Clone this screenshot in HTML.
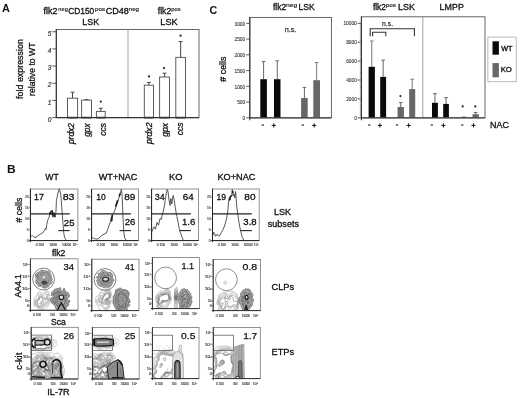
<!DOCTYPE html>
<html><head><meta charset="utf-8"><style>
html,body{margin:0;padding:0;background:#fff;}
body{width:520px;height:398px;overflow:hidden;}
svg{display:block;font-family:'Liberation Sans', Arial, sans-serif;}
text{font-variant-ligatures:none;font-kerning:normal;}
</style></head><body>
<svg width="520" height="398" viewBox="0 0 520 398">
<rect width="520" height="398" fill="#fff"/>
<text x="1.98" y="11.75" font-size="11.05" text-anchor="start" font-weight="bold" fill="#111" textLength="7.87" lengthAdjust="spacingAndGlyphs">A</text>
<text x="43.62" y="13.9" font-size="8.5" text-anchor="start" fill="#111" stroke="#111" stroke-width="0.3" textLength="13.89" lengthAdjust="spacingAndGlyphs">flk2</text>
<text x="58.37" y="11.1" font-size="5.6" text-anchor="start" fill="#111" stroke="#111" stroke-width="0.12" textLength="9.44" lengthAdjust="spacingAndGlyphs">neg</text>
<text x="68.13" y="13.9" font-size="8.5" text-anchor="start" fill="#111" stroke="#111" stroke-width="0.3" textLength="26.14" lengthAdjust="spacingAndGlyphs">CD150</text>
<text x="95.14" y="11.1" font-size="5.6" text-anchor="start" fill="#111" stroke="#111" stroke-width="0.12" textLength="10.13" lengthAdjust="spacingAndGlyphs">pos</text>
<text x="105.7" y="13.9" font-size="8.5" text-anchor="start" fill="#111" stroke="#111" stroke-width="0.3" textLength="23.05" lengthAdjust="spacingAndGlyphs">CD48</text>
<text x="128.73" y="11.1" font-size="5.6" text-anchor="start" fill="#111" stroke="#111" stroke-width="0.12" textLength="10.31" lengthAdjust="spacingAndGlyphs">neg</text>
<text x="82.32" y="24.76" font-size="8.62" text-anchor="start" fill="#111" stroke="#111" stroke-width="0.3" textLength="16.74" lengthAdjust="spacingAndGlyphs">LSK</text>
<text x="157.82" y="13.8" font-size="8.5" text-anchor="start" fill="#111" stroke="#111" stroke-width="0.3" textLength="13.37" lengthAdjust="spacingAndGlyphs">flk2</text>
<text x="171.38" y="11.0" font-size="5.6" text-anchor="start" fill="#111" stroke="#111" stroke-width="0.12" textLength="9.17" lengthAdjust="spacingAndGlyphs">pos</text>
<text x="160.3" y="24.87" font-size="8.34" text-anchor="start" fill="#111" stroke="#111" stroke-width="0.3" textLength="17.27" lengthAdjust="spacingAndGlyphs">LSK</text>
<rect x="56.3" y="29.5" width="142.7" height="88.1" fill="none" stroke="#555" stroke-width="0.9"/>
<line x1="56.3" y1="29.0" x2="56.3" y2="118.1" stroke="#333" stroke-width="1.1"/>
<line x1="128" y1="29.5" x2="128" y2="117.6" stroke="#999" stroke-width="0.9"/>
<line x1="52.4" y1="117.6" x2="56.3" y2="117.6" stroke="#444" stroke-width="0.9"/>
<text x="51.4" y="121.69999999999999" font-size="6.5" text-anchor="end" font-style="italic" fill="#333" stroke="#333" stroke-width="0.2">0</text>
<line x1="52.4" y1="100.42999999999999" x2="56.3" y2="100.42999999999999" stroke="#444" stroke-width="0.9"/>
<text x="51.4" y="104.52999999999999" font-size="6.5" text-anchor="end" font-style="italic" fill="#333" stroke="#333" stroke-width="0.2">1</text>
<line x1="52.4" y1="83.25999999999999" x2="56.3" y2="83.25999999999999" stroke="#444" stroke-width="0.9"/>
<text x="51.4" y="87.35999999999999" font-size="6.5" text-anchor="end" font-style="italic" fill="#333" stroke="#333" stroke-width="0.2">2</text>
<line x1="52.4" y1="66.08999999999999" x2="56.3" y2="66.08999999999999" stroke="#444" stroke-width="0.9"/>
<text x="51.4" y="70.18999999999998" font-size="6.5" text-anchor="end" font-style="italic" fill="#333" stroke="#333" stroke-width="0.2">3</text>
<line x1="52.4" y1="48.91999999999999" x2="56.3" y2="48.91999999999999" stroke="#444" stroke-width="0.9"/>
<text x="51.4" y="53.01999999999999" font-size="6.5" text-anchor="end" font-style="italic" fill="#333" stroke="#333" stroke-width="0.2">4</text>
<line x1="52.4" y1="31.749999999999986" x2="56.3" y2="31.749999999999986" stroke="#444" stroke-width="0.9"/>
<text x="51.4" y="35.84999999999999" font-size="6.5" text-anchor="end" font-style="italic" fill="#333" stroke="#333" stroke-width="0.2">5</text>
<line x1="72.55000000000001" y1="98.2" x2="72.55000000000001" y2="92.2" stroke="#444" stroke-width="1"/>
<line x1="70.65" y1="92.2" x2="74.45000000000002" y2="92.2" stroke="#444" stroke-width="1"/>
<rect x="67.5" y="98.2" width="10.099999999999998" height="19.39999999999999" fill="#fff" stroke="#555" stroke-width="0.95"/>
<line x1="67.4" y1="117.6" x2="77.7" y2="117.6" stroke="#222" stroke-width="1.6"/>
<line x1="86.55" y1="100.1" x2="86.55" y2="99.6" stroke="#444" stroke-width="1"/>
<line x1="84.64999999999999" y1="99.6" x2="88.45" y2="99.6" stroke="#444" stroke-width="1"/>
<rect x="81.6" y="100.1" width="9.899999999999995" height="17.5" fill="#fff" stroke="#555" stroke-width="0.95"/>
<line x1="81.5" y1="117.6" x2="91.6" y2="117.6" stroke="#222" stroke-width="1.6"/>
<line x1="100.8" y1="111.4" x2="100.8" y2="108.3" stroke="#444" stroke-width="1"/>
<line x1="98.89999999999999" y1="108.3" x2="102.7" y2="108.3" stroke="#444" stroke-width="1"/>
<rect x="96.39999999999999" y="111.4" width="8.8" height="6.199999999999989" fill="#fff" stroke="#555" stroke-width="0.95"/>
<line x1="96.3" y1="117.6" x2="105.3" y2="117.6" stroke="#222" stroke-width="1.6"/>
<circle cx="100.8" cy="101.6" r="1.1" fill="#222"/>
<line x1="148.89999999999998" y1="85.2" x2="148.89999999999998" y2="82.4" stroke="#444" stroke-width="1"/>
<line x1="146.99999999999997" y1="82.4" x2="150.79999999999998" y2="82.4" stroke="#444" stroke-width="1"/>
<rect x="144.29999999999998" y="85.2" width="9.200000000000006" height="32.39999999999999" fill="#fff" stroke="#555" stroke-width="0.95"/>
<line x1="144.2" y1="117.6" x2="153.6" y2="117.6" stroke="#222" stroke-width="1.6"/>
<circle cx="149.0" cy="76.4" r="1.1" fill="#222"/>
<line x1="164.55" y1="77.0" x2="164.55" y2="73.2" stroke="#444" stroke-width="1"/>
<line x1="162.65" y1="73.2" x2="166.45000000000002" y2="73.2" stroke="#444" stroke-width="1"/>
<rect x="159.6" y="77.0" width="9.899999999999995" height="40.599999999999994" fill="#fff" stroke="#555" stroke-width="0.95"/>
<line x1="159.5" y1="117.6" x2="169.6" y2="117.6" stroke="#222" stroke-width="1.6"/>
<circle cx="164.0" cy="68.1" r="1.1" fill="#222"/>
<line x1="180.64999999999998" y1="57.4" x2="180.64999999999998" y2="41.6" stroke="#444" stroke-width="1"/>
<line x1="178.74999999999997" y1="41.6" x2="182.54999999999998" y2="41.6" stroke="#444" stroke-width="1"/>
<rect x="175.79999999999998" y="57.4" width="9.700000000000006" height="60.199999999999996" fill="#fff" stroke="#555" stroke-width="0.95"/>
<line x1="175.7" y1="117.6" x2="185.6" y2="117.6" stroke="#222" stroke-width="1.6"/>
<circle cx="180.6" cy="35.7" r="1.1" fill="#222"/>
<line x1="56.3" y1="117.6" x2="199" y2="117.6" stroke="#333" stroke-width="1.1"/>
<text x="74.1" y="144.04" font-size="8.3" text-anchor="start" font-style="italic" fill="#111" stroke="#111" stroke-width="0.3" textLength="21.01" lengthAdjust="spacingAndGlyphs" transform="rotate(-90 74.1 144.04)">prdx2</text>
<text x="90.2" y="136.77" font-size="8.3" text-anchor="start" font-style="italic" fill="#111" stroke="#111" stroke-width="0.3" textLength="13.39" lengthAdjust="spacingAndGlyphs" transform="rotate(-90 90.2 136.77)">gpx</text>
<text x="105.7" y="135.73" font-size="8.3" text-anchor="start" font-style="italic" fill="#111" stroke="#111" stroke-width="0.3" textLength="12.75" lengthAdjust="spacingAndGlyphs" transform="rotate(-90 105.7 135.73)">ccs</text>
<text x="151.9" y="144.04" font-size="8.3" text-anchor="start" font-style="italic" fill="#111" stroke="#111" stroke-width="0.3" textLength="21.51" lengthAdjust="spacingAndGlyphs" transform="rotate(-90 151.9 144.04)">prdx2</text>
<text x="168.1" y="136.77" font-size="8.3" text-anchor="start" font-style="italic" fill="#111" stroke="#111" stroke-width="0.3" textLength="13.88" lengthAdjust="spacingAndGlyphs" transform="rotate(-90 168.1 136.77)">gpx</text>
<text x="183.4" y="135.33" font-size="8.3" text-anchor="start" font-style="italic" fill="#111" stroke="#111" stroke-width="0.3" textLength="12.85" lengthAdjust="spacingAndGlyphs" transform="rotate(-90 183.4 135.33)">ccs</text>
<text x="22.62" y="98.88" font-size="8.8" text-anchor="start" fill="#111" stroke="#111" stroke-width="0.3" textLength="59.72" lengthAdjust="spacingAndGlyphs" transform="rotate(-90 22.62 98.88)">fold expression</text>
<text x="34.96" y="95.94" font-size="8.8" text-anchor="start" fill="#111" stroke="#111" stroke-width="0.3" textLength="53.49" lengthAdjust="spacingAndGlyphs" transform="rotate(-90 34.96 95.94)">relative to WT</text>
<text x="209.42" y="14.13" font-size="11.59" text-anchor="start" font-weight="bold" fill="#111" textLength="7.72" lengthAdjust="spacingAndGlyphs">C</text>
<text x="272.92" y="10.0" font-size="8.6" text-anchor="start" fill="#111" stroke="#111" stroke-width="0.3" textLength="13.26" lengthAdjust="spacingAndGlyphs">flk2</text>
<text x="286.0" y="7.3" font-size="5.6" text-anchor="start" fill="#111" stroke="#111" stroke-width="0.12" textLength="11.18" lengthAdjust="spacingAndGlyphs">neg</text>
<text x="298.54" y="10.0" font-size="8.6" text-anchor="start" fill="#111" stroke="#111" stroke-width="0.3" textLength="16.32" lengthAdjust="spacingAndGlyphs">LSK</text>
<text x="372.92" y="10.0" font-size="8.6" text-anchor="start" fill="#111" stroke="#111" stroke-width="0.3" textLength="13.06" lengthAdjust="spacingAndGlyphs">flk2</text>
<text x="385.84" y="7.3" font-size="5.6" text-anchor="start" fill="#111" stroke="#111" stroke-width="0.12" textLength="10.13" lengthAdjust="spacingAndGlyphs">pos</text>
<text x="398.01" y="10.0" font-size="8.6" text-anchor="start" fill="#111" stroke="#111" stroke-width="0.3" textLength="16.85" lengthAdjust="spacingAndGlyphs">LSK</text>
<text x="439.62" y="9.55" font-size="9.02" text-anchor="start" fill="#111" stroke="#111" stroke-width="0.3" textLength="24.21" lengthAdjust="spacingAndGlyphs">LMPP</text>
<text x="225.96" y="81.69" font-size="8.9" text-anchor="start" fill="#111" stroke="#111" stroke-width="0.3" textLength="25.15" lengthAdjust="spacingAndGlyphs" transform="rotate(-90 225.96 81.69)"># cells</text>
<rect x="249.8" y="17.4" width="81.6" height="100.4" fill="none" stroke="#555" stroke-width="0.9"/>
<line x1="246.3" y1="117.8" x2="249.8" y2="117.8" stroke="#444" stroke-width="0.9"/>
<text x="245.2" y="120.0" font-size="4.8" text-anchor="end" fill="#333" stroke="#333" stroke-width="0.1">0</text>
<line x1="246.3" y1="102.05" x2="249.8" y2="102.05" stroke="#444" stroke-width="0.9"/>
<text x="245.2" y="104.25" font-size="4.8" text-anchor="end" fill="#333" stroke="#333" stroke-width="0.1">500</text>
<line x1="246.3" y1="86.3" x2="249.8" y2="86.3" stroke="#444" stroke-width="0.9"/>
<text x="245.2" y="88.5" font-size="4.8" text-anchor="end" fill="#333" stroke="#333" stroke-width="0.1">1000</text>
<line x1="246.3" y1="70.55" x2="249.8" y2="70.55" stroke="#444" stroke-width="0.9"/>
<text x="245.2" y="72.75" font-size="4.8" text-anchor="end" fill="#333" stroke="#333" stroke-width="0.1">1500</text>
<line x1="246.3" y1="54.8" x2="249.8" y2="54.8" stroke="#444" stroke-width="0.9"/>
<text x="245.2" y="57.0" font-size="4.8" text-anchor="end" fill="#333" stroke="#333" stroke-width="0.1">2000</text>
<line x1="246.3" y1="39.05" x2="249.8" y2="39.05" stroke="#444" stroke-width="0.9"/>
<text x="245.2" y="41.25" font-size="4.8" text-anchor="end" fill="#333" stroke="#333" stroke-width="0.1">2500</text>
<line x1="246.3" y1="23.299999999999997" x2="249.8" y2="23.299999999999997" stroke="#444" stroke-width="0.9"/>
<text x="245.2" y="25.499999999999996" font-size="4.8" text-anchor="end" fill="#333" stroke="#333" stroke-width="0.1">3000</text>
<line x1="263.6" y1="79.2" x2="263.6" y2="61.6" stroke="#666" stroke-width="1"/>
<line x1="261.8" y1="61.6" x2="265.40000000000003" y2="61.6" stroke="#666" stroke-width="1"/>
<rect x="260.3" y="79.2" width="6.599999999999966" height="38.599999999999994" fill="#0a0a0a" stroke="none" stroke-width="1"/>
<line x1="277.25" y1="79.2" x2="277.25" y2="60.8" stroke="#666" stroke-width="1"/>
<line x1="275.45" y1="60.8" x2="279.05" y2="60.8" stroke="#666" stroke-width="1"/>
<rect x="274.0" y="79.2" width="6.5" height="38.599999999999994" fill="#0a0a0a" stroke="none" stroke-width="1"/>
<line x1="304.4" y1="98.0" x2="304.4" y2="87.4" stroke="#666" stroke-width="1"/>
<line x1="302.59999999999997" y1="87.4" x2="306.2" y2="87.4" stroke="#666" stroke-width="1"/>
<rect x="301.1" y="98.0" width="6.599999999999966" height="19.799999999999997" fill="#676767" stroke="none" stroke-width="1"/>
<line x1="316.65" y1="80.2" x2="316.65" y2="62.6" stroke="#777" stroke-width="1"/>
<line x1="314.84999999999997" y1="62.6" x2="318.45" y2="62.6" stroke="#777" stroke-width="1"/>
<rect x="313.3" y="80.2" width="6.699999999999989" height="37.599999999999994" fill="#676767" stroke="none" stroke-width="1"/>
<text x="284.76" y="32.1" font-size="8.0" text-anchor="start" fill="#333" stroke="#333" stroke-width="0.25" textLength="11.63" lengthAdjust="spacingAndGlyphs">n.s.</text>
<rect x="361.4" y="16.8" width="123.6" height="101.0" fill="none" stroke="#555" stroke-width="0.9"/>
<line x1="422.8" y1="16.8" x2="422.8" y2="117.8" stroke="#a0a0a0" stroke-width="1"/>
<line x1="357.6" y1="117.8" x2="361.4" y2="117.8" stroke="#444" stroke-width="0.9"/>
<text x="356.8" y="119.6" font-size="4.8" text-anchor="end" fill="#333" stroke="#333" stroke-width="0.1">0</text>
<line x1="357.6" y1="98.9" x2="361.4" y2="98.9" stroke="#444" stroke-width="0.9"/>
<text x="356.8" y="100.7" font-size="4.8" text-anchor="end" fill="#333" stroke="#333" stroke-width="0.1">2000</text>
<line x1="357.6" y1="80.0" x2="361.4" y2="80.0" stroke="#444" stroke-width="0.9"/>
<text x="356.8" y="81.8" font-size="4.8" text-anchor="end" fill="#333" stroke="#333" stroke-width="0.1">4000</text>
<line x1="357.6" y1="61.1" x2="361.4" y2="61.1" stroke="#444" stroke-width="0.9"/>
<text x="356.8" y="62.9" font-size="4.8" text-anchor="end" fill="#333" stroke="#333" stroke-width="0.1">6000</text>
<line x1="357.6" y1="42.2" x2="361.4" y2="42.2" stroke="#444" stroke-width="0.9"/>
<text x="356.8" y="44.0" font-size="4.8" text-anchor="end" fill="#333" stroke="#333" stroke-width="0.1">8000</text>
<line x1="357.6" y1="23.299999999999997" x2="361.4" y2="23.299999999999997" stroke="#444" stroke-width="0.9"/>
<text x="356.8" y="25.099999999999998" font-size="4.8" text-anchor="end" fill="#333" stroke="#333" stroke-width="0.1">10000</text>
<line x1="359.8" y1="115.91" x2="361.4" y2="115.91" stroke="#555" stroke-width="0.6"/>
<line x1="359.8" y1="114.02" x2="361.4" y2="114.02" stroke="#555" stroke-width="0.6"/>
<line x1="359.8" y1="112.13" x2="361.4" y2="112.13" stroke="#555" stroke-width="0.6"/>
<line x1="359.8" y1="110.24" x2="361.4" y2="110.24" stroke="#555" stroke-width="0.6"/>
<line x1="359.8" y1="108.35" x2="361.4" y2="108.35" stroke="#555" stroke-width="0.6"/>
<line x1="359.8" y1="106.46" x2="361.4" y2="106.46" stroke="#555" stroke-width="0.6"/>
<line x1="359.8" y1="104.57" x2="361.4" y2="104.57" stroke="#555" stroke-width="0.6"/>
<line x1="359.8" y1="102.67999999999999" x2="361.4" y2="102.67999999999999" stroke="#555" stroke-width="0.6"/>
<line x1="359.8" y1="100.78999999999999" x2="361.4" y2="100.78999999999999" stroke="#555" stroke-width="0.6"/>
<line x1="359.8" y1="97.00999999999999" x2="361.4" y2="97.00999999999999" stroke="#555" stroke-width="0.6"/>
<line x1="359.8" y1="95.12" x2="361.4" y2="95.12" stroke="#555" stroke-width="0.6"/>
<line x1="359.8" y1="93.22999999999999" x2="361.4" y2="93.22999999999999" stroke="#555" stroke-width="0.6"/>
<line x1="359.8" y1="91.34" x2="361.4" y2="91.34" stroke="#555" stroke-width="0.6"/>
<line x1="359.8" y1="89.44999999999999" x2="361.4" y2="89.44999999999999" stroke="#555" stroke-width="0.6"/>
<line x1="359.8" y1="87.56" x2="361.4" y2="87.56" stroke="#555" stroke-width="0.6"/>
<line x1="359.8" y1="85.67" x2="361.4" y2="85.67" stroke="#555" stroke-width="0.6"/>
<line x1="359.8" y1="83.78" x2="361.4" y2="83.78" stroke="#555" stroke-width="0.6"/>
<line x1="359.8" y1="81.89" x2="361.4" y2="81.89" stroke="#555" stroke-width="0.6"/>
<line x1="359.8" y1="78.11" x2="361.4" y2="78.11" stroke="#555" stroke-width="0.6"/>
<line x1="359.8" y1="76.22" x2="361.4" y2="76.22" stroke="#555" stroke-width="0.6"/>
<line x1="359.8" y1="74.33" x2="361.4" y2="74.33" stroke="#555" stroke-width="0.6"/>
<line x1="359.8" y1="72.44" x2="361.4" y2="72.44" stroke="#555" stroke-width="0.6"/>
<line x1="359.8" y1="70.55000000000001" x2="361.4" y2="70.55000000000001" stroke="#555" stroke-width="0.6"/>
<line x1="359.8" y1="68.66" x2="361.4" y2="68.66" stroke="#555" stroke-width="0.6"/>
<line x1="359.8" y1="66.77000000000001" x2="361.4" y2="66.77000000000001" stroke="#555" stroke-width="0.6"/>
<line x1="359.8" y1="64.88" x2="361.4" y2="64.88" stroke="#555" stroke-width="0.6"/>
<line x1="359.8" y1="62.99000000000001" x2="361.4" y2="62.99000000000001" stroke="#555" stroke-width="0.6"/>
<line x1="359.8" y1="59.21" x2="361.4" y2="59.21" stroke="#555" stroke-width="0.6"/>
<line x1="359.8" y1="57.32" x2="361.4" y2="57.32" stroke="#555" stroke-width="0.6"/>
<line x1="359.8" y1="55.43000000000001" x2="361.4" y2="55.43000000000001" stroke="#555" stroke-width="0.6"/>
<line x1="359.8" y1="53.540000000000006" x2="361.4" y2="53.540000000000006" stroke="#555" stroke-width="0.6"/>
<line x1="359.8" y1="51.64999999999999" x2="361.4" y2="51.64999999999999" stroke="#555" stroke-width="0.6"/>
<line x1="359.8" y1="49.760000000000005" x2="361.4" y2="49.760000000000005" stroke="#555" stroke-width="0.6"/>
<line x1="359.8" y1="47.870000000000005" x2="361.4" y2="47.870000000000005" stroke="#555" stroke-width="0.6"/>
<line x1="359.8" y1="45.980000000000004" x2="361.4" y2="45.980000000000004" stroke="#555" stroke-width="0.6"/>
<line x1="359.8" y1="44.09" x2="361.4" y2="44.09" stroke="#555" stroke-width="0.6"/>
<line x1="359.8" y1="40.31" x2="361.4" y2="40.31" stroke="#555" stroke-width="0.6"/>
<line x1="359.8" y1="38.42" x2="361.4" y2="38.42" stroke="#555" stroke-width="0.6"/>
<line x1="359.8" y1="36.53" x2="361.4" y2="36.53" stroke="#555" stroke-width="0.6"/>
<line x1="359.8" y1="34.64" x2="361.4" y2="34.64" stroke="#555" stroke-width="0.6"/>
<line x1="359.8" y1="32.750000000000014" x2="361.4" y2="32.750000000000014" stroke="#555" stroke-width="0.6"/>
<line x1="359.8" y1="30.86" x2="361.4" y2="30.86" stroke="#555" stroke-width="0.6"/>
<line x1="359.8" y1="28.97" x2="361.4" y2="28.97" stroke="#555" stroke-width="0.6"/>
<line x1="359.8" y1="27.08" x2="361.4" y2="27.08" stroke="#555" stroke-width="0.6"/>
<line x1="359.8" y1="25.190000000000012" x2="361.4" y2="25.190000000000012" stroke="#555" stroke-width="0.6"/>
<line x1="371.75" y1="66.8" x2="371.75" y2="41.0" stroke="#777" stroke-width="1"/>
<line x1="369.95" y1="41.0" x2="373.55" y2="41.0" stroke="#777" stroke-width="1"/>
<rect x="368.6" y="66.8" width="6.2999999999999545" height="51.0" fill="#0a0a0a" stroke="none" stroke-width="1"/>
<line x1="383.15" y1="76.9" x2="383.15" y2="60.1" stroke="#666" stroke-width="1"/>
<line x1="381.34999999999997" y1="60.1" x2="384.95" y2="60.1" stroke="#666" stroke-width="1"/>
<rect x="380.2" y="76.9" width="5.900000000000034" height="40.89999999999999" fill="#0a0a0a" stroke="none" stroke-width="1"/>
<line x1="400.75" y1="107.0" x2="400.75" y2="102.6" stroke="#666" stroke-width="1"/>
<line x1="398.95" y1="102.6" x2="402.55" y2="102.6" stroke="#666" stroke-width="1"/>
<rect x="397.6" y="107.0" width="6.2999999999999545" height="10.799999999999997" fill="#676767" stroke="none" stroke-width="1"/>
<circle cx="400.4" cy="96.1" r="1.05" fill="#222"/>
<line x1="412.2" y1="89.1" x2="412.2" y2="79.2" stroke="#777" stroke-width="1"/>
<line x1="410.4" y1="79.2" x2="414.0" y2="79.2" stroke="#777" stroke-width="1"/>
<rect x="409.2" y="89.1" width="6.0" height="28.700000000000003" fill="#676767" stroke="none" stroke-width="1"/>
<line x1="434.95" y1="102.8" x2="434.95" y2="93.6" stroke="#666" stroke-width="1"/>
<line x1="433.15" y1="93.6" x2="436.75" y2="93.6" stroke="#666" stroke-width="1"/>
<rect x="432.0" y="102.8" width="5.899999999999977" height="15.0" fill="#0a0a0a" stroke="none" stroke-width="1"/>
<line x1="446.04999999999995" y1="103.9" x2="446.04999999999995" y2="97.6" stroke="#666" stroke-width="1"/>
<line x1="444.24999999999994" y1="97.6" x2="447.84999999999997" y2="97.6" stroke="#666" stroke-width="1"/>
<rect x="443.2" y="103.9" width="5.699999999999989" height="13.899999999999991" fill="#0a0a0a" stroke="none" stroke-width="1"/>
<line x1="463.95000000000005" y1="117.0" x2="463.95000000000005" y2="117.0" stroke="#666" stroke-width="1"/>
<line x1="462.15000000000003" y1="117.0" x2="465.75000000000006" y2="117.0" stroke="#666" stroke-width="1"/>
<rect x="460.8" y="117.0" width="6.300000000000011" height="0.7999999999999972" fill="#676767" stroke="none" stroke-width="1"/>
<circle cx="462.7" cy="106.4" r="1.05" fill="#222"/>
<line x1="475.65" y1="114.2" x2="475.65" y2="112.5" stroke="#666" stroke-width="1"/>
<line x1="473.84999999999997" y1="112.5" x2="477.45" y2="112.5" stroke="#666" stroke-width="1"/>
<rect x="472.5" y="114.2" width="6.300000000000011" height="3.5999999999999943" fill="#676767" stroke="none" stroke-width="1"/>
<circle cx="475.3" cy="106.4" r="1.05" fill="#222"/>
<path d="M370.2 36.3 V28.8 H414.4 V36.3" fill="none" stroke="#333" stroke-width="1.1"/>
<path d="M372.6 36.3 V32.3 H385.8 V36.3" fill="none" stroke="#333" stroke-width="1.1"/>
<text x="382.09" y="26.0" font-size="8.0" text-anchor="start" fill="#333" stroke="#333" stroke-width="0.25" textLength="10.97" lengthAdjust="spacingAndGlyphs">n.s.</text>
<line x1="249.8" y1="117.8" x2="331.4" y2="117.8" stroke="#444" stroke-width="1.2"/>
<line x1="361.4" y1="117.8" x2="485.0" y2="117.8" stroke="#444" stroke-width="1.2"/>
<line x1="249.8" y1="17.0" x2="249.8" y2="120.3" stroke="#333" stroke-width="1.1"/>
<line x1="361.4" y1="16.4" x2="361.4" y2="120.3" stroke="#333" stroke-width="1.1"/>
<line x1="261.7" y1="125.0" x2="263.90000000000003" y2="125.0" stroke="#222" stroke-width="1.2"/>
<line x1="271.7" y1="125.4" x2="275.90000000000003" y2="125.4" stroke="#111" stroke-width="1.0"/>
<line x1="273.8" y1="123.3" x2="273.8" y2="127.5" stroke="#111" stroke-width="1.0"/>
<line x1="301.7" y1="125.0" x2="303.90000000000003" y2="125.0" stroke="#222" stroke-width="1.2"/>
<line x1="312.09999999999997" y1="125.4" x2="316.3" y2="125.4" stroke="#111" stroke-width="1.0"/>
<line x1="314.2" y1="123.3" x2="314.2" y2="127.5" stroke="#111" stroke-width="1.0"/>
<line x1="368.2" y1="125.0" x2="370.40000000000003" y2="125.0" stroke="#222" stroke-width="1.2"/>
<line x1="377.79999999999995" y1="125.4" x2="382.0" y2="125.4" stroke="#111" stroke-width="1.0"/>
<line x1="379.9" y1="123.3" x2="379.9" y2="127.5" stroke="#111" stroke-width="1.0"/>
<line x1="395.9" y1="125.0" x2="398.1" y2="125.0" stroke="#222" stroke-width="1.2"/>
<line x1="406.59999999999997" y1="125.4" x2="410.8" y2="125.4" stroke="#111" stroke-width="1.0"/>
<line x1="408.7" y1="123.3" x2="408.7" y2="127.5" stroke="#111" stroke-width="1.0"/>
<line x1="430.7" y1="125.0" x2="432.90000000000003" y2="125.0" stroke="#222" stroke-width="1.2"/>
<line x1="441.29999999999995" y1="125.4" x2="445.5" y2="125.4" stroke="#111" stroke-width="1.0"/>
<line x1="443.4" y1="123.3" x2="443.4" y2="127.5" stroke="#111" stroke-width="1.0"/>
<line x1="461.09999999999997" y1="125.0" x2="463.3" y2="125.0" stroke="#222" stroke-width="1.2"/>
<line x1="471.4" y1="125.4" x2="475.6" y2="125.4" stroke="#111" stroke-width="1.0"/>
<line x1="473.5" y1="123.3" x2="473.5" y2="127.5" stroke="#111" stroke-width="1.0"/>
<text x="490.11" y="127.66" font-size="9.19" text-anchor="start" fill="#111" stroke="#111" stroke-width="0.3" textLength="18.89" lengthAdjust="spacingAndGlyphs">NAC</text>
<rect x="487.9" y="37.1" width="28.3" height="44.6" fill="none" stroke="#aaa" stroke-width="0.8"/>
<rect x="492.5" y="41.3" width="6.4" height="13.4" fill="#0a0a0a" stroke="none" stroke-width="1"/>
<rect x="492.5" y="63.1" width="6.4" height="14.2" fill="#676767" stroke="none" stroke-width="1"/>
<text x="501.31" y="50.75" font-size="6.69" text-anchor="start" fill="#111" stroke="#111" stroke-width="0.3" textLength="11.2" lengthAdjust="spacingAndGlyphs">WT</text>
<text x="500.71" y="72.08" font-size="6.5" text-anchor="start" fill="#111" stroke="#111" stroke-width="0.3" textLength="11.21" lengthAdjust="spacingAndGlyphs">KO</text>
<text x="6.94" y="172.65" font-size="11.05" text-anchor="start" font-weight="bold" fill="#111" textLength="8.64" lengthAdjust="spacingAndGlyphs">B</text>
<text x="45.21" y="180.05" font-size="8.73" text-anchor="start" fill="#111" stroke="#111" stroke-width="0.3" textLength="13.54" lengthAdjust="spacingAndGlyphs">WT</text>
<text x="98.8" y="180.06" font-size="8.62" text-anchor="start" fill="#111" stroke="#111" stroke-width="0.3" textLength="38.61" lengthAdjust="spacingAndGlyphs">WT+NAC</text>
<text x="169.08" y="179.87" font-size="8.34" text-anchor="start" fill="#111" stroke="#111" stroke-width="0.3" textLength="13.4" lengthAdjust="spacingAndGlyphs">KO</text>
<text x="217.49" y="180.26" font-size="8.62" text-anchor="start" fill="#111" stroke="#111" stroke-width="0.3" textLength="38.03" lengthAdjust="spacingAndGlyphs">KO+NAC</text>
<text x="22.26" y="222.49" font-size="8.9" text-anchor="start" fill="#111" stroke="#111" stroke-width="0.3" textLength="24.75" lengthAdjust="spacingAndGlyphs" transform="rotate(-90 22.26 222.49)"># cells</text>
<text x="20.55" y="297.47" font-size="8.9" text-anchor="start" fill="#111" stroke="#111" stroke-width="0.3" textLength="23.34" lengthAdjust="spacingAndGlyphs" transform="rotate(-90 20.55 297.47)">AA4.1</text>
<text x="22.26" y="369.64" font-size="8.9" text-anchor="start" fill="#111" stroke="#111" stroke-width="0.3" textLength="16.87" lengthAdjust="spacingAndGlyphs" transform="rotate(-90 22.26 369.64)">c-kit</text>
<text x="51.92" y="255.8" font-size="8.9" text-anchor="start" fill="#111" stroke="#111" stroke-width="0.3" textLength="13.47" lengthAdjust="spacingAndGlyphs">flk2</text>
<text x="50.96" y="324.5" font-size="9.3" text-anchor="start" fill="#111" stroke="#111" stroke-width="0.3" textLength="14.89" lengthAdjust="spacingAndGlyphs">Sca</text>
<text x="47.31" y="394.6" font-size="8.8" text-anchor="start" fill="#111" stroke="#111" stroke-width="0.3" textLength="22.28" lengthAdjust="spacingAndGlyphs">IL-7R</text>
<text x="273.9" y="215.3" font-size="8.8" text-anchor="start" fill="#111" stroke="#111" stroke-width="0.3" textLength="17.16" lengthAdjust="spacingAndGlyphs">LSK</text>
<text x="267.8" y="226.6" font-size="9.0" text-anchor="start" fill="#111" stroke="#111" stroke-width="0.3" textLength="31.15" lengthAdjust="spacingAndGlyphs">subsets</text>
<text x="271.49" y="289.7" font-size="9.4" text-anchor="start" fill="#111" stroke="#111" stroke-width="0.3" textLength="22.69" lengthAdjust="spacingAndGlyphs">CLPs</text>
<text x="271.48" y="354.5" font-size="9.3" text-anchor="start" fill="#111" stroke="#111" stroke-width="0.3" textLength="22.69" lengthAdjust="spacingAndGlyphs">ETPs</text>
<polyline points="31.2,236.2 32.4,235.5 33.8,236.9 36.0,237.4 38.2,235.5 40.4,234.2 42.6,233.0 44.0,231.2 45.5,228.3 46.1,229.5 46.6,225.4 47.6,220.3 49.1,217.3 49.8,212.2 51.0,215.1 52.0,210.0 53.0,217.3 53.9,212.4 54.9,217.3 55.9,212.9 56.4,200.6 57.8,194.0 58.6,191.0 59.3,188.7 60.1,191.5 60.8,194.7 61.8,207.8 62.9,222.4 63.7,232.6 64.4,236.5 65.1,238.7 66.5,240.6" fill="none" stroke="#3a3a3a" stroke-width="0.85" stroke-linejoin="round"/>
<line x1="30.4" y1="213.8" x2="69.69999999999999" y2="213.8" stroke="#222" stroke-width="1.25"/>
<line x1="58.4" y1="230.6" x2="69.69999999999999" y2="230.6" stroke="#222" stroke-width="1.1"/>
<text x="34.09" y="199.65" font-size="9.2" text-anchor="start" fill="#111" stroke="#111" stroke-width="0.3" textLength="9.82" lengthAdjust="spacingAndGlyphs">17</text>
<text x="62.7" y="199.85" font-size="9.2" text-anchor="start" fill="#111" stroke="#111" stroke-width="0.3" textLength="11.83" lengthAdjust="spacingAndGlyphs">83</text>
<text x="63.87" y="225.55" font-size="9.2" text-anchor="start" fill="#111" stroke="#111" stroke-width="0.3" textLength="10.58" lengthAdjust="spacingAndGlyphs">25</text>
<rect x="30.4" y="189.0" width="47.50000000000001" height="51.599999999999994" fill="none" stroke="#777" stroke-width="0.8"/>
<line x1="30.4" y1="188.7" x2="30.4" y2="242.1" stroke="#222" stroke-width="1"/>
<line x1="28.9" y1="240.6" x2="77.9" y2="240.6" stroke="#222" stroke-width="1"/>
<path d="M50.2 213.8 L50.9 210.8 M52.3 210.5 L53 216.5 M54.2 213 L55 217" stroke="#222" stroke-width="1.2"/>
<line x1="28.799999999999997" y1="197.256" x2="30.4" y2="197.256" stroke="#555" stroke-width="0.6"/>
<text x="28.5" y="198.356" font-size="3.2" text-anchor="end" fill="#333" stroke="#333" stroke-width="0.12">20</text>
<line x1="28.799999999999997" y1="207.834" x2="30.4" y2="207.834" stroke="#555" stroke-width="0.6"/>
<text x="28.5" y="208.934" font-size="3.2" text-anchor="end" fill="#333" stroke="#333" stroke-width="0.12">15</text>
<line x1="28.799999999999997" y1="218.7216" x2="30.4" y2="218.7216" stroke="#555" stroke-width="0.6"/>
<text x="28.5" y="219.8216" font-size="3.2" text-anchor="end" fill="#333" stroke="#333" stroke-width="0.12">10</text>
<line x1="28.799999999999997" y1="229.764" x2="30.4" y2="229.764" stroke="#555" stroke-width="0.6"/>
<text x="28.5" y="230.864" font-size="3.2" text-anchor="end" fill="#333" stroke="#333" stroke-width="0.12">5</text>
<line x1="28.799999999999997" y1="240.6" x2="30.4" y2="240.6" stroke="#555" stroke-width="0.6"/>
<text x="28.5" y="241.7" font-size="3.2" text-anchor="end" fill="#333" stroke="#333" stroke-width="0.12">0</text>
<text x="39.9" y="245.79999999999998" font-size="3.3" text-anchor="middle" fill="#333" stroke="#333" stroke-width="0.12">0 100</text>
<text x="53.2" y="245.79999999999998" font-size="3.3" text-anchor="middle" fill="#333" stroke="#333" stroke-width="0.12">1000</text>
<text x="66.5" y="245.79999999999998" font-size="3.3" text-anchor="middle" fill="#333" stroke="#333" stroke-width="0.12">10000</text>
<text x="75.05000000000001" y="245.79999999999998" font-size="3.3" text-anchor="middle" fill="#333" stroke="#333" stroke-width="0.12">10⁵</text>
<polyline points="91.9,237.2 93.5,238.4 94.8,238.7 97.7,239.1 99.9,237.2 102.1,235.2 104.3,234.0 106.2,233.3 107.6,229.7 109.1,225.3 110.5,221.7 111.4,217.0 111.8,221.0 112.3,214.5 113.5,213.5 114.9,210.0 116.7,204.9 117.8,202.0 118.8,198.4 119.9,194.7 120.7,191.8 121.4,189.0 121.9,193.0 122.3,200.0 122.8,212.0 123.3,224.0 123.8,232.0 124.6,237.5 126.0,240.3 127.5,240.6" fill="none" stroke="#3a3a3a" stroke-width="0.85" stroke-linejoin="round"/>
<line x1="91.6" y1="213.8" x2="130.89999999999998" y2="213.8" stroke="#222" stroke-width="1.25"/>
<line x1="119.6" y1="230.6" x2="130.89999999999998" y2="230.6" stroke="#222" stroke-width="1.1"/>
<text x="96.31" y="199.55" font-size="9.2" text-anchor="start" fill="#111" stroke="#111" stroke-width="0.3" textLength="9.48" lengthAdjust="spacingAndGlyphs">10</text>
<text x="124.33" y="199.55" font-size="9.2" text-anchor="start" fill="#111" stroke="#111" stroke-width="0.3" textLength="11.1" lengthAdjust="spacingAndGlyphs">89</text>
<text x="124.67" y="225.05" font-size="9.2" text-anchor="start" fill="#111" stroke="#111" stroke-width="0.3" textLength="10.71" lengthAdjust="spacingAndGlyphs">26</text>
<rect x="91.6" y="189.0" width="46.900000000000006" height="51.599999999999994" fill="none" stroke="#777" stroke-width="0.8"/>
<line x1="91.6" y1="188.7" x2="91.6" y2="242.1" stroke="#222" stroke-width="1"/>
<line x1="90.1" y1="240.6" x2="138.5" y2="240.6" stroke="#222" stroke-width="1"/>
<path d="M111.3 221.5 L112.4 214.8 M115.6 206.5 L117.6 200.2 M119.2 196.5 L120.2 193.2" stroke="#222" stroke-width="1.6"/>
<line x1="90.0" y1="197.256" x2="91.6" y2="197.256" stroke="#555" stroke-width="0.6"/>
<text x="89.69999999999999" y="198.356" font-size="3.2" text-anchor="end" fill="#333" stroke="#333" stroke-width="0.12">20</text>
<line x1="90.0" y1="207.834" x2="91.6" y2="207.834" stroke="#555" stroke-width="0.6"/>
<text x="89.69999999999999" y="208.934" font-size="3.2" text-anchor="end" fill="#333" stroke="#333" stroke-width="0.12">15</text>
<line x1="90.0" y1="218.7216" x2="91.6" y2="218.7216" stroke="#555" stroke-width="0.6"/>
<text x="89.69999999999999" y="219.8216" font-size="3.2" text-anchor="end" fill="#333" stroke="#333" stroke-width="0.12">10</text>
<line x1="90.0" y1="229.764" x2="91.6" y2="229.764" stroke="#555" stroke-width="0.6"/>
<text x="89.69999999999999" y="230.864" font-size="3.2" text-anchor="end" fill="#333" stroke="#333" stroke-width="0.12">5</text>
<line x1="90.0" y1="240.6" x2="91.6" y2="240.6" stroke="#555" stroke-width="0.6"/>
<text x="89.69999999999999" y="241.7" font-size="3.2" text-anchor="end" fill="#333" stroke="#333" stroke-width="0.12">0</text>
<text x="100.97999999999999" y="245.79999999999998" font-size="3.3" text-anchor="middle" fill="#333" stroke="#333" stroke-width="0.12">0 100</text>
<text x="114.112" y="245.79999999999998" font-size="3.3" text-anchor="middle" fill="#333" stroke="#333" stroke-width="0.12">1000</text>
<text x="127.244" y="245.79999999999998" font-size="3.3" text-anchor="middle" fill="#333" stroke="#333" stroke-width="0.12">10000</text>
<text x="135.686" y="245.79999999999998" font-size="3.3" text-anchor="middle" fill="#333" stroke="#333" stroke-width="0.12">10⁵</text>
<polyline points="152.1,231.5 153.0,229.0 154.0,226.8 155.5,229.2 157.0,222.5 158.5,225.2 160.0,218.5 161.3,219.5 162.5,214.2 164.0,208.0 165.2,200.5 166.3,193.0 167.3,189.2 168.0,191.5 169.0,200.0 170.0,205.5 170.8,198.5 171.8,204.0 172.6,197.5 173.3,195.5 174.2,200.0 175.3,207.5 176.2,213.0 176.9,216.5 178.2,222.6 179.2,228.5 180.3,232.5 181.7,236.0 183.1,240.2 184.0,240.6" fill="none" stroke="#3a3a3a" stroke-width="0.85" stroke-linejoin="round"/>
<line x1="151.6" y1="213.8" x2="190.89999999999998" y2="213.8" stroke="#222" stroke-width="1.25"/>
<line x1="179.6" y1="230.6" x2="190.89999999999998" y2="230.6" stroke="#222" stroke-width="1.1"/>
<text x="154.81" y="199.65" font-size="9.2" text-anchor="start" fill="#111" stroke="#111" stroke-width="0.3" textLength="10.01" lengthAdjust="spacingAndGlyphs">34</text>
<text x="182.86" y="199.65" font-size="9.2" text-anchor="start" fill="#111" stroke="#111" stroke-width="0.3" textLength="10.88" lengthAdjust="spacingAndGlyphs">64</text>
<text x="181.93" y="225.05" font-size="9.2" text-anchor="start" fill="#111" stroke="#111" stroke-width="0.3" textLength="13.33" lengthAdjust="spacingAndGlyphs">1.6</text>
<rect x="151.6" y="189.0" width="47.0" height="51.599999999999994" fill="none" stroke="#777" stroke-width="0.8"/>
<line x1="151.6" y1="188.7" x2="151.6" y2="242.1" stroke="#222" stroke-width="1"/>
<line x1="150.1" y1="240.6" x2="198.6" y2="240.6" stroke="#222" stroke-width="1"/>
<line x1="150.0" y1="197.256" x2="151.6" y2="197.256" stroke="#555" stroke-width="0.6"/>
<text x="149.7" y="198.356" font-size="3.2" text-anchor="end" fill="#333" stroke="#333" stroke-width="0.12">20</text>
<line x1="150.0" y1="207.834" x2="151.6" y2="207.834" stroke="#555" stroke-width="0.6"/>
<text x="149.7" y="208.934" font-size="3.2" text-anchor="end" fill="#333" stroke="#333" stroke-width="0.12">15</text>
<line x1="150.0" y1="218.7216" x2="151.6" y2="218.7216" stroke="#555" stroke-width="0.6"/>
<text x="149.7" y="219.8216" font-size="3.2" text-anchor="end" fill="#333" stroke="#333" stroke-width="0.12">10</text>
<line x1="150.0" y1="229.764" x2="151.6" y2="229.764" stroke="#555" stroke-width="0.6"/>
<text x="149.7" y="230.864" font-size="3.2" text-anchor="end" fill="#333" stroke="#333" stroke-width="0.12">5</text>
<line x1="150.0" y1="240.6" x2="151.6" y2="240.6" stroke="#555" stroke-width="0.6"/>
<text x="149.7" y="241.7" font-size="3.2" text-anchor="end" fill="#333" stroke="#333" stroke-width="0.12">0</text>
<text x="161.0" y="245.79999999999998" font-size="3.3" text-anchor="middle" fill="#333" stroke="#333" stroke-width="0.12">0 100</text>
<text x="174.16" y="245.79999999999998" font-size="3.3" text-anchor="middle" fill="#333" stroke="#333" stroke-width="0.12">1000</text>
<text x="187.32" y="245.79999999999998" font-size="3.3" text-anchor="middle" fill="#333" stroke="#333" stroke-width="0.12">10000</text>
<text x="195.78" y="245.79999999999998" font-size="3.3" text-anchor="middle" fill="#333" stroke="#333" stroke-width="0.12">10⁵</text>
<polyline points="212.8,235.5 213.8,232.3 214.6,233.5 215.6,236.3 217.0,234.2 218.5,236.0 220.0,235.2 221.5,232.2 223.0,229.7 224.5,226.0 225.9,221.2 227.0,216.0 228.0,209.5 228.4,203.0 229.3,198.5 230.2,199.5 230.8,195.0 231.5,197.0 232.3,189.4 233.1,196.0 234.0,193.7 234.8,198.0 235.6,191.5 236.2,199.0 236.8,207.1 237.8,214.0 238.9,221.9 240.0,228.0 241.0,232.5 242.3,237.5 244.0,240.5" fill="none" stroke="#3a3a3a" stroke-width="0.85" stroke-linejoin="round"/>
<line x1="212.5" y1="213.8" x2="251.8" y2="213.8" stroke="#222" stroke-width="1.25"/>
<line x1="240.5" y1="230.6" x2="251.8" y2="230.6" stroke="#222" stroke-width="1.1"/>
<text x="216.41" y="199.65" font-size="9.2" text-anchor="start" fill="#111" stroke="#111" stroke-width="0.3" textLength="9.55" lengthAdjust="spacingAndGlyphs">19</text>
<text x="244.32" y="199.65" font-size="9.2" text-anchor="start" fill="#111" stroke="#111" stroke-width="0.3" textLength="11.23" lengthAdjust="spacingAndGlyphs">80</text>
<text x="243.39" y="225.05" font-size="9.2" text-anchor="start" fill="#111" stroke="#111" stroke-width="0.3" textLength="13.27" lengthAdjust="spacingAndGlyphs">3.8</text>
<rect x="212.5" y="189.0" width="46.69999999999999" height="51.599999999999994" fill="none" stroke="#777" stroke-width="0.8"/>
<line x1="212.5" y1="188.7" x2="212.5" y2="242.1" stroke="#222" stroke-width="1"/>
<line x1="211.0" y1="240.6" x2="259.2" y2="240.6" stroke="#222" stroke-width="1"/>
<path d="M229.2 200.5 L230.4 196.5 M232.6 191 L232.9 193" stroke="#222" stroke-width="1.8"/>
<line x1="210.9" y1="197.256" x2="212.5" y2="197.256" stroke="#555" stroke-width="0.6"/>
<text x="210.6" y="198.356" font-size="3.2" text-anchor="end" fill="#333" stroke="#333" stroke-width="0.12">20</text>
<line x1="210.9" y1="207.834" x2="212.5" y2="207.834" stroke="#555" stroke-width="0.6"/>
<text x="210.6" y="208.934" font-size="3.2" text-anchor="end" fill="#333" stroke="#333" stroke-width="0.12">15</text>
<line x1="210.9" y1="218.7216" x2="212.5" y2="218.7216" stroke="#555" stroke-width="0.6"/>
<text x="210.6" y="219.8216" font-size="3.2" text-anchor="end" fill="#333" stroke="#333" stroke-width="0.12">10</text>
<line x1="210.9" y1="229.764" x2="212.5" y2="229.764" stroke="#555" stroke-width="0.6"/>
<text x="210.6" y="230.864" font-size="3.2" text-anchor="end" fill="#333" stroke="#333" stroke-width="0.12">5</text>
<line x1="210.9" y1="240.6" x2="212.5" y2="240.6" stroke="#555" stroke-width="0.6"/>
<text x="210.6" y="241.7" font-size="3.2" text-anchor="end" fill="#333" stroke="#333" stroke-width="0.12">0</text>
<text x="221.84" y="245.79999999999998" font-size="3.3" text-anchor="middle" fill="#333" stroke="#333" stroke-width="0.12">0 100</text>
<text x="234.916" y="245.79999999999998" font-size="3.3" text-anchor="middle" fill="#333" stroke="#333" stroke-width="0.12">1000</text>
<text x="247.992" y="245.79999999999998" font-size="3.3" text-anchor="middle" fill="#333" stroke="#333" stroke-width="0.12">10000</text>
<text x="256.39799999999997" y="245.79999999999998" font-size="3.3" text-anchor="middle" fill="#333" stroke="#333" stroke-width="0.12">10⁵</text>
<clipPath id="c0a"><rect x="30.4" y="258.8" width="47.6" height="51.5"/></clipPath>
<g clip-path="url(#c0a)">
<path d="M41.5 312.7 38.9 312.7 38.0 311.1 37.0 309.7 37.1 309.4 38.1 308.7 38.1 308.2 37.8 307.7 37.0 306.9 36.5 306.8 35.0 306.6 34.5 306.4 34.2 305.9 33.9 304.9 33.7 303.7 34.2 297.9 34.4 297.4 34.9 296.9 36.8 296.3 37.0 295.7 36.8 294.2 36.9 293.7 37.5 292.9 39.0 291.9 39.8 291.5 40.6 291.7 41.1 292.2 41.6 293.4 41.8 293.7 42.3 293.8 42.8 293.7 43.5 293.2 44.6 291.7 45.3 291.0 46.3 290.6 47.0 290.6 47.8 291.0 48.5 291.9 49.0 293.2 49.5 295.2 49.5 297.2 50.0 300.4 49.8 301.2 49.2 302.7 49.0 304.7 48.5 305.7 47.3 307.2 45.8 308.0 44.3 308.6 43.8 308.9 42.3 311.2 41.7 312.7 41.5 312.7Z" fill="none" stroke="#9a9a9a" stroke-width="0.5"/>
<path d="M41.3 310.0 40.5 310.1 40.1 309.9 39.4 308.4 38.0 306.9 37.0 306.2 35.5 305.6 35.1 305.2 34.7 303.9 34.8 301.2 35.0 300.2 35.3 299.5 35.8 298.8 36.0 298.7 37.3 299.1 37.8 299.0 38.3 298.5 38.5 297.7 38.5 296.9 38.0 294.7 38.1 294.2 38.5 293.7 39.3 293.3 39.8 293.4 41.5 294.9 42.5 295.3 43.3 295.3 44.0 294.9 44.8 294.2 45.8 292.2 46.3 291.9 46.8 291.8 47.3 292.2 48.0 293.2 48.5 294.4 48.6 295.4 48.3 296.2 48.0 296.5 46.3 296.9 46.2 297.2 46.5 297.4 48.0 297.6 48.5 297.8 49.0 298.4 49.3 299.4 49.2 300.7 48.2 302.4 48.2 304.2 47.8 304.9 47.0 305.5 44.0 306.7 43.5 307.0 43.0 307.7 42.3 309.4 41.8 309.8 41.3 310.0Z" fill="none" stroke="#8f8f8f" stroke-width="0.53"/>
<path d="M47.3 295.8 46.5 295.8 46.1 295.4 46.1 294.7 46.4 294.2 46.8 293.9 47.3 294.1 47.6 294.7 47.6 295.4 47.3 295.8Z" fill="none" stroke="#858585" stroke-width="0.55"/>
<path d="M41.5 308.5 41.0 308.6 40.5 308.4 37.3 305.7 36.0 305.0 35.6 304.2 35.5 301.4 35.7 300.7 36.2 300.2 37.8 299.6 38.5 298.9 39.1 297.4 39.5 295.4 39.8 295.1 40.3 295.1 41.3 295.6 43.5 297.1 46.3 298.1 48.0 298.3 48.5 298.7 48.8 299.4 48.7 300.2 48.5 300.6 47.5 301.4 47.2 301.9 47.2 303.4 47.0 303.9 46.3 304.4 43.8 305.5 43.0 305.9 41.5 308.5Z" fill="none" stroke="#858585" stroke-width="0.55"/>
<path d="M41.0 307.1 40.3 307.1 39.3 306.7 38.5 306.2 37.8 305.4 36.9 304.2 36.5 301.9 36.6 301.4 36.8 300.9 38.5 299.6 40.0 296.9 40.3 296.6 40.8 296.5 41.5 296.7 42.8 297.7 43.5 298.1 45.5 298.9 47.5 298.9 47.9 299.4 47.8 300.0 47.0 300.3 46.3 300.1 45.3 299.3 44.3 299.3 43.5 299.7 43.0 300.4 42.5 301.7 41.1 302.9 41.1 303.4 41.8 304.0 42.3 304.2 42.5 304.1 43.5 302.6 44.5 301.9 45.3 301.6 45.5 301.7 45.8 301.9 46.0 302.4 45.9 302.9 45.7 303.4 45.0 303.8 42.5 304.6 41.7 306.4 41.0 307.1Z" fill="none" stroke="#7a7a7a" stroke-width="0.57"/>
<path d="M40.8 306.2 40.3 306.3 39.5 306.2 38.5 305.4 38.0 304.4 37.5 301.9 37.6 301.2 38.9 299.7 39.9 297.9 40.3 297.6 40.8 297.3 41.3 297.4 42.0 298.0 42.6 298.7 42.7 299.2 42.3 300.7 42.0 301.4 41.5 301.9 40.3 302.7 39.9 303.2 39.9 303.4 40.9 304.4 41.2 304.9 41.2 305.7 40.8 306.2Z" fill="none" stroke="#707070" stroke-width="0.6"/>
</g>
<clipPath id="c0b"><rect x="30.4" y="258.8" width="47.6" height="51.5"/></clipPath>
<g clip-path="url(#c0b)">
<path d="M45.5 288.0 45.0 288.1 42.8 287.9 42.8 286.9 42.5 286.4 42.0 286.1 41.3 286.1 40.3 286.6 38.5 286.3 38.0 285.7 37.9 284.9 37.8 284.4 37.5 284.2 36.5 283.9 36.0 283.2 35.8 280.9 36.2 278.9 35.8 277.4 35.4 275.7 35.4 274.9 35.6 274.4 36.0 273.8 37.3 273.1 38.3 272.1 40.0 271.7 40.8 270.6 41.3 270.3 42.0 270.3 43.8 270.6 46.3 271.2 48.0 271.1 49.0 271.5 49.8 271.9 50.2 272.7 49.9 273.9 50.1 274.2 50.9 274.4 51.2 274.7 51.3 276.5 51.5 277.5 52.2 278.7 52.2 279.4 51.9 280.7 52.2 282.4 52.0 283.2 51.5 283.7 51.0 283.9 49.5 284.2 49.3 284.6 48.9 286.2 48.5 286.7 48.0 287.0 46.8 287.2 45.5 288.0Z" fill="#949494" stroke="#606060" stroke-width="0.7"/>
<path d="M45.6 283.9 45.9 283.4 45.8 283.1 45.5 282.9 45.2 283.2 45.0 283.7 45.3 284.0 45.6 283.9Z" fill="#949494" stroke="#606060" stroke-width="0.7"/>
<path d="M45.8 286.8 45.0 286.9 43.8 286.8 43.3 286.6 42.0 285.9 41.5 285.8 40.3 286.0 39.3 285.7 38.8 285.2 38.0 283.8 36.8 282.9 36.4 281.9 36.3 280.4 36.8 278.7 36.1 276.7 36.0 275.4 36.2 274.7 36.7 274.2 37.8 273.5 38.8 272.4 40.5 272.0 41.8 271.2 42.8 271.2 44.0 271.7 45.0 271.8 46.3 272.3 46.8 272.3 47.8 271.9 48.5 272.0 49.2 272.7 49.3 273.8 49.5 274.4 50.4 275.4 50.8 276.4 51.2 278.9 50.8 280.2 51.3 281.9 51.2 282.7 51.0 282.9 50.5 283.0 50.3 282.9 50.0 282.2 49.8 281.8 49.5 281.8 49.0 281.9 48.7 282.4 48.5 284.9 48.3 285.7 47.8 286.1 46.8 286.3 45.8 286.8Z" fill="none" stroke="#b8b8b8" stroke-width="0.8"/>
<path d="M45.7 284.2 46.0 283.9 46.1 283.4 46.0 282.9 45.5 282.7 45.0 283.1 44.9 283.7 45.3 284.2 45.7 284.2Z" fill="none" stroke="#b8b8b8" stroke-width="0.8"/>
<path d="M45.3 286.2 44.5 286.4 43.8 286.4 42.0 285.5 40.5 285.4 40.0 285.2 39.2 284.4 38.4 282.9 37.5 282.3 37.1 281.7 36.9 280.9 36.9 280.2 37.8 278.2 37.8 277.7 37.8 277.4 37.0 276.9 36.8 276.2 36.8 275.4 37.1 274.9 38.0 274.2 38.7 273.2 39.3 272.8 40.8 272.5 42.3 271.9 42.8 272.1 43.3 272.7 43.5 272.9 45.0 272.7 46.5 273.0 48.0 272.9 48.5 273.6 49.2 275.4 50.2 276.4 50.4 277.2 50.5 278.9 49.8 280.1 48.2 281.7 47.9 282.2 47.8 284.7 47.3 285.3 46.3 285.6 45.3 286.2Z" fill="none" stroke="#6a6a6a" stroke-width="0.8"/>
<path d="M38.7 276.4 39.0 276.1 39.0 275.7 38.8 275.7 38.3 276.2 38.3 276.5 38.7 276.4Z" fill="none" stroke="#6a6a6a" stroke-width="0.8"/>
<path d="M46.1 284.4 46.4 283.9 46.6 283.2 46.0 282.4 45.5 282.2 45.3 282.3 44.8 283.1 44.7 283.9 45.0 284.3 45.5 284.6 45.8 284.6 46.1 284.4Z" fill="none" stroke="#6a6a6a" stroke-width="0.8"/>
<path d="M44.5 286.0 43.5 285.9 42.0 285.2 40.8 284.9 40.3 284.6 39.7 283.9 39.5 283.4 39.8 282.2 39.3 280.6 39.0 280.4 38.8 280.5 38.0 281.1 37.8 280.9 37.5 280.5 37.6 279.7 38.2 278.4 38.6 277.4 39.6 276.2 40.0 275.4 40.0 275.2 39.1 274.4 39.0 274.2 39.1 273.7 39.7 273.2 41.0 272.9 41.8 272.9 42.0 273.1 42.3 273.7 42.5 273.9 44.0 273.4 45.0 273.2 47.5 273.7 48.1 274.2 48.8 275.7 49.6 276.4 49.9 276.9 50.1 278.2 49.9 278.9 49.5 279.3 48.8 279.5 48.3 280.7 47.9 281.2 46.8 281.9 45.5 281.7 45.0 282.2 44.4 283.7 44.5 284.2 45.2 284.9 45.3 285.4 45.0 285.7 44.5 286.0Z" fill="none" stroke="#b4b4b4" stroke-width="0.8"/>
<path d="M41.3 274.3 40.5 274.2 40.2 273.9 40.4 273.7 41.0 273.6 41.3 273.7 41.4 273.9 41.3 274.3Z" fill="none" stroke="#787878" stroke-width="0.8"/>
<path d="M44.5 285.5 44.0 285.7 43.5 285.6 40.5 284.1 40.2 283.7 40.1 283.2 40.5 282.2 40.5 281.7 39.6 280.2 38.6 279.4 38.5 279.2 39.0 277.4 40.3 275.8 43.5 273.9 45.0 273.6 46.0 273.8 47.7 274.7 48.4 275.9 49.4 276.9 49.6 277.9 49.3 278.6 48.5 278.8 48.3 279.1 47.9 280.4 47.5 281.0 46.8 281.4 45.5 281.3 45.0 281.7 44.2 283.7 44.3 284.2 44.7 285.2 44.5 285.5Z" fill="none" stroke="#787878" stroke-width="0.8"/>
<path d="M41.6 279.7 41.5 279.4 41.2 279.7 41.3 279.9 41.6 279.7Z" fill="none" stroke="#787878" stroke-width="0.8"/>
<path d="M43.8 285.2 41.3 284.1 40.8 283.7 40.7 283.4 40.7 282.9 41.1 282.2 41.0 280.9 41.8 279.9 41.9 279.2 41.8 279.0 41.3 279.1 40.9 279.4 40.5 280.1 40.3 280.1 39.2 279.2 39.1 278.4 39.3 277.4 40.5 276.0 41.3 275.7 42.5 275.6 42.9 274.7 43.3 274.3 44.0 274.0 45.0 273.9 46.0 274.2 47.5 275.5 48.9 276.9 49.1 277.7 49.0 278.0 48.0 278.8 47.7 280.2 47.3 280.8 46.5 281.1 45.5 281.1 45.0 281.4 44.1 283.2 44.0 283.9 44.1 284.9 44.0 285.2 43.8 285.2Z" fill="none" stroke="#b8b8b8" stroke-width="0.8"/>
<path d="M43.1 276.4 43.0 276.2 42.8 276.4 43.0 276.6 43.1 276.4Z" fill="none" stroke="#b8b8b8" stroke-width="0.8"/>
<path d="M43.3 284.5 41.8 283.9 41.3 283.4 41.2 283.2 41.5 282.2 41.4 280.9 42.1 279.7 42.0 278.8 41.8 278.7 41.5 278.7 40.5 279.4 40.0 279.4 39.5 278.9 39.4 278.2 39.5 277.7 40.0 276.9 40.5 276.3 41.0 276.1 41.5 276.0 42.0 276.2 42.5 277.2 43.0 277.2 43.5 276.9 43.8 276.5 43.8 276.2 43.2 275.2 43.3 274.7 44.0 274.2 45.0 274.1 45.5 274.3 46.1 274.7 46.8 275.8 48.0 276.6 48.4 276.9 48.6 277.4 47.8 278.7 47.6 279.9 47.4 280.4 46.8 280.9 45.5 280.9 45.0 281.1 43.9 283.2 43.5 284.4 43.3 284.5Z" fill="none" stroke="#6a6a6a" stroke-width="0.8"/>
<path d="M43.0 284.0 42.1 283.7 41.8 283.2 41.9 282.2 41.7 280.9 42.3 279.4 42.3 278.8 42.1 278.4 41.8 278.3 40.3 279.0 39.8 278.7 39.7 277.9 40.3 277.0 41.0 276.4 41.5 276.4 41.8 276.6 42.3 277.7 42.8 277.6 43.6 277.2 44.2 276.4 43.6 274.9 43.8 274.7 44.2 274.4 45.0 274.4 45.5 274.5 46.0 274.9 46.5 276.2 46.7 276.4 47.8 276.9 47.9 277.2 48.0 277.7 47.6 278.7 47.3 280.2 46.7 280.7 45.5 280.7 45.0 280.9 43.7 282.9 43.3 283.9 43.0 284.0Z" fill="none" stroke="#b4b4b4" stroke-width="0.8"/>
</g>
<clipPath id="c0c"><rect x="30.4" y="258.8" width="47.6" height="51.5"/></clipPath>
<g clip-path="url(#c0c)">
<path d="M65.5 312.7 63.3 312.9 60.8 312.9 57.9 312.7 57.7 311.7 56.0 309.0 55.6 308.2 55.2 306.2 52.8 303.8 51.3 302.9 51.0 302.4 50.5 299.9 50.9 298.2 51.5 297.7 53.3 297.1 53.8 296.4 53.7 296.2 53.5 296.0 52.3 295.9 51.6 295.7 51.3 295.4 51.2 295.2 51.5 293.9 51.5 292.7 52.0 292.1 53.7 290.9 54.2 289.7 54.5 289.3 56.0 289.1 57.3 288.5 58.8 288.6 59.0 288.4 59.5 287.7 60.0 287.6 60.5 287.8 60.7 288.2 60.6 289.4 60.8 290.2 61.5 290.7 62.5 290.9 63.2 290.7 63.3 290.4 63.1 289.4 63.3 288.8 63.8 288.5 64.5 288.5 64.8 288.7 64.9 289.2 64.6 290.4 64.8 290.7 65.8 291.3 66.5 292.3 66.8 292.4 67.5 292.3 68.2 292.7 69.3 294.7 69.5 295.4 69.4 296.4 67.7 298.7 67.5 299.2 67.5 299.7 67.6 299.9 68.0 300.2 69.8 300.5 70.1 300.9 70.1 301.2 69.8 301.7 68.9 302.4 68.6 302.9 68.8 304.4 68.7 305.2 67.5 305.9 67.0 306.9 66.0 307.7 65.9 307.9 66.2 308.9 66.2 309.7 65.5 312.7Z" fill="#909090" stroke="#666666" stroke-width="0.7"/>
<path d="M64.6 297.7 65.1 297.4 65.4 296.9 65.3 296.3 64.8 296.0 64.3 296.1 63.9 296.9 64.0 297.5 64.6 297.7Z" fill="#909090" stroke="#666666" stroke-width="0.7"/>
<path d="M63.8 312.7 60.8 312.9 59.3 312.7 59.0 311.4 58.2 310.2 57.7 309.2 56.8 307.9 56.9 306.9 56.8 306.7 55.1 304.7 54.0 304.0 52.8 302.7 52.4 301.9 52.2 300.9 51.6 299.9 51.5 298.9 51.7 298.2 52.0 297.9 53.5 297.3 53.9 296.9 54.2 296.4 54.1 295.9 53.9 295.7 52.7 295.4 52.3 295.2 52.1 294.4 52.4 293.2 53.0 292.6 54.3 292.3 54.6 291.9 55.4 290.7 56.3 290.6 57.3 289.7 57.8 289.6 58.8 290.3 59.8 290.6 61.0 291.2 65.0 292.0 65.4 292.4 66.0 293.5 67.5 294.2 68.1 295.2 68.1 295.7 67.1 298.2 67.0 298.9 67.0 299.9 67.5 301.2 67.5 301.7 66.8 302.9 66.7 304.2 66.0 305.6 64.8 306.7 64.5 307.2 64.5 307.9 65.3 309.4 65.4 310.2 64.8 311.9 64.5 312.3 63.8 312.7Z" fill="none" stroke="#b8b8b8" stroke-width="0.8"/>
<path d="M65.2 297.7 65.7 297.2 65.9 296.7 65.8 296.4 65.3 295.8 64.5 295.7 64.2 295.9 63.9 296.4 63.7 297.4 63.9 297.7 64.3 297.9 65.2 297.7Z" fill="none" stroke="#b8b8b8" stroke-width="0.8"/>
<path d="M63.3 312.7 60.8 312.8 59.7 312.7 58.9 309.9 58.5 307.7 58.8 306.4 58.8 305.9 58.3 305.5 57.0 305.5 56.8 305.4 56.2 303.9 55.8 303.3 54.5 303.5 53.9 303.2 53.3 302.4 53.1 301.9 53.2 300.7 52.4 299.9 52.1 299.4 52.0 298.9 52.1 298.4 54.0 297.2 54.5 296.4 54.5 295.7 54.3 295.2 53.1 294.9 52.8 294.7 52.7 294.2 52.9 293.7 53.3 293.4 53.8 293.3 54.2 293.4 54.8 293.9 55.1 293.7 55.3 292.7 55.5 292.4 55.8 292.4 56.3 292.8 57.3 294.3 57.5 294.3 57.8 294.2 58.2 293.4 58.2 292.9 57.3 291.9 57.4 291.4 57.8 291.1 58.3 291.1 59.8 291.8 63.3 292.2 64.3 292.4 64.9 292.9 65.3 294.1 65.5 294.4 66.2 294.7 66.5 294.9 66.5 295.2 66.3 295.5 66.0 295.5 65.0 295.0 64.3 295.4 63.9 295.9 63.5 296.9 63.6 297.7 64.0 298.0 64.8 298.1 66.0 297.9 66.3 298.1 66.5 298.9 66.7 301.2 66.6 301.7 65.9 302.4 65.8 302.7 66.0 303.7 65.8 304.4 65.2 305.4 64.1 306.9 64.0 307.9 64.6 309.4 64.7 310.2 64.2 311.7 63.5 312.7 63.3 312.7Z" fill="none" stroke="#606060" stroke-width="0.8"/>
<path d="M55.9 302.2 56.1 301.7 55.8 301.2 55.0 301.0 54.8 301.2 55.3 302.0 55.8 302.3 55.9 302.2Z" fill="none" stroke="#606060" stroke-width="0.8"/>
<path d="M63.0 312.7 60.3 312.7 60.1 312.7 59.9 312.2 59.4 310.4 59.4 309.4 59.5 308.7 60.1 307.9 60.1 306.4 60.5 305.4 60.3 305.2 59.5 305.2 59.0 305.1 57.0 304.0 56.6 303.4 56.4 302.9 56.7 301.7 56.5 301.2 54.5 299.9 53.0 299.6 52.6 299.2 52.6 298.7 52.8 298.4 54.6 297.2 55.2 295.4 56.0 294.0 56.3 294.0 57.2 295.2 57.8 295.3 58.5 293.9 58.8 293.6 59.3 293.3 60.8 293.5 63.0 292.7 63.8 292.9 64.3 293.4 64.3 294.2 63.6 295.4 63.3 297.7 63.5 298.1 63.8 298.3 65.5 298.6 65.8 298.8 66.1 299.4 66.2 300.7 66.0 301.4 65.2 302.2 65.1 302.4 65.4 303.7 65.3 304.2 64.6 305.4 63.5 306.4 63.5 306.7 63.5 307.7 64.0 308.9 64.1 309.7 63.7 311.7 63.0 312.7Z" fill="none" stroke="#b0b0b0" stroke-width="0.8"/>
<path d="M60.8 302.4 61.0 302.2 61.1 301.7 60.8 301.3 60.5 301.4 60.2 301.9 60.3 302.3 60.5 302.5 60.8 302.4Z" fill="none" stroke="#b0b0b0" stroke-width="0.8"/>
<path d="M54.5 302.6 54.3 302.4 54.3 302.1 54.6 302.4 54.5 302.6Z" fill="none" stroke="#b0b0b0" stroke-width="0.8"/>
<path d="M62.0 304.8 61.0 304.3 59.3 304.4 57.5 303.4 57.2 303.2 57.1 302.7 57.3 301.8 57.7 301.2 57.6 300.9 56.0 300.2 55.7 299.9 55.3 299.1 55.0 299.0 54.0 298.9 53.7 298.7 54.1 298.2 55.0 297.6 55.4 296.4 55.8 296.0 56.5 295.7 58.0 296.1 58.3 296.1 58.5 295.9 58.6 294.7 58.8 294.2 59.3 293.9 60.5 294.1 61.8 294.0 62.5 294.2 62.8 294.5 63.2 295.9 63.1 297.7 63.3 298.4 63.5 298.6 64.8 299.2 65.4 299.7 65.6 300.2 65.5 301.0 64.4 302.2 64.5 303.6 64.3 304.1 63.8 304.5 62.8 304.4 62.0 304.8Z" fill="none" stroke="#5a5a5a" stroke-width="0.8"/>
<path d="M61.0 302.9 61.4 302.4 61.5 301.4 61.4 301.2 61.0 300.9 60.3 300.9 59.7 301.7 59.7 302.2 60.3 302.9 61.0 302.9Z" fill="none" stroke="#5a5a5a" stroke-width="0.8"/>
<path d="M62.5 312.5 60.8 312.6 60.5 312.5 60.0 311.8 59.7 310.4 59.8 309.4 60.6 308.2 60.8 306.4 61.3 305.7 62.0 305.0 63.7 309.4 63.6 309.9 63.2 310.7 63.2 311.9 62.5 312.5Z" fill="none" stroke="#5a5a5a" stroke-width="0.8"/>
<path d="M62.8 303.5 62.3 303.4 61.9 303.2 61.8 302.7 62.0 301.4 61.9 300.9 60.5 300.3 60.0 299.3 59.5 299.2 59.3 299.4 59.2 299.9 59.5 300.7 59.3 301.1 59.0 301.1 58.0 300.4 57.0 300.2 56.5 299.9 56.1 299.4 55.7 297.9 55.7 296.9 56.0 296.4 56.5 296.2 57.0 296.2 57.8 296.4 58.6 296.9 59.0 297.0 59.5 296.7 59.5 296.4 59.0 295.2 59.0 294.7 59.3 294.4 60.3 294.6 61.5 294.4 62.3 294.8 62.8 295.6 63.0 296.2 62.8 297.7 63.0 299.7 63.3 299.8 63.8 299.7 64.0 299.8 64.5 300.7 63.7 301.9 63.5 303.0 63.3 303.3 62.8 303.5Z" fill="none" stroke="#b8b8b8" stroke-width="0.8"/>
<path d="M59.8 303.7 59.3 303.7 58.7 303.4 58.2 302.9 58.1 302.7 58.2 302.4 58.5 302.2 59.0 302.2 59.8 303.2 59.9 303.4 59.8 303.7Z" fill="none" stroke="#b8b8b8" stroke-width="0.8"/>
<path d="M61.5 312.2 61.0 312.3 60.5 312.1 60.1 311.4 59.9 310.4 60.1 309.7 60.8 308.4 61.2 306.7 61.5 306.3 61.8 306.3 62.3 306.8 63.3 308.9 63.4 309.4 63.0 310.2 62.0 310.7 62.0 311.1 62.5 311.5 62.6 311.7 62.6 311.9 61.5 312.2Z" fill="none" stroke="#b8b8b8" stroke-width="0.8"/>
<path d="M62.0 300.3 61.5 300.4 60.9 300.2 60.3 298.9 60.0 298.8 59.1 298.9 58.3 299.8 57.5 299.9 56.8 299.7 56.5 299.2 56.1 297.9 56.0 297.4 56.1 296.9 56.5 296.6 57.3 296.5 58.8 297.6 60.3 297.2 60.5 297.0 60.7 296.7 60.3 295.4 60.5 295.2 61.3 294.8 61.8 294.9 62.3 295.4 62.7 296.4 62.5 298.9 62.3 299.9 62.0 300.3Z" fill="none" stroke="#606060" stroke-width="0.8"/>
<path d="M61.3 311.8 60.8 311.9 60.5 311.7 60.3 311.2 60.2 310.4 60.3 309.9 60.9 308.9 61.4 307.4 61.5 307.1 61.8 307.1 62.0 307.3 62.8 308.7 63.1 309.4 62.8 310.0 61.7 310.4 61.5 310.9 61.5 311.4 61.3 311.8Z" fill="none" stroke="#606060" stroke-width="0.8"/>
</g>
<ellipse cx="44.3" cy="282.6" rx="2.2" ry="1.4" fill="#555" stroke="#222" stroke-width="0.9"/>
<circle cx="44.0" cy="277.2" r="1.3" fill="#e0e0e0"/>
<circle cx="61.4" cy="297.3" r="2.3" fill="#e0e0e0" stroke="#222" stroke-width="1.1"/>
<path d="M57.2 310.3 L61.4 303.0 L65.4 310.3" fill="#9a9a9a" stroke="#111" stroke-width="1.2"/>
<clipPath id="c1a"><rect x="91.8" y="259.2" width="47.2" height="51.400000000000034"/></clipPath>
<g clip-path="url(#c1a)">
<path d="M101.9 311.1 101.4 310.9 101.0 310.6 100.4 309.5 99.2 309.4 98.7 309.1 98.6 306.8 97.4 305.3 95.7 302.6 95.5 301.3 95.9 297.3 96.2 296.7 96.7 296.2 97.4 296.0 98.4 296.1 98.7 295.9 99.9 292.8 101.4 290.7 102.0 290.3 103.4 289.9 104.9 288.6 106.7 287.4 107.2 287.2 107.7 287.2 108.4 287.7 109.9 289.3 110.4 290.1 110.8 291.1 111.6 294.8 111.5 295.8 110.5 298.8 111.0 299.3 111.2 299.8 111.3 300.8 111.2 301.8 110.3 304.3 109.5 306.1 109.1 308.1 108.7 308.9 108.2 309.3 107.4 309.5 105.4 309.7 104.2 309.9 101.9 311.1Z" fill="none" stroke="#9a9a9a" stroke-width="0.5"/>
<path d="M98.8 298.3 99.2 298.1 99.3 297.6 99.2 297.1 98.7 296.7 98.3 297.1 98.1 297.8 98.4 298.3 98.8 298.3Z" fill="none" stroke="#9a9a9a" stroke-width="0.5"/>
<path d="M106.9 308.6 104.2 308.8 103.4 308.6 103.1 308.3 101.7 305.8 101.2 305.2 100.7 305.0 100.5 305.6 100.2 305.9 99.7 305.9 99.2 305.6 98.2 304.6 97.6 303.3 96.8 302.1 96.6 301.1 96.8 300.1 97.2 299.4 97.7 299.2 99.2 299.0 99.7 298.7 100.0 298.3 100.2 297.6 99.9 296.1 100.0 295.3 100.3 294.1 100.8 293.3 101.7 292.7 102.9 292.9 103.7 292.6 104.3 292.1 104.7 291.6 105.0 290.3 105.4 289.7 106.2 289.2 107.2 289.0 107.9 289.1 108.7 289.5 109.7 290.3 110.1 291.3 110.8 295.1 110.5 296.6 109.9 298.1 108.4 299.2 106.9 299.5 106.7 299.8 106.9 300.1 107.3 300.1 108.2 299.6 109.2 299.9 110.2 300.4 110.4 300.8 110.5 301.3 110.3 302.6 109.7 304.1 108.8 305.8 108.2 307.8 107.7 308.4 106.9 308.6Z" fill="none" stroke="#919191" stroke-width="0.52"/>
<path d="M100.5 304.6 100.3 304.1 100.0 304.1 100.2 304.4 100.5 304.6Z" fill="none" stroke="#919191" stroke-width="0.52"/>
<path d="M106.7 307.6 104.9 307.5 104.2 307.3 103.7 306.7 102.6 305.1 100.4 303.0 99.9 302.7 98.7 302.7 98.2 302.3 97.6 301.6 97.5 300.8 97.7 300.3 97.9 300.0 99.9 299.4 100.6 298.8 100.9 298.1 100.9 296.3 101.2 295.7 101.4 295.5 102.7 295.4 103.2 295.2 104.1 293.6 105.5 292.1 106.4 290.6 107.2 290.2 107.9 290.2 108.9 290.6 109.4 291.3 110.3 294.6 110.2 295.8 109.9 297.3 109.4 298.1 108.4 298.8 106.5 299.3 106.3 299.6 106.2 300.1 106.4 300.4 106.9 300.6 108.4 300.2 109.2 300.4 109.8 301.1 109.9 301.8 109.6 303.1 108.0 305.6 107.5 307.1 107.2 307.4 106.7 307.6Z" fill="none" stroke="#888888" stroke-width="0.54"/>
<path d="M107.4 304.7 106.9 304.8 106.4 304.8 104.7 304.2 103.2 304.1 102.4 303.9 101.7 303.4 100.4 301.8 100.2 301.7 99.1 301.6 98.7 301.1 98.8 300.8 99.2 300.6 100.4 300.9 100.9 300.5 101.6 299.3 102.0 297.3 102.2 296.8 103.8 295.6 104.8 293.8 105.7 292.9 106.9 292.0 108.2 291.6 108.7 291.9 108.9 292.2 109.6 294.1 109.8 295.6 109.6 297.1 109.2 297.8 108.7 298.3 106.3 299.1 106.0 299.3 105.8 299.8 105.9 300.4 106.4 300.9 107.2 301.0 108.4 300.8 108.9 301.0 109.2 301.3 109.3 302.1 108.9 303.0 108.2 304.0 107.4 304.7Z" fill="none" stroke="#7f7f7f" stroke-width="0.56"/>
<path d="M107.2 303.9 106.7 304.0 106.2 303.9 104.4 303.0 103.0 303.3 102.4 303.3 101.6 302.6 101.4 302.1 101.4 301.6 102.3 299.6 102.6 297.8 102.9 297.1 104.4 295.6 105.3 294.1 105.9 293.4 106.9 292.8 107.9 292.5 108.5 292.8 109.0 293.8 109.4 295.8 109.3 297.1 109.0 297.6 108.5 298.1 106.2 298.9 105.6 299.3 105.4 299.8 105.5 300.6 106.2 301.3 106.9 301.5 108.2 301.4 108.4 301.6 108.6 302.1 108.4 302.6 107.9 303.3 107.2 303.9Z" fill="none" stroke="#767676" stroke-width="0.58"/>
<path d="M103.2 302.4 102.7 302.5 102.4 302.4 102.1 301.8 102.2 301.3 103.1 299.6 103.1 298.1 103.3 297.3 106.2 294.0 107.2 293.4 107.9 293.3 108.4 293.9 109.0 295.6 109.1 296.6 108.9 297.3 108.1 298.1 106.2 298.6 105.4 299.1 104.9 299.6 104.8 300.1 105.0 301.6 104.2 301.9 103.2 302.4Z" fill="none" stroke="#6e6e6e" stroke-width="0.6"/>
<path d="M106.9 303.2 106.4 303.3 106.1 303.1 105.6 302.6 105.4 302.0 106.4 302.0 107.3 302.3 107.3 302.8 106.9 303.2Z" fill="none" stroke="#6e6e6e" stroke-width="0.6"/>
</g>
<clipPath id="c1b"><rect x="91.8" y="259.2" width="47.2" height="51.400000000000034"/></clipPath>
<g clip-path="url(#c1b)">
<path d="M104.2 287.4 103.4 287.5 102.9 287.3 102.5 287.1 101.9 286.2 100.9 286.5 99.9 286.2 99.3 285.8 97.9 284.6 97.6 284.1 97.7 283.3 97.3 282.1 96.6 280.6 96.7 280.1 97.7 279.1 97.8 278.3 97.4 277.9 96.4 277.9 96.2 277.6 96.4 277.1 97.4 276.6 98.9 275.3 98.4 274.3 97.9 273.8 97.8 273.6 97.9 273.3 98.7 273.1 99.7 273.4 100.3 273.3 100.6 272.8 100.6 271.8 101.9 270.6 102.4 270.4 102.9 270.4 105.7 271.2 106.9 272.2 108.9 272.4 109.9 272.3 110.9 272.7 112.8 275.1 112.8 276.1 112.4 277.8 112.6 278.3 113.7 279.3 114.0 280.1 113.7 281.1 112.4 282.3 112.3 283.6 111.7 284.7 111.2 285.8 110.4 286.6 109.7 287.1 108.9 287.3 106.4 287.0 104.2 287.4Z" fill="#969696" stroke="#606060" stroke-width="0.7"/>
<path d="M103.6 274.3 103.4 274.3 103.6 274.3Z" fill="#969696" stroke="#606060" stroke-width="0.7"/>
<path d="M106.5 276.3 106.7 276.1 106.7 275.8 106.4 275.7 105.9 275.7 105.5 276.1 105.6 276.3 105.9 276.5 106.5 276.3Z" fill="#969696" stroke="#606060" stroke-width="0.7"/>
<path d="M105.7 286.6 104.7 286.7 103.7 286.5 102.2 285.3 101.7 285.3 100.7 285.6 100.0 285.3 99.6 284.8 99.5 284.3 99.7 283.9 100.2 283.3 100.2 283.0 99.7 282.6 98.7 282.5 98.2 282.2 97.6 281.3 97.3 280.6 97.4 280.1 97.9 279.4 98.1 278.8 98.0 277.1 98.4 276.5 99.4 275.9 99.7 275.6 99.8 275.3 99.4 274.6 99.4 274.3 100.7 273.7 101.7 272.1 102.4 271.5 104.7 271.7 105.7 272.0 106.7 272.6 107.7 272.9 108.6 273.6 109.7 273.5 110.4 273.8 111.8 275.6 111.9 276.1 111.6 277.3 111.6 277.8 111.9 278.4 112.8 279.6 113.0 280.1 113.0 280.6 112.7 281.1 111.7 282.1 111.8 283.1 111.5 283.8 110.0 286.1 109.4 286.4 108.9 286.5 106.9 286.4 105.7 286.6Z" fill="none" stroke="#bababa" stroke-width="0.8"/>
<path d="M104.1 274.8 104.0 274.3 103.7 273.9 103.2 273.7 102.9 273.8 102.9 274.1 103.2 274.6 103.7 274.9 104.1 274.8Z" fill="none" stroke="#bababa" stroke-width="0.8"/>
<path d="M106.3 276.6 106.9 276.1 107.0 275.8 107.0 275.6 106.2 275.4 105.7 275.6 105.3 275.8 105.2 276.1 105.4 276.5 105.9 276.6 106.3 276.6Z" fill="none" stroke="#bababa" stroke-width="0.8"/>
<path d="M105.7 286.1 104.9 286.2 104.2 285.9 103.4 285.3 102.9 284.6 101.7 284.5 101.2 284.3 101.1 284.1 101.2 283.3 101.1 282.8 98.4 281.3 97.9 280.6 98.0 280.1 98.4 279.1 98.6 277.6 98.8 277.1 101.0 274.8 101.3 274.1 101.7 273.6 101.9 273.6 102.7 274.6 103.4 275.2 104.2 275.4 104.6 275.3 104.6 274.8 104.4 274.3 103.2 272.8 103.2 272.6 103.9 272.2 104.7 272.3 105.7 272.6 107.3 273.6 107.6 274.1 107.6 274.6 107.3 274.8 105.4 275.3 104.8 275.6 104.7 276.1 105.0 276.6 106.2 276.8 107.7 276.0 108.4 276.3 108.6 276.1 108.3 275.3 108.5 274.8 109.2 274.6 109.7 274.6 110.4 275.2 111.0 275.8 111.1 276.3 110.8 277.1 110.8 277.6 112.1 279.6 112.2 280.1 112.0 280.8 111.1 281.8 111.2 283.1 111.1 283.6 109.9 284.6 109.2 285.6 108.4 285.8 106.9 285.6 105.7 286.1Z" fill="none" stroke="#6a6a6a" stroke-width="0.8"/>
<path d="M106.2 274.6 105.7 274.7 105.2 274.6 104.4 273.6 104.2 273.1 104.4 272.9 104.9 272.8 105.9 273.3 106.5 274.1 106.5 274.3 106.2 274.6Z" fill="none" stroke="#b4b4b4" stroke-width="0.8"/>
<path d="M105.7 285.6 105.2 285.7 104.7 285.5 104.2 285.1 103.7 284.1 103.3 283.6 102.2 283.2 101.3 282.3 99.8 281.6 98.7 280.6 98.6 280.1 98.9 278.3 99.2 277.3 100.4 275.9 101.9 274.9 102.4 274.9 103.6 275.6 104.1 276.1 104.4 276.6 104.9 276.9 106.2 277.0 107.4 276.5 108.7 277.0 109.7 276.9 111.6 279.8 111.5 280.6 110.5 281.8 110.6 282.8 110.4 283.3 109.5 283.8 108.7 284.9 108.2 285.0 106.7 284.5 106.4 284.6 106.0 285.3 105.7 285.6Z" fill="none" stroke="#b4b4b4" stroke-width="0.8"/>
<path d="M109.9 276.6 109.7 276.5 109.6 276.3 109.7 275.7 109.9 275.8 110.2 276.1 109.9 276.6Z" fill="none" stroke="#b4b4b4" stroke-width="0.8"/>
<path d="M109.0 280.8 109.2 280.7 109.2 280.3 109.2 280.1 108.9 279.9 108.5 280.1 108.4 280.3 108.7 280.7 109.0 280.8Z" fill="none" stroke="#b4b4b4" stroke-width="0.8"/>
<path d="M105.2 284.9 104.7 284.6 103.4 283.1 102.2 282.6 101.2 281.7 100.2 281.3 99.6 280.8 99.2 280.3 99.2 278.6 99.5 277.6 100.6 276.1 101.9 275.3 102.4 275.3 103.2 275.6 103.7 276.1 104.2 276.8 104.7 277.1 106.2 277.1 107.4 276.8 109.2 277.5 109.7 277.9 111.0 279.8 111.0 280.3 110.9 280.6 110.2 281.0 109.9 280.8 109.7 279.8 109.4 279.5 108.9 279.4 108.4 279.7 108.1 280.3 108.7 282.0 108.9 282.1 108.2 282.1 107.7 282.4 107.4 282.8 107.3 283.6 106.9 283.7 105.9 283.8 105.4 284.8 105.2 284.9Z" fill="none" stroke="#787878" stroke-width="0.8"/>
<path d="M109.2 282.9 108.9 282.9 108.8 282.6 108.7 282.3 108.9 282.1 109.4 282.3 109.5 282.6 109.2 282.9Z" fill="none" stroke="#787878" stroke-width="0.8"/>
<path d="M104.9 283.9 104.4 283.7 103.4 282.8 102.4 282.4 101.9 281.8 101.5 281.1 102.2 279.8 101.9 279.2 101.4 279.0 100.2 279.6 99.8 279.1 99.7 278.3 100.2 277.1 100.7 276.3 101.7 275.6 102.4 275.5 102.9 275.7 103.4 276.1 104.0 277.1 104.4 277.3 104.9 277.4 107.7 277.1 108.9 277.8 109.2 278.3 109.1 278.8 108.2 279.6 107.8 280.1 108.0 281.3 107.8 281.8 106.7 283.1 105.7 283.4 104.9 283.9Z" fill="none" stroke="#bababa" stroke-width="0.8"/>
<path d="M100.4 280.6 100.4 280.3 100.5 280.6 100.4 280.6Z" fill="none" stroke="#bababa" stroke-width="0.8"/>
<path d="M104.9 283.4 104.4 283.2 103.4 282.5 102.4 282.1 102.0 281.6 102.0 280.8 102.4 280.1 102.5 279.6 101.9 278.6 101.7 277.7 101.4 277.6 101.2 277.7 100.7 278.3 100.4 278.3 100.4 277.8 100.7 276.8 101.1 276.3 101.8 275.8 102.4 275.7 102.9 275.9 103.3 276.3 103.7 277.1 104.4 277.6 104.9 277.6 107.4 277.3 108.1 277.6 108.6 278.1 108.7 278.3 108.6 278.8 107.6 280.1 107.7 281.1 107.6 281.6 106.5 282.8 104.9 283.4Z" fill="none" stroke="#6a6a6a" stroke-width="0.8"/>
</g>
<clipPath id="c1c"><rect x="91.8" y="259.2" width="47.2" height="51.400000000000034"/></clipPath>
<g clip-path="url(#c1c)">
<path d="M120.2 312.7 118.7 312.8 117.9 312.6 117.6 312.3 117.4 311.2 116.7 310.9 116.2 310.3 115.9 308.6 114.8 307.3 114.5 306.1 113.6 304.6 112.9 302.8 113.0 300.6 113.3 297.8 113.1 296.6 115.1 293.8 115.1 293.3 114.9 292.3 115.6 291.3 115.8 289.8 116.4 289.4 118.4 289.0 119.4 288.1 119.9 287.9 120.4 288.0 121.4 288.8 122.0 289.1 123.4 289.5 124.9 289.5 126.4 290.1 127.4 290.6 128.2 291.3 129.1 293.1 129.3 293.8 129.1 294.6 128.5 296.3 128.7 298.1 129.6 299.8 130.2 302.1 130.2 302.4 129.9 302.6 128.4 302.7 128.2 301.8 127.9 301.9 127.8 302.1 127.9 302.6 128.4 302.8 128.7 303.7 129.7 304.6 129.7 305.1 129.3 305.8 128.7 306.6 127.4 307.3 126.9 307.8 126.9 308.1 127.4 308.8 127.4 309.3 126.4 310.8 125.7 311.2 124.4 311.1 124.1 310.8 123.4 310.0 122.9 309.8 122.7 310.1 122.4 311.1 121.8 311.8 121.2 312.3 120.2 312.7Z" fill="#8e8e8e" stroke="#666666" stroke-width="0.7"/>
<path d="M119.7 311.9 119.2 312.0 118.9 311.8 118.6 311.6 118.3 310.6 117.1 309.3 116.7 307.6 116.3 306.3 116.3 305.6 116.7 304.6 116.5 304.3 115.7 304.3 115.3 304.1 115.1 303.3 115.0 301.6 114.3 300.6 114.2 299.8 114.4 299.1 114.9 298.1 115.0 296.3 115.4 295.3 117.0 293.6 119.7 291.6 120.5 290.3 121.2 290.1 121.9 290.3 122.7 291.3 122.9 291.4 124.7 291.5 125.7 291.8 125.9 292.1 125.2 292.8 125.2 293.4 125.4 293.7 127.5 295.1 127.7 295.8 127.9 298.1 128.5 299.8 127.4 301.5 126.9 303.1 127.2 303.6 128.0 304.3 128.2 304.8 128.3 305.3 127.9 306.1 126.6 307.3 125.8 309.1 125.4 309.5 124.9 309.6 124.4 309.5 123.0 308.6 122.4 308.6 121.6 309.3 120.5 311.3 119.7 311.9Z" fill="none" stroke="#b4b4b4" stroke-width="0.8"/>
<path d="M117.7 291.2 117.5 291.1 117.7 290.9 117.8 291.1 117.7 291.2Z" fill="none" stroke="#b4b4b4" stroke-width="0.8"/>
<path d="M119.4 310.0 118.9 310.0 118.2 309.7 117.5 309.1 116.9 306.1 117.4 304.3 117.2 303.8 116.2 303.4 115.9 303.1 115.8 302.3 116.0 301.1 115.4 300.3 115.2 299.8 115.4 299.4 116.4 299.3 116.8 299.1 116.9 298.8 116.7 298.6 115.9 297.8 115.8 297.1 116.1 296.3 116.8 295.3 117.3 294.1 118.2 293.4 119.7 293.4 120.1 292.3 120.9 291.4 121.4 291.2 122.4 291.9 123.7 292.1 124.1 292.3 124.4 292.8 124.7 294.1 126.2 294.8 126.8 295.3 127.1 295.8 127.3 296.6 127.7 299.8 126.6 302.6 126.5 303.3 126.6 303.8 127.4 304.8 127.4 305.3 125.7 308.1 125.2 308.6 124.4 308.8 123.2 308.1 122.4 308.1 121.3 308.6 120.4 309.4 119.4 310.0Z" fill="none" stroke="#5e5e5e" stroke-width="0.8"/>
<path d="M118.9 309.3 118.2 309.1 117.8 308.6 117.3 306.1 117.9 304.3 117.4 303.2 116.6 302.6 116.6 302.1 117.2 301.3 116.8 300.3 116.9 300.1 117.7 299.1 117.5 298.6 116.6 297.6 116.6 297.1 117.4 295.6 117.6 294.6 117.9 294.0 118.7 293.9 119.9 294.1 120.4 293.8 120.8 293.1 121.2 292.8 121.9 292.6 123.2 292.7 123.8 293.1 124.2 294.7 124.4 294.9 125.4 295.0 125.9 295.2 126.5 295.8 126.9 296.6 127.2 300.3 126.0 303.3 126.0 303.8 126.5 304.8 126.5 305.6 125.7 307.3 124.9 308.2 124.4 308.3 123.2 307.7 122.4 307.6 121.2 308.0 119.9 309.1 118.9 309.3Z" fill="none" stroke="#acacac" stroke-width="0.8"/>
<path d="M119.9 308.6 119.2 308.8 118.5 308.6 117.8 306.6 117.7 306.1 117.9 305.4 118.4 305.1 119.2 305.1 119.4 304.6 118.4 303.9 118.1 303.3 118.1 302.1 118.5 299.8 118.2 298.7 117.5 297.6 117.4 297.1 117.7 296.7 118.4 296.1 118.5 295.8 118.2 294.8 118.4 294.5 119.9 294.7 120.4 294.6 121.4 293.6 122.4 293.5 123.0 293.8 123.4 295.1 123.8 295.6 125.4 295.9 126.3 296.6 126.5 297.1 126.5 298.8 126.8 300.1 126.8 300.6 125.9 302.6 125.4 303.0 124.9 303.1 124.7 303.3 124.8 303.6 125.5 304.3 125.6 304.8 125.4 306.6 125.1 307.3 124.7 307.6 124.2 307.7 123.0 307.1 122.8 306.8 122.7 306.6 123.1 305.6 122.5 305.1 121.9 305.0 121.7 305.1 121.5 305.6 121.8 306.8 119.9 308.6Z" fill="none" stroke="#4a4a4a" stroke-width="0.8"/>
<path d="M119.9 307.9 119.4 308.0 119.2 307.9 118.3 306.8 118.1 306.1 118.4 305.8 119.4 305.6 120.3 304.6 120.5 304.1 120.6 302.3 121.3 301.1 121.4 300.6 121.2 300.3 119.9 300.2 119.4 299.9 118.6 298.8 118.2 297.6 118.5 297.1 119.3 296.6 119.6 295.3 121.7 294.8 122.2 294.8 122.7 295.2 123.1 296.1 124.3 296.6 124.9 297.6 125.5 298.1 126.4 300.1 126.4 300.6 125.6 302.3 124.4 302.8 124.2 303.1 124.2 303.6 124.5 304.3 124.4 304.7 123.7 304.9 122.2 304.6 121.7 304.6 121.1 304.8 120.9 305.3 121.1 306.3 120.9 306.8 119.9 307.9Z" fill="none" stroke="#b4b4b4" stroke-width="0.8"/>
<path d="M122.0 297.6 122.2 297.3 122.3 296.8 121.9 296.6 121.4 296.8 121.4 297.1 121.7 297.5 122.0 297.6Z" fill="none" stroke="#b4b4b4" stroke-width="0.8"/>
<path d="M123.0 300.1 122.8 299.3 122.2 298.9 121.9 299.3 121.9 299.9 122.4 300.1 123.0 300.1Z" fill="none" stroke="#b4b4b4" stroke-width="0.8"/>
<path d="M119.4 303.6 118.9 303.6 118.7 303.4 118.5 302.3 118.7 301.3 118.9 301.0 119.4 300.8 119.9 301.1 120.2 302.1 119.9 303.1 119.4 303.6Z" fill="none" stroke="#b4b4b4" stroke-width="0.8"/>
<path d="M124.2 306.9 123.9 306.8 123.8 306.6 123.9 306.4 124.3 306.6 124.2 306.9Z" fill="none" stroke="#b4b4b4" stroke-width="0.8"/>
<path d="M121.2 299.9 120.7 300.0 120.2 299.9 119.4 299.3 118.8 298.3 118.8 297.8 118.9 297.5 120.2 297.0 120.7 297.3 121.2 297.7 121.6 298.6 121.4 299.6 121.2 299.9Z" fill="none" stroke="#5e5e5e" stroke-width="0.8"/>
<path d="M123.4 304.3 121.3 304.1 121.1 303.8 121.0 303.1 121.1 302.1 121.9 300.7 122.4 300.6 123.4 301.3 123.7 301.4 123.9 301.2 124.1 300.8 124.0 300.3 122.5 298.3 122.7 297.6 123.1 297.1 123.4 297.0 123.8 297.1 124.1 297.3 124.5 298.3 125.9 300.1 126.1 300.6 125.3 302.1 124.2 302.5 123.9 302.8 123.8 303.3 123.8 304.1 123.4 304.3Z" fill="none" stroke="#5e5e5e" stroke-width="0.8"/>
<path d="M119.2 302.7 119.1 301.8 119.4 301.6 119.6 302.1 119.4 302.5 119.2 302.7Z" fill="none" stroke="#5e5e5e" stroke-width="0.8"/>
<path d="M120.2 307.1 119.7 307.3 119.4 307.1 119.1 306.6 119.2 306.3 120.2 305.7 120.4 305.8 120.6 306.3 120.4 306.8 120.2 307.1Z" fill="none" stroke="#5e5e5e" stroke-width="0.8"/>
<path d="M120.9 299.6 120.2 299.6 119.5 299.1 119.2 298.3 119.4 297.8 120.2 297.7 120.7 297.8 121.0 298.1 121.3 298.8 121.2 299.3 120.9 299.6Z" fill="none" stroke="#acacac" stroke-width="0.8"/>
<path d="M124.7 301.9 124.4 301.8 124.6 300.8 124.6 300.1 123.0 298.3 123.1 297.8 123.4 297.7 123.7 297.8 124.3 299.1 125.4 300.4 125.4 300.8 125.2 301.4 124.9 301.8 124.7 301.9Z" fill="none" stroke="#acacac" stroke-width="0.8"/>
<path d="M122.7 303.7 122.2 303.7 121.7 303.6 121.4 303.1 121.4 302.1 121.7 301.6 122.2 301.1 122.7 301.2 123.4 302.1 123.4 302.3 123.1 303.3 122.7 303.7Z" fill="none" stroke="#acacac" stroke-width="0.8"/>
</g>
<ellipse cx="105.6" cy="279.2" rx="2.9" ry="2.0" fill="#d8d8d8" stroke="#222" stroke-width="1.1"/>
<clipPath id="c2a"><rect x="152.4" y="257.6" width="47.099999999999994" height="51.0"/></clipPath>
<g clip-path="url(#c2a)">
<path d="M176.0 309.8 175.8 309.9 175.5 309.7 175.3 309.4 174.9 308.5 174.6 307.2 174.5 301.7 174.2 299.2 174.1 296.2 174.4 292.0 174.9 289.2 175.5 288.2 176.5 287.2 176.8 287.2 177.1 287.7 177.4 288.7 177.5 289.7 177.8 293.0 177.6 300.2 177.7 302.5 177.5 303.5 176.9 305.0 177.3 307.0 177.2 308.0 176.8 308.9 176.0 309.8Z" fill="none" stroke="#909090" stroke-width="0.5"/>
<path d="M162.0 310.0 160.8 310.1 158.5 309.4 157.5 308.8 156.9 308.0 156.6 307.2 156.5 306.5 157.0 304.5 157.0 304.0 156.8 303.1 156.1 302.0 156.0 301.5 155.9 300.0 155.5 298.2 155.5 297.5 157.2 294.0 158.5 292.8 159.8 291.4 160.8 291.0 163.0 291.0 163.5 290.9 166.0 288.7 167.0 288.3 167.8 288.4 168.5 288.9 169.4 289.7 169.9 290.5 170.2 291.2 170.7 296.2 171.3 298.7 171.1 300.5 170.0 303.0 168.0 306.2 166.5 307.5 165.5 308.6 164.8 309.2 163.8 309.7 162.0 310.0Z" fill="none" stroke="#909090" stroke-width="0.5"/>
<path d="M176.0 308.2 175.8 308.2 175.5 307.9 175.2 306.7 175.0 301.7 174.6 299.5 174.4 296.7 174.9 291.7 175.5 289.3 175.8 288.9 176.3 288.5 176.5 288.5 176.8 288.7 177.0 289.2 177.4 292.7 177.2 300.7 177.3 302.5 177.1 303.5 176.4 305.0 176.7 306.7 176.7 307.5 176.4 308.0 176.0 308.2Z" fill="none" stroke="#868686" stroke-width="0.52"/>
<path d="M161.3 308.8 160.3 309.0 159.0 308.6 158.0 308.0 157.5 307.2 157.3 306.2 157.7 305.0 157.7 304.2 156.8 301.5 156.8 299.7 156.4 298.0 156.5 297.2 156.9 296.5 158.2 294.5 159.8 292.9 160.8 292.6 163.0 292.6 163.8 292.4 164.3 292.1 165.3 290.5 166.0 289.8 166.8 289.5 167.5 289.5 168.0 289.8 168.8 290.5 169.4 291.7 169.7 294.5 170.7 298.5 170.6 300.0 168.8 303.2 167.3 305.7 164.5 307.8 164.0 307.9 162.5 307.9 161.3 308.8Z" fill="none" stroke="#868686" stroke-width="0.52"/>
<path d="M176.3 303.6 176.0 303.7 175.8 303.6 175.6 303.2 175.6 301.5 174.9 299.7 174.7 297.0 175.2 292.5 176.0 290.3 176.3 290.1 176.5 290.7 177.0 292.7 176.9 295.2 177.0 298.5 176.7 301.2 176.8 302.7 176.6 303.2 176.3 303.6Z" fill="none" stroke="#7c7c7c" stroke-width="0.54"/>
<path d="M160.5 307.7 159.8 307.9 159.0 307.7 158.4 307.2 158.1 306.7 158.1 306.2 158.4 304.5 157.5 301.5 157.8 299.7 157.3 298.0 157.4 297.0 159.3 294.5 160.0 293.8 160.8 293.5 163.0 293.6 164.5 293.2 165.2 292.7 166.0 291.0 166.5 290.6 167.3 290.5 168.0 291.0 168.5 292.0 169.0 294.8 170.1 298.2 170.2 299.0 170.0 299.7 169.5 300.4 168.4 301.5 166.8 304.1 165.5 304.8 164.3 306.1 163.8 306.3 162.3 306.6 160.5 307.7Z" fill="none" stroke="#7c7c7c" stroke-width="0.54"/>
<path d="M163.5 302.7 163.6 302.5 163.3 302.1 163.0 302.0 162.7 302.2 162.8 302.8 163.0 302.9 163.5 302.7Z" fill="none" stroke="#7c7c7c" stroke-width="0.54"/>
<path d="M159.8 307.0 159.3 306.9 158.9 306.5 159.0 304.5 158.0 302.0 158.0 301.2 158.5 299.7 158.0 298.0 158.1 297.2 160.0 294.9 160.5 294.5 161.0 294.3 163.3 294.2 164.8 293.7 166.2 293.0 166.8 291.9 167.0 291.8 167.3 291.9 168.0 293.3 169.6 297.7 169.7 298.7 169.4 299.5 168.8 300.2 166.3 301.9 165.3 302.0 163.0 301.3 162.3 301.5 162.0 302.0 161.9 302.5 162.3 304.2 162.2 305.0 161.7 305.7 161.0 306.4 160.3 306.9 159.8 307.0Z" fill="none" stroke="#737373" stroke-width="0.56"/>
<path d="M176.0 300.7 175.5 300.4 175.2 299.7 174.9 297.0 175.5 293.0 175.8 292.3 176.0 292.1 176.3 292.2 176.6 293.0 176.5 295.0 176.8 298.5 176.6 300.0 176.3 300.6 176.0 300.7Z" fill="none" stroke="#737373" stroke-width="0.56"/>
<path d="M160.5 305.5 160.3 305.7 160.0 305.6 159.9 305.5 159.7 304.5 158.8 303.1 158.4 302.2 158.4 301.5 158.9 299.7 158.6 298.0 158.8 297.2 160.6 295.5 161.3 295.0 163.8 294.5 166.5 293.6 167.3 293.7 168.0 294.5 169.1 297.5 169.3 298.5 169.0 299.2 168.0 300.2 166.0 301.2 165.0 301.3 162.8 300.9 162.0 301.1 161.7 301.5 161.5 302.0 161.2 304.5 161.0 305.0 160.5 305.5Z" fill="none" stroke="#696969" stroke-width="0.58"/>
<path d="M176.0 300.1 175.7 300.0 175.4 299.5 175.2 297.5 175.3 296.0 175.8 295.0 176.0 295.0 176.3 295.7 176.6 298.0 176.5 299.5 176.3 300.0 176.0 300.1Z" fill="none" stroke="#696969" stroke-width="0.58"/>
<path d="M160.5 303.5 160.0 303.6 159.5 303.3 159.0 302.8 158.8 302.2 158.8 301.5 159.4 300.0 159.1 298.2 159.3 297.5 160.3 296.6 162.1 295.5 166.0 294.2 166.8 294.1 167.3 294.3 168.0 295.2 168.9 297.7 168.9 298.5 168.6 299.2 167.5 300.1 166.3 300.6 165.0 300.8 162.5 300.5 161.8 300.6 161.3 301.2 161.0 302.7 160.5 303.5Z" fill="none" stroke="#606060" stroke-width="0.6"/>
<path d="M176.0 299.5 175.8 299.4 175.7 299.2 175.5 298.0 175.4 296.7 175.5 296.3 175.8 296.0 176.0 296.2 176.1 296.5 176.3 297.7 176.3 299.0 176.0 299.5Z" fill="none" stroke="#606060" stroke-width="0.6"/>
</g>
<clipPath id="c2b"><rect x="152.4" y="257.6" width="47.099999999999994" height="51.0"/></clipPath>
<g clip-path="url(#c2b)">
<path d="M186.5 311.0 183.8 311.1 182.3 311.0 180.9 310.2 180.4 309.7 180.1 309.0 179.7 307.2 179.7 305.0 179.5 304.3 179.2 303.7 178.2 297.7 178.1 296.2 178.3 295.2 178.7 294.2 180.1 291.7 181.1 290.5 181.8 289.4 183.0 289.2 184.0 288.6 184.5 288.7 184.9 289.2 185.4 289.5 186.0 289.5 187.0 289.4 187.5 289.5 188.1 290.5 189.1 291.5 189.4 292.5 190.5 293.3 190.8 293.7 191.0 294.2 190.9 295.5 191.6 296.5 191.9 297.2 191.5 299.5 192.0 301.0 192.0 301.5 191.4 303.7 190.4 306.0 190.0 306.7 189.5 307.0 188.8 306.8 188.3 307.0 188.1 307.5 188.5 308.5 188.2 309.7 187.6 310.5 186.5 311.0Z" fill="#959595" stroke="#666666" stroke-width="0.7"/>
<path d="M184.0 310.7 183.3 310.6 181.7 309.7 181.4 309.5 181.1 309.0 180.3 306.2 180.4 304.7 180.9 303.5 180.9 303.0 180.8 302.6 180.0 302.2 179.7 301.7 179.2 298.5 179.4 297.0 179.2 295.7 179.4 295.0 180.7 293.0 182.0 292.1 182.8 291.3 184.3 290.6 185.3 290.3 186.0 290.3 186.8 290.5 187.8 291.4 188.0 291.7 188.4 292.7 189.8 294.0 189.9 295.5 190.7 296.7 190.8 297.2 190.8 298.2 190.6 299.7 191.2 301.5 191.1 302.0 190.4 303.2 190.2 304.7 189.9 305.5 189.5 305.8 188.3 306.3 187.8 306.7 187.4 307.7 187.4 309.0 187.0 309.7 186.5 310.1 185.8 310.4 184.0 310.7Z" fill="none" stroke="#bcbcbc" stroke-width="0.8"/>
<path d="M185.0 310.0 183.8 310.1 182.4 309.5 182.0 309.0 181.6 308.0 181.0 306.7 180.8 306.0 180.8 305.2 180.9 304.7 181.5 303.7 181.4 302.0 181.9 300.7 181.6 300.2 180.5 299.9 180.0 299.3 179.9 298.5 180.1 297.2 179.9 296.0 180.3 295.2 181.5 294.0 182.8 293.5 183.3 292.2 183.8 291.6 184.5 291.2 185.5 291.1 186.0 291.2 186.5 291.7 186.6 292.2 186.3 292.7 186.5 293.0 188.5 294.0 188.7 294.2 188.6 295.0 188.7 295.2 189.5 296.1 190.0 297.0 190.2 297.7 190.2 298.5 190.0 299.0 189.3 300.0 189.3 300.2 189.5 300.6 190.3 301.1 190.4 301.5 190.3 301.9 189.8 302.6 189.7 304.5 189.4 305.2 189.0 305.5 187.8 306.0 187.5 306.2 186.9 307.7 186.8 308.7 186.6 309.2 186.0 309.7 185.0 310.0Z" fill="none" stroke="#606060" stroke-width="0.8"/>
<path d="M187.8 299.0 187.8 298.7 187.6 298.5 187.1 298.5 187.0 298.7 187.2 299.0 187.5 299.1 187.8 299.0Z" fill="none" stroke="#606060" stroke-width="0.8"/>
<path d="M184.5 293.3 184.0 293.3 183.9 292.7 184.3 292.1 184.8 292.0 185.1 292.2 185.2 292.5 184.9 293.0 184.5 293.3Z" fill="none" stroke="#b4b4b4" stroke-width="0.8"/>
<path d="M184.8 309.5 183.8 309.6 183.0 309.2 182.6 308.7 182.4 308.0 181.7 307.0 181.3 306.2 181.3 305.2 181.9 304.0 181.7 302.2 181.9 301.7 182.6 300.7 182.6 300.5 182.2 300.0 181.0 299.3 180.7 299.0 180.6 298.5 180.7 297.5 180.5 296.2 180.7 295.7 181.0 295.4 182.8 294.5 183.5 294.4 184.8 294.5 186.0 293.9 186.5 293.8 187.0 294.0 187.3 294.2 187.8 295.2 189.2 296.5 189.7 297.5 189.8 298.2 189.6 298.7 188.6 299.7 188.8 301.0 188.6 302.0 189.1 303.0 189.2 304.0 189.0 304.6 188.8 305.0 187.5 305.4 187.0 305.7 186.0 308.9 185.5 309.2 184.8 309.5Z" fill="none" stroke="#b4b4b4" stroke-width="0.8"/>
<path d="M188.3 299.2 188.2 298.7 187.8 298.2 187.0 298.1 186.7 298.5 186.8 299.0 187.3 299.3 188.0 299.4 188.3 299.2Z" fill="none" stroke="#b4b4b4" stroke-width="0.8"/>
<path d="M184.3 309.0 183.8 309.0 183.4 308.7 183.2 307.7 182.0 306.8 181.7 306.2 181.7 305.7 181.8 305.2 182.5 304.5 182.0 302.7 182.2 302.0 182.8 301.5 183.7 301.5 184.0 301.3 184.2 301.0 184.2 300.7 183.3 300.3 181.7 299.0 181.4 298.5 181.8 297.7 182.8 297.0 183.2 295.7 183.5 295.3 186.3 294.6 186.8 294.8 188.8 296.8 189.2 297.5 189.3 298.2 189.0 298.6 188.8 298.7 188.0 297.9 187.5 297.8 186.8 297.9 186.4 298.2 186.4 298.7 186.7 299.2 187.0 299.6 188.0 300.1 188.3 301.0 188.1 301.5 187.8 301.8 186.8 301.6 186.5 301.8 186.2 302.2 186.1 302.7 186.5 303.2 187.0 303.3 187.5 303.3 188.0 303.0 188.3 303.1 188.5 303.5 188.3 303.9 187.4 304.7 186.5 305.2 185.8 305.4 185.5 305.7 185.5 306.0 186.0 306.7 185.5 308.2 185.1 308.7 184.3 309.0Z" fill="none" stroke="#505050" stroke-width="0.8"/>
<path d="M181.8 296.9 181.5 296.9 181.2 296.5 181.3 296.2 181.5 296.0 181.8 296.0 182.0 296.5 181.8 296.9Z" fill="none" stroke="#505050" stroke-width="0.8"/>
<path d="M187.0 297.5 186.3 297.4 185.5 296.5 184.5 296.2 185.5 295.4 186.0 295.2 186.5 295.3 187.5 296.2 188.0 297.0 187.9 297.2 187.0 297.5Z" fill="none" stroke="#bcbcbc" stroke-width="0.8"/>
<path d="M184.8 308.0 184.3 308.1 183.8 307.4 182.5 306.7 182.1 306.0 182.2 305.5 183.2 304.7 183.2 304.5 182.4 303.0 182.5 302.2 182.8 301.9 184.2 301.7 185.0 300.7 185.0 300.5 184.8 300.2 183.5 299.9 182.7 299.2 182.3 298.7 182.4 298.2 183.7 297.5 184.3 296.7 185.0 297.5 185.8 298.0 186.8 300.0 186.7 300.2 186.1 300.7 185.9 301.7 185.5 302.7 185.8 303.3 186.7 304.0 186.8 304.2 186.5 304.6 185.5 304.8 185.0 305.2 184.9 306.0 185.0 307.5 184.8 308.0Z" fill="none" stroke="#bcbcbc" stroke-width="0.8"/>
<path d="M187.0 296.8 186.8 296.8 186.6 296.7 186.3 296.2 186.5 296.1 186.8 296.2 187.0 296.8Z" fill="none" stroke="#606060" stroke-width="0.8"/>
<path d="M185.8 299.6 183.8 299.6 183.1 299.0 183.1 298.5 183.8 298.2 185.0 298.2 185.6 298.7 185.8 299.2 185.8 299.6Z" fill="none" stroke="#606060" stroke-width="0.8"/>
<path d="M184.8 304.3 184.0 304.4 183.3 303.9 182.8 303.0 182.8 302.5 183.3 302.3 184.8 302.1 185.1 303.7 185.1 304.0 184.8 304.3Z" fill="none" stroke="#606060" stroke-width="0.8"/>
<path d="M183.8 306.8 183.0 306.6 182.5 306.2 182.5 305.7 182.7 305.5 183.5 305.2 184.3 305.4 184.4 305.7 184.4 306.2 184.3 306.5 183.8 306.8Z" fill="none" stroke="#606060" stroke-width="0.8"/>
<path d="M184.0 303.8 183.5 303.6 183.3 303.2 183.3 303.0 183.5 302.7 184.0 302.7 184.4 303.0 184.4 303.5 184.3 303.7 184.0 303.8Z" fill="none" stroke="#b4b4b4" stroke-width="0.8"/>
</g>
<clipPath id="c3a"><rect x="213.2" y="259.4" width="47.400000000000034" height="51.200000000000045"/></clipPath>
<g clip-path="url(#c3a)">
<path d="M226.6 313.0 224.6 313.0 224.3 311.5 224.0 311.3 223.3 311.0 222.8 311.0 222.3 311.3 222.2 311.8 222.2 313.0 220.1 313.0 219.4 312.0 218.4 308.0 218.6 307.4 219.4 306.8 219.5 306.5 219.5 306.3 218.3 305.5 217.5 304.8 217.1 304.0 216.9 303.3 217.1 301.5 218.4 297.8 218.4 295.5 218.7 295.0 219.1 294.7 221.7 293.8 222.3 293.3 223.1 292.2 223.6 291.9 225.8 292.1 230.8 291.3 232.3 290.9 233.1 290.9 233.8 291.3 234.9 292.5 236.3 293.4 236.8 293.9 238.7 298.8 239.0 300.3 239.0 302.5 238.5 307.3 238.3 308.3 237.9 309.3 237.3 310.3 236.8 310.9 236.1 311.3 233.3 311.6 232.6 312.0 231.6 312.7 231.1 312.9 230.3 312.6 229.3 311.6 228.6 311.4 227.8 311.8 226.7 313.0 226.6 313.0Z" fill="none" stroke="#909090" stroke-width="0.5"/>
<path d="M231.6 310.6 231.1 310.5 230.1 310.0 229.1 309.8 228.3 309.9 226.8 310.5 226.1 310.6 221.3 310.3 220.6 310.0 220.0 309.3 219.9 308.3 220.4 306.8 220.4 306.0 220.1 305.5 218.6 304.8 218.0 304.0 217.7 303.0 217.9 301.3 218.3 300.0 219.5 298.3 219.6 296.8 219.9 296.0 220.7 295.3 222.3 294.4 223.6 293.6 224.6 293.4 225.8 293.7 226.8 294.1 228.1 295.2 228.6 295.3 229.2 295.0 230.4 293.8 231.3 293.1 232.1 292.7 232.8 292.8 235.8 294.8 237.7 298.0 238.3 299.8 238.5 302.3 238.0 305.3 237.9 307.3 237.4 308.8 236.8 309.5 236.1 310.0 233.6 309.7 231.6 310.6Z" fill="none" stroke="#858585" stroke-width="0.53"/>
<path d="M227.1 308.0 227.1 307.9 226.9 308.0 227.1 308.0Z" fill="none" stroke="#858585" stroke-width="0.53"/>
<path d="M224.3 309.8 223.6 309.8 222.6 309.6 221.8 309.3 221.3 308.9 221.0 308.0 221.2 306.0 221.1 304.9 220.8 304.7 219.8 304.6 219.3 304.4 218.8 304.0 218.5 303.3 218.5 302.0 218.8 300.8 219.1 300.3 220.4 298.8 220.9 297.3 221.3 296.8 221.8 296.5 222.9 296.3 224.1 295.0 224.6 294.8 225.1 294.7 226.1 295.0 227.0 295.8 228.0 297.0 228.3 298.3 228.8 298.7 229.1 298.6 229.1 298.3 228.7 297.3 229.0 296.5 230.1 295.6 231.6 295.2 232.6 295.1 233.1 295.2 234.1 296.1 235.3 296.8 236.1 297.4 236.8 298.2 237.1 298.8 237.9 302.0 237.9 303.0 237.4 305.3 237.2 307.0 236.9 307.8 236.6 308.3 235.8 308.7 234.9 308.5 234.4 308.0 233.8 306.7 233.3 306.4 232.3 306.6 231.1 307.9 230.3 308.2 229.3 307.9 227.6 306.6 226.6 306.3 226.1 306.5 225.7 307.0 225.4 308.8 225.2 309.3 224.3 309.8Z" fill="none" stroke="#7a7a7a" stroke-width="0.57"/>
<path d="M224.1 308.8 223.3 308.9 222.6 308.6 222.1 308.1 221.8 307.5 221.8 306.5 222.1 305.5 222.4 305.0 223.3 304.0 223.4 303.8 223.3 303.4 222.8 303.1 221.6 303.0 221.0 303.0 220.1 303.4 219.8 303.4 219.5 303.0 219.6 302.0 220.0 300.8 221.3 298.8 222.1 298.1 224.3 297.8 224.8 296.7 225.1 296.5 225.6 296.5 226.1 296.8 226.2 297.5 226.1 297.8 225.8 297.9 224.6 298.1 224.6 298.8 224.8 299.3 225.1 299.6 225.3 299.5 226.1 298.6 226.6 298.5 227.1 298.7 228.3 299.8 228.8 299.9 229.6 299.5 230.2 299.0 230.3 298.5 229.8 297.3 229.9 296.8 230.6 296.3 231.4 296.3 232.1 296.7 233.4 298.5 233.4 300.3 233.8 301.1 234.6 301.5 236.3 301.1 236.8 301.3 237.1 301.7 237.3 302.5 237.2 303.5 236.4 305.5 236.2 306.8 235.8 307.1 235.6 307.1 235.3 306.8 235.1 305.5 234.9 305.0 234.6 304.6 234.1 304.2 232.7 305.3 230.6 306.5 229.8 306.6 229.1 306.3 227.5 305.3 227.0 304.5 227.1 304.0 227.8 302.5 227.8 301.8 227.6 301.5 226.3 301.4 225.3 301.0 225.1 301.1 224.9 302.0 225.7 303.0 225.9 303.8 225.3 305.0 224.5 308.3 224.1 308.8Z" fill="none" stroke="#707070" stroke-width="0.6"/>
</g>
<clipPath id="c3b"><rect x="213.2" y="259.4" width="47.400000000000034" height="51.200000000000045"/></clipPath>
<g clip-path="url(#c3b)">
<path d="M247.6 313.0 245.6 313.1 244.2 313.0 242.3 309.1 241.4 307.5 241.1 305.8 240.4 304.8 240.1 303.8 239.2 302.8 239.0 302.0 238.9 299.5 239.0 298.5 239.3 297.8 240.1 296.6 240.6 295.3 240.7 294.8 240.5 293.8 240.7 293.0 241.1 292.7 242.1 292.3 242.2 291.3 242.3 290.8 244.1 289.7 245.1 288.7 246.3 289.2 247.6 288.8 248.1 288.8 249.1 289.3 250.5 290.5 250.8 291.5 252.7 293.8 253.0 294.3 253.1 294.8 252.9 295.8 252.3 296.8 252.2 297.3 252.5 298.0 253.4 299.3 253.5 300.0 253.4 301.3 253.1 301.8 252.1 301.9 251.9 302.0 251.7 302.5 251.8 302.8 252.6 303.3 252.8 303.5 252.7 304.3 252.4 305.0 251.7 306.0 251.1 307.0 249.7 308.0 249.3 308.5 249.1 309.0 249.1 310.3 248.7 311.8 248.3 312.5 247.6 313.0Z" fill="#959595" stroke="#666666" stroke-width="0.7"/>
<path d="M244.1 299.0 244.1 298.5 243.8 298.2 243.3 298.2 243.0 298.5 243.0 298.8 243.3 299.1 243.8 299.2 244.1 299.0Z" fill="#959595" stroke="#666666" stroke-width="0.7"/>
<path d="M246.8 312.6 246.1 312.7 245.3 312.7 244.8 312.4 244.2 311.5 243.0 308.8 242.1 306.0 241.3 304.5 241.3 304.0 241.6 303.0 240.3 302.3 240.1 301.8 240.3 300.3 240.3 298.5 241.4 295.5 242.1 294.8 243.3 295.4 243.8 295.3 244.1 295.0 243.8 294.3 242.8 293.5 243.2 291.5 243.8 291.1 245.8 290.4 246.4 290.5 246.7 290.8 246.8 291.8 247.1 292.3 248.1 292.1 250.6 292.7 251.9 294.5 252.1 295.0 251.5 296.5 252.0 299.0 251.6 300.0 251.6 301.0 251.2 302.3 251.5 304.3 250.3 306.5 249.3 307.4 248.2 308.8 248.3 310.3 248.2 311.0 247.7 312.0 246.8 312.6Z" fill="none" stroke="#bcbcbc" stroke-width="0.8"/>
<path d="M244.2 299.3 244.3 298.5 244.1 297.9 243.8 297.8 243.3 297.9 242.8 298.3 242.6 298.8 242.8 299.1 243.6 299.4 244.2 299.3Z" fill="none" stroke="#bcbcbc" stroke-width="0.8"/>
<path d="M246.6 311.9 246.1 312.0 245.6 311.9 244.8 311.3 244.3 310.6 243.5 308.8 243.3 307.0 243.5 306.3 244.1 305.8 244.2 305.5 244.1 304.8 243.8 304.6 243.6 304.6 242.8 304.8 242.4 304.5 242.4 304.0 243.2 303.0 242.7 302.5 241.5 302.0 241.1 301.5 241.1 301.0 241.5 299.5 241.8 299.1 243.8 299.7 244.3 299.7 244.5 299.5 244.6 297.8 244.8 297.0 244.3 297.1 243.3 297.2 241.8 298.3 241.6 297.8 241.8 296.7 242.1 296.2 242.3 296.1 243.3 296.2 244.3 295.8 245.2 295.8 245.3 295.5 245.2 295.3 244.4 294.3 243.8 293.0 243.9 292.3 244.3 291.9 245.3 292.0 245.7 292.3 246.7 293.8 247.1 294.8 247.3 295.0 247.8 295.0 248.3 294.5 248.4 294.0 248.3 293.3 248.4 293.0 249.8 293.2 250.3 293.4 250.6 293.8 250.7 294.3 250.4 295.5 250.9 296.5 251.1 297.5 251.1 298.3 250.6 298.9 250.5 299.3 251.0 300.8 250.8 302.3 250.8 304.0 249.8 305.8 249.1 306.6 248.4 307.8 247.7 308.5 247.5 309.0 247.7 310.0 247.6 310.5 247.1 311.5 246.6 311.9Z" fill="none" stroke="#606060" stroke-width="0.8"/>
<path d="M247.9 297.0 247.6 296.8 247.3 297.0 247.6 297.2 247.9 297.0Z" fill="none" stroke="#606060" stroke-width="0.8"/>
<path d="M246.1 294.6 245.6 294.6 245.1 294.3 244.9 293.8 245.1 293.4 245.6 293.4 246.0 293.8 246.2 294.3 246.1 294.6Z" fill="none" stroke="#b4b4b4" stroke-width="0.8"/>
<path d="M248.8 295.8 248.5 295.8 248.8 295.5 248.9 295.5 248.8 295.8Z" fill="none" stroke="#b4b4b4" stroke-width="0.8"/>
<path d="M246.3 311.1 245.8 311.2 245.1 310.7 244.4 309.8 244.0 308.8 243.9 308.0 244.0 307.3 244.9 306.0 244.3 302.5 244.1 302.1 243.1 302.1 242.2 301.8 241.8 301.3 241.8 300.8 242.2 300.0 242.6 299.8 243.6 300.0 244.6 300.7 245.3 300.6 245.7 300.3 245.7 300.0 245.0 299.5 244.8 298.8 244.9 298.0 245.3 297.5 245.8 297.1 246.3 297.0 247.2 297.5 247.8 297.6 248.4 297.3 249.3 296.4 249.8 296.4 250.3 296.8 250.6 297.5 250.5 298.0 249.8 299.3 250.5 300.8 250.1 302.0 250.3 303.0 250.3 303.5 249.8 304.0 248.8 303.9 248.3 304.0 247.3 305.3 247.3 305.6 248.2 306.5 248.2 307.0 248.0 307.5 247.3 308.3 247.0 310.3 246.7 310.8 246.3 311.1Z" fill="none" stroke="#b4b4b4" stroke-width="0.8"/>
<path d="M246.1 310.1 245.6 310.2 245.1 309.8 244.6 309.0 244.5 308.5 244.6 307.5 245.6 306.3 245.7 305.8 245.2 305.0 244.7 301.8 244.9 301.3 246.4 300.3 246.5 300.0 245.3 299.3 245.1 298.8 245.2 298.3 245.6 297.7 246.1 297.5 247.8 297.9 249.3 297.2 249.8 297.3 250.0 297.5 250.0 298.0 249.3 299.0 247.0 300.0 246.9 300.3 247.6 301.5 248.3 301.7 249.0 302.8 248.8 303.1 247.8 303.4 247.5 303.3 247.3 302.2 247.1 302.1 246.7 302.5 246.7 303.0 247.3 303.5 247.3 304.0 246.3 305.5 246.3 305.8 247.3 306.5 247.5 307.0 246.9 308.0 246.6 309.4 246.1 310.1Z" fill="none" stroke="#505050" stroke-width="0.8"/>
<path d="M243.3 301.4 243.1 301.5 242.7 301.3 242.6 300.8 242.8 300.5 243.3 300.5 243.6 300.8 243.6 301.1 243.3 301.4Z" fill="none" stroke="#505050" stroke-width="0.8"/>
<path d="M247.1 299.5 246.3 299.5 245.6 299.1 245.4 298.5 245.6 298.0 246.3 297.8 248.1 298.2 249.1 297.8 249.3 297.8 249.4 298.3 249.1 298.6 247.8 299.3 247.1 299.5Z" fill="none" stroke="#bcbcbc" stroke-width="0.8"/>
<path d="M246.3 304.5 246.1 304.7 245.8 304.5 245.7 303.5 245.3 302.8 245.0 302.0 245.2 301.5 245.4 301.3 246.3 300.9 246.6 300.9 246.8 301.3 246.0 303.3 246.4 304.0 246.3 304.5Z" fill="none" stroke="#bcbcbc" stroke-width="0.8"/>
<path d="M246.1 308.5 245.5 307.8 245.4 307.3 245.8 306.7 246.3 306.5 246.8 306.7 246.9 307.0 246.1 308.5Z" fill="none" stroke="#bcbcbc" stroke-width="0.8"/>
<path d="M247.6 299.1 247.1 299.2 246.3 299.2 245.8 298.9 245.7 298.5 246.1 298.1 246.8 298.1 247.8 298.5 247.9 298.8 247.6 299.1Z" fill="none" stroke="#606060" stroke-width="0.8"/>
<path d="M245.8 302.2 245.6 302.2 245.5 301.8 245.8 301.5 246.1 301.4 246.1 301.8 245.8 302.2Z" fill="none" stroke="#606060" stroke-width="0.8"/>
</g>
<ellipse cx="246.6" cy="297.3" rx="1.5" ry="2.0" fill="#e6e6e6" stroke="#111" stroke-width="1.2"/>
<path d="M244.6 310.5 L246.2 305 L247.8 310.5" fill="#333" stroke="#111" stroke-width="0.8"/>
<circle cx="43.599999999999994" cy="279.1" r="10.9" fill="none" stroke="#555" stroke-width="0.75"/>
<rect x="30.4" y="258.8" width="47.6" height="51.5" fill="none" stroke="#777" stroke-width="0.8"/>
<line x1="30.4" y1="258.5" x2="30.4" y2="311.8" stroke="#333" stroke-width="1.0"/>
<line x1="28.9" y1="310.3" x2="78.0" y2="310.3" stroke="#333" stroke-width="1.0"/>
<line x1="29.0" y1="264.6195" x2="30.4" y2="264.6195" stroke="#444" stroke-width="0.6"/>
<text x="22.70" y="265.92" font-size="3.6" fill="#333" stroke="#333" stroke-width="0.12" textLength="6.2" lengthAdjust="spacingAndGlyphs">10⁵</text>
<line x1="29.0" y1="276.413" x2="30.4" y2="276.413" stroke="#444" stroke-width="0.6"/>
<text x="21.90" y="277.71" font-size="3.6" fill="#333" stroke="#333" stroke-width="0.12" textLength="7.0" lengthAdjust="spacingAndGlyphs">10⁴</text>
<line x1="29.0" y1="288.464" x2="30.4" y2="288.464" stroke="#444" stroke-width="0.6"/>
<text x="21.90" y="289.76" font-size="3.6" fill="#333" stroke="#333" stroke-width="0.12" textLength="7.0" lengthAdjust="spacingAndGlyphs">10³</text>
<line x1="29.0" y1="300.4635" x2="30.4" y2="300.4635" stroke="#444" stroke-width="0.6"/>
<text x="24.90" y="301.76" font-size="3.6" fill="#333" stroke="#333" stroke-width="0.12" textLength="4.0" lengthAdjust="spacingAndGlyphs">10²</text>
<line x1="29.0" y1="305.356" x2="30.4" y2="305.356" stroke="#444" stroke-width="0.6"/>
<text x="26.90" y="306.66" font-size="3.6" fill="#333" stroke="#333" stroke-width="0.12" textLength="2.0" lengthAdjust="spacingAndGlyphs">0</text>
<text x="33.06" y="316.30" font-size="3.4" fill="#333" stroke="#333" stroke-width="0.12" textLength="8.0" lengthAdjust="spacingAndGlyphs">0 100</text>
<text x="50.09" y="316.30" font-size="3.4" fill="#333" stroke="#333" stroke-width="0.12" textLength="4.8" lengthAdjust="spacingAndGlyphs">1000</text>
<text x="59.14" y="316.30" font-size="3.4" fill="#333" stroke="#333" stroke-width="0.12" textLength="8.2" lengthAdjust="spacingAndGlyphs">10000</text>
<text x="70.44" y="316.30" font-size="3.4" fill="#333" stroke="#333" stroke-width="0.12" textLength="5.6" lengthAdjust="spacingAndGlyphs">10⁵</text>
<circle cx="105.0" cy="279.5" r="10.9" fill="none" stroke="#555" stroke-width="0.75"/>
<rect x="91.8" y="259.2" width="47.2" height="51.400000000000034" fill="none" stroke="#777" stroke-width="0.8"/>
<line x1="91.8" y1="258.9" x2="91.8" y2="312.1" stroke="#333" stroke-width="1.0"/>
<line x1="90.3" y1="310.6" x2="139.0" y2="310.6" stroke="#333" stroke-width="1.0"/>
<line x1="90.39999999999999" y1="265.0082" x2="91.8" y2="265.0082" stroke="#444" stroke-width="0.6"/>
<text x="84.10" y="266.31" font-size="3.6" fill="#333" stroke="#333" stroke-width="0.12" textLength="6.2" lengthAdjust="spacingAndGlyphs">10⁵</text>
<line x1="90.39999999999999" y1="276.7788" x2="91.8" y2="276.7788" stroke="#444" stroke-width="0.6"/>
<text x="83.30" y="278.08" font-size="3.6" fill="#333" stroke="#333" stroke-width="0.12" textLength="7.0" lengthAdjust="spacingAndGlyphs">10⁴</text>
<line x1="90.39999999999999" y1="288.8064" x2="91.8" y2="288.8064" stroke="#444" stroke-width="0.6"/>
<text x="83.30" y="290.11" font-size="3.6" fill="#333" stroke="#333" stroke-width="0.12" textLength="7.0" lengthAdjust="spacingAndGlyphs">10³</text>
<line x1="90.39999999999999" y1="300.7826" x2="91.8" y2="300.7826" stroke="#444" stroke-width="0.6"/>
<text x="86.30" y="302.08" font-size="3.6" fill="#333" stroke="#333" stroke-width="0.12" textLength="4.0" lengthAdjust="spacingAndGlyphs">10²</text>
<line x1="90.39999999999999" y1="305.66560000000004" x2="91.8" y2="305.66560000000004" stroke="#444" stroke-width="0.6"/>
<text x="88.30" y="306.97" font-size="3.6" fill="#333" stroke="#333" stroke-width="0.12" textLength="2.0" lengthAdjust="spacingAndGlyphs">0</text>
<text x="94.41" y="316.60" font-size="3.4" fill="#333" stroke="#333" stroke-width="0.12" textLength="8.0" lengthAdjust="spacingAndGlyphs">0 100</text>
<text x="111.30" y="316.60" font-size="3.4" fill="#333" stroke="#333" stroke-width="0.12" textLength="4.8" lengthAdjust="spacingAndGlyphs">1000</text>
<text x="120.27" y="316.60" font-size="3.4" fill="#333" stroke="#333" stroke-width="0.12" textLength="8.2" lengthAdjust="spacingAndGlyphs">10000</text>
<text x="131.48" y="316.60" font-size="3.4" fill="#333" stroke="#333" stroke-width="0.12" textLength="5.6" lengthAdjust="spacingAndGlyphs">10⁵</text>
<circle cx="165.6" cy="277.90000000000003" r="10.9" fill="none" stroke="#6a6a6a" stroke-width="0.75"/>
<rect x="152.4" y="257.6" width="47.099999999999994" height="51.0" fill="none" stroke="#777" stroke-width="0.8"/>
<line x1="152.4" y1="257.3" x2="152.4" y2="310.1" stroke="#333" stroke-width="1.0"/>
<line x1="150.9" y1="308.6" x2="199.5" y2="308.6" stroke="#333" stroke-width="1.0"/>
<line x1="151.0" y1="263.363" x2="152.4" y2="263.363" stroke="#444" stroke-width="0.6"/>
<text x="144.70" y="264.66" font-size="3.6" fill="#333" stroke="#333" stroke-width="0.12" textLength="6.2" lengthAdjust="spacingAndGlyphs">10⁵</text>
<line x1="151.0" y1="275.04200000000003" x2="152.4" y2="275.04200000000003" stroke="#444" stroke-width="0.6"/>
<text x="143.90" y="276.34" font-size="3.6" fill="#333" stroke="#333" stroke-width="0.12" textLength="7.0" lengthAdjust="spacingAndGlyphs">10⁴</text>
<line x1="151.0" y1="286.976" x2="152.4" y2="286.976" stroke="#444" stroke-width="0.6"/>
<text x="143.90" y="288.28" font-size="3.6" fill="#333" stroke="#333" stroke-width="0.12" textLength="7.0" lengthAdjust="spacingAndGlyphs">10³</text>
<line x1="151.0" y1="298.85900000000004" x2="152.4" y2="298.85900000000004" stroke="#444" stroke-width="0.6"/>
<text x="146.90" y="300.16" font-size="3.6" fill="#333" stroke="#333" stroke-width="0.12" textLength="4.0" lengthAdjust="spacingAndGlyphs">10²</text>
<line x1="151.0" y1="303.704" x2="152.4" y2="303.704" stroke="#444" stroke-width="0.6"/>
<text x="148.90" y="305.00" font-size="3.6" fill="#333" stroke="#333" stroke-width="0.12" textLength="2.0" lengthAdjust="spacingAndGlyphs">0</text>
<text x="154.99" y="314.60" font-size="3.4" fill="#333" stroke="#333" stroke-width="0.12" textLength="8.0" lengthAdjust="spacingAndGlyphs">0 100</text>
<text x="171.85" y="314.60" font-size="3.4" fill="#333" stroke="#333" stroke-width="0.12" textLength="4.8" lengthAdjust="spacingAndGlyphs">1000</text>
<text x="180.80" y="314.60" font-size="3.4" fill="#333" stroke="#333" stroke-width="0.12" textLength="8.2" lengthAdjust="spacingAndGlyphs">10000</text>
<text x="191.99" y="314.60" font-size="3.4" fill="#333" stroke="#333" stroke-width="0.12" textLength="5.6" lengthAdjust="spacingAndGlyphs">10⁵</text>
<circle cx="225.2" cy="282.7" r="1.4" fill="none" stroke="#888" stroke-width="0.5"/>
<circle cx="226.39999999999998" cy="279.7" r="10.9" fill="none" stroke="#6a6a6a" stroke-width="0.75"/>
<rect x="213.2" y="259.4" width="47.400000000000034" height="51.200000000000045" fill="none" stroke="#777" stroke-width="0.8"/>
<line x1="213.2" y1="259.09999999999997" x2="213.2" y2="312.1" stroke="#333" stroke-width="1.0"/>
<line x1="211.7" y1="310.6" x2="260.6" y2="310.6" stroke="#333" stroke-width="1.0"/>
<line x1="211.79999999999998" y1="265.18559999999997" x2="213.2" y2="265.18559999999997" stroke="#444" stroke-width="0.6"/>
<text x="205.50" y="266.49" font-size="3.6" fill="#333" stroke="#333" stroke-width="0.12" textLength="6.2" lengthAdjust="spacingAndGlyphs">10⁵</text>
<line x1="211.79999999999998" y1="276.9104" x2="213.2" y2="276.9104" stroke="#444" stroke-width="0.6"/>
<text x="204.70" y="278.21" font-size="3.6" fill="#333" stroke="#333" stroke-width="0.12" textLength="7.0" lengthAdjust="spacingAndGlyphs">10⁴</text>
<line x1="211.79999999999998" y1="288.8912" x2="213.2" y2="288.8912" stroke="#444" stroke-width="0.6"/>
<text x="204.70" y="290.19" font-size="3.6" fill="#333" stroke="#333" stroke-width="0.12" textLength="7.0" lengthAdjust="spacingAndGlyphs">10³</text>
<line x1="211.79999999999998" y1="300.8208" x2="213.2" y2="300.8208" stroke="#444" stroke-width="0.6"/>
<text x="207.70" y="302.12" font-size="3.6" fill="#333" stroke="#333" stroke-width="0.12" textLength="4.0" lengthAdjust="spacingAndGlyphs">10²</text>
<line x1="211.79999999999998" y1="305.6848" x2="213.2" y2="305.6848" stroke="#444" stroke-width="0.6"/>
<text x="209.70" y="306.98" font-size="3.6" fill="#333" stroke="#333" stroke-width="0.12" textLength="2.0" lengthAdjust="spacingAndGlyphs">0</text>
<text x="215.84" y="316.60" font-size="3.4" fill="#333" stroke="#333" stroke-width="0.12" textLength="8.0" lengthAdjust="spacingAndGlyphs">0 100</text>
<text x="232.79" y="316.60" font-size="3.4" fill="#333" stroke="#333" stroke-width="0.12" textLength="4.8" lengthAdjust="spacingAndGlyphs">1000</text>
<text x="241.81" y="316.60" font-size="3.4" fill="#333" stroke="#333" stroke-width="0.12" textLength="8.2" lengthAdjust="spacingAndGlyphs">10000</text>
<text x="253.06" y="316.60" font-size="3.4" fill="#333" stroke="#333" stroke-width="0.12" textLength="5.6" lengthAdjust="spacingAndGlyphs">10⁵</text>
<clipPath id="e0a"><rect x="31.2" y="327.3" width="47.0" height="51.69999999999999"/></clipPath>
<g clip-path="url(#e0a)">
<path d="M60.6 381.4 56.8 381.6 51.3 381.4 50.1 380.1 49.6 379.8 48.8 379.7 48.1 379.8 47.6 380.1 46.2 381.4 38.6 381.5 37.6 381.4 36.8 381.0 36.3 380.9 36.1 381.0 35.8 381.4 35.3 381.5 31.8 381.6 30.2 381.4 29.6 379.7 28.8 378.6 28.7 377.4 28.6 360.2 28.8 355.4 29.8 355.0 31.6 354.6 33.3 353.7 35.3 353.6 37.8 352.4 40.1 352.3 41.8 352.1 45.1 352.9 48.3 352.7 49.8 352.3 50.3 352.3 51.3 352.7 52.8 353.9 53.3 354.1 53.8 354.0 55.6 353.2 57.6 353.1 58.6 353.4 59.8 354.2 61.6 356.0 62.2 356.9 62.5 357.7 62.6 358.7 62.2 360.7 62.2 361.7 62.6 362.9 62.7 364.4 63.7 366.9 64.5 369.7 64.6 370.4 63.9 374.4 62.6 376.9 62.3 378.7 62.0 379.4 60.6 381.4Z" fill="rgba(0,0,0,0.008)" stroke="#9a9a9a" stroke-width="0.55"/>
<path d="M47.8 357.7 48.1 357.4 48.2 357.2 47.8 356.7 46.8 356.4 46.6 356.4 46.4 356.7 46.5 357.2 46.8 357.5 47.3 357.7 47.8 357.7Z" fill="rgba(0,0,0,0.008)" stroke="#9a9a9a" stroke-width="0.55"/>
<path d="M61.2 364.7 61.7 364.2 61.7 363.7 61.4 362.7 60.8 362.4 60.3 362.7 59.8 363.2 59.6 364.2 59.8 364.7 60.1 364.8 60.6 364.9 61.2 364.7Z" fill="rgba(0,0,0,0.008)" stroke="#9a9a9a" stroke-width="0.55"/>
<path d="M40.6 381.4 39.8 381.4 39.1 381.1 36.1 379.5 35.6 379.4 34.9 379.7 34.2 380.7 33.8 381.0 32.6 381.3 31.8 381.3 31.1 380.6 29.1 376.9 29.0 376.2 29.4 374.2 29.2 373.7 28.8 373.4 28.7 368.9 28.7 359.9 28.8 357.8 29.8 357.8 31.8 358.5 32.8 358.5 33.6 358.3 34.5 357.7 35.8 355.7 37.1 354.6 38.1 354.2 39.8 354.1 41.8 353.7 43.3 353.8 45.3 354.4 47.1 354.3 50.1 354.8 50.3 354.9 50.4 355.2 49.7 356.4 49.7 356.7 51.1 357.0 52.3 357.1 53.6 356.0 54.1 355.9 54.6 356.0 55.1 356.4 56.1 357.9 56.6 358.2 57.3 358.1 58.2 357.7 59.2 356.4 59.6 356.4 60.3 356.8 60.8 357.4 61.0 358.4 60.5 361.2 59.5 363.4 59.3 364.2 59.5 364.7 59.8 365.0 60.3 365.2 61.8 365.4 62.3 365.8 62.7 366.4 62.9 367.7 62.5 369.4 63.0 370.9 63.1 372.4 62.8 374.4 61.7 376.7 61.2 378.4 60.8 379.2 60.1 379.9 59.1 380.6 57.3 381.2 56.6 381.3 54.8 380.9 52.3 380.5 50.4 379.4 48.8 378.9 47.8 378.9 45.8 379.6 45.3 379.6 44.1 379.1 43.4 379.4 42.6 380.4 41.8 381.0 41.1 381.3 40.6 381.4Z" fill="rgba(0,0,0,0.008)" stroke="#949494" stroke-width="0.57"/>
<path d="M48.3 357.9 49.0 357.2 49.2 356.7 46.8 355.5 46.1 355.5 45.8 355.6 45.7 356.4 46.2 357.4 47.3 358.1 47.8 358.1 48.3 357.9Z" fill="rgba(0,0,0,0.008)" stroke="#949494" stroke-width="0.57"/>
<path d="M57.3 380.2 56.1 380.3 54.3 379.7 53.7 379.2 52.8 377.8 52.3 377.3 51.9 378.4 51.3 378.8 50.3 378.7 47.8 378.0 47.1 377.9 45.8 378.2 43.8 378.3 43.1 378.7 41.3 380.0 39.6 380.2 38.1 379.9 36.1 378.8 35.3 378.5 34.8 378.6 33.3 380.1 32.6 380.3 31.8 380.1 31.1 379.2 29.9 376.7 29.7 375.9 29.8 375.2 30.1 374.3 31.1 373.2 31.3 372.7 31.1 372.4 30.6 372.2 29.3 372.4 28.8 372.3 28.7 367.4 28.8 365.9 29.0 365.2 28.8 363.8 28.8 358.7 29.6 358.7 31.3 359.3 33.1 359.3 34.2 359.4 34.6 359.7 34.6 360.5 34.8 360.5 35.0 360.2 34.9 359.4 35.4 357.9 36.0 356.7 36.6 356.0 37.6 355.5 39.3 355.6 41.3 354.7 42.6 354.5 43.3 354.6 44.1 355.0 44.7 355.7 45.9 357.4 46.5 357.9 47.3 358.3 47.8 358.4 48.3 358.3 49.3 357.6 49.8 357.4 50.6 357.4 52.6 357.7 53.1 357.6 53.8 357.1 54.3 357.0 54.8 357.3 55.7 358.4 56.3 358.8 58.3 358.6 59.1 358.9 59.6 359.7 59.9 360.9 59.8 361.9 59.2 363.7 59.3 364.7 59.8 365.3 61.6 365.9 62.1 366.4 62.3 366.9 62.3 367.7 61.7 369.2 61.6 369.9 62.3 371.9 62.4 373.4 62.1 374.7 60.6 378.2 60.1 378.7 58.7 379.2 57.3 380.2Z" fill="rgba(0,0,0,0.008)" stroke="#8e8e8e" stroke-width="0.58"/>
<path d="M57.1 379.2 56.1 379.4 55.3 379.2 54.8 378.8 53.7 377.4 53.1 375.9 52.8 375.7 52.3 375.5 51.8 375.7 51.3 376.1 50.8 377.6 50.3 377.9 49.6 377.9 47.6 377.0 46.8 376.9 43.8 377.7 41.1 379.0 39.6 379.3 38.8 379.3 38.1 379.1 36.8 378.4 36.1 377.9 35.3 376.8 34.6 376.5 33.9 376.7 33.6 376.9 33.5 377.2 33.7 378.2 33.3 378.9 32.6 379.2 32.1 379.0 31.7 378.4 31.3 377.2 30.6 376.0 30.4 375.4 30.8 374.4 31.9 373.2 31.9 372.4 31.3 371.8 29.8 371.2 28.8 369.6 28.8 366.8 29.3 366.4 29.6 365.9 29.6 363.7 30.6 362.2 30.6 360.9 31.2 360.4 31.6 360.2 32.6 360.1 33.2 360.4 33.8 361.6 34.1 361.7 34.6 361.7 35.3 361.2 36.2 360.2 36.3 359.7 36.1 358.2 36.4 357.4 36.8 356.8 37.3 356.5 37.8 356.4 39.8 356.7 41.2 355.7 42.6 355.3 43.6 355.5 46.1 357.9 47.8 358.8 48.3 358.8 49.6 357.9 50.6 357.7 52.8 358.3 54.3 358.3 56.1 359.4 56.6 359.5 57.8 359.2 58.6 359.4 59.2 360.2 59.5 361.2 59.5 361.9 59.0 363.7 59.1 364.7 59.6 365.4 61.2 366.2 61.7 366.9 61.7 367.7 61.1 369.4 61.0 370.4 61.0 370.9 61.7 372.2 61.9 373.4 61.5 375.2 60.2 377.7 59.6 378.1 58.1 378.5 57.1 379.2Z" fill="rgba(0,0,0,0.008)" stroke="#888888" stroke-width="0.59"/>
<path d="M29.6 361.0 28.8 360.8 28.8 360.0 29.3 359.9 29.7 360.2 29.9 360.7 29.6 361.0Z" fill="rgba(0,0,0,0.008)" stroke="#888888" stroke-width="0.59"/>
<path d="M56.6 378.7 55.6 378.6 54.8 378.0 54.1 377.2 53.3 375.3 52.8 374.9 52.1 375.0 51.1 375.6 50.7 375.9 50.2 376.9 49.8 377.1 49.1 377.1 47.6 376.4 46.8 376.4 44.3 377.0 41.6 378.1 39.1 378.6 38.3 378.5 37.2 377.9 36.7 377.4 36.3 376.7 35.6 376.2 34.6 376.0 32.6 376.1 31.8 375.9 31.4 375.4 31.3 374.9 32.2 373.4 32.3 372.9 32.2 372.4 31.7 371.7 30.4 370.9 29.9 370.4 29.0 368.2 29.2 367.7 30.3 366.9 30.8 366.4 30.9 365.9 30.4 364.9 30.4 364.2 31.8 361.7 32.3 361.2 33.6 362.1 34.1 362.2 34.9 361.9 36.5 360.7 36.9 360.2 36.8 358.2 36.9 357.7 37.3 357.3 37.8 357.1 38.6 357.2 39.3 357.7 39.8 358.3 40.1 358.5 40.3 358.4 40.6 358.2 41.3 356.5 41.8 356.1 42.6 355.9 43.6 356.2 45.7 357.9 48.1 359.4 48.6 359.2 49.6 358.2 50.6 358.0 51.6 358.3 53.3 359.2 54.6 359.5 55.8 360.3 56.3 360.3 57.6 359.8 58.3 359.9 58.8 360.4 59.2 361.4 59.1 362.2 58.8 363.7 59.0 364.9 59.6 365.7 60.9 366.4 61.3 367.2 61.2 367.9 60.3 370.9 60.4 371.4 61.3 372.4 61.4 373.2 61.4 373.9 60.9 375.7 60.3 376.8 59.8 377.4 59.3 377.7 57.8 378.1 56.6 378.7Z" fill="rgba(0,0,0,0.008)" stroke="#828282" stroke-width="0.61"/>
<path d="M46.3 363.4 47.1 362.8 47.1 362.4 46.8 362.3 46.3 362.4 45.8 362.9 45.8 363.4 46.3 363.4Z" fill="rgba(0,0,0,0.008)" stroke="#828282" stroke-width="0.61"/>
<path d="M55.6 363.4 55.9 362.9 55.8 362.4 55.3 362.7 55.0 363.2 55.1 363.5 55.6 363.4Z" fill="rgba(0,0,0,0.008)" stroke="#828282" stroke-width="0.61"/>
<path d="M46.3 372.2 46.5 371.9 46.5 371.7 46.2 371.2 45.6 370.8 45.2 370.9 45.1 371.4 45.3 372.0 45.8 372.3 46.3 372.2Z" fill="rgba(0,0,0,0.008)" stroke="#828282" stroke-width="0.61"/>
<path d="M48.5 373.2 49.2 372.4 49.2 372.2 49.1 371.9 48.3 372.0 47.6 372.4 47.6 372.9 47.8 373.2 48.1 373.3 48.5 373.2Z" fill="rgba(0,0,0,0.008)" stroke="#828282" stroke-width="0.61"/>
<path d="M56.8 378.0 55.8 378.0 54.8 377.2 54.3 376.4 53.6 374.4 53.1 373.8 52.6 374.0 49.3 376.2 48.8 376.2 47.1 375.7 44.1 376.4 42.1 377.1 39.3 377.6 38.6 377.6 38.1 377.4 36.9 376.2 36.1 375.8 32.9 375.2 32.5 374.7 32.8 373.2 32.6 372.3 31.9 371.4 30.4 370.2 30.0 369.2 30.0 368.7 30.2 368.2 31.3 367.1 31.7 366.4 31.8 365.7 31.5 364.2 31.8 363.4 32.1 362.9 32.6 362.6 34.6 362.5 37.1 361.0 38.1 360.7 39.1 360.8 39.6 360.6 41.2 358.9 42.0 357.2 42.3 356.9 42.8 356.8 43.8 357.1 46.4 358.7 47.2 359.4 47.5 359.9 47.5 360.4 47.1 360.9 45.8 361.8 45.1 362.7 44.8 363.7 44.8 363.9 45.1 364.2 45.9 364.2 48.1 363.4 48.4 362.9 48.5 361.7 49.2 359.4 49.6 358.8 50.1 358.5 50.8 358.4 51.4 358.7 52.3 359.4 52.7 360.2 52.9 361.2 51.8 362.3 51.7 362.7 51.8 362.9 52.3 363.2 53.3 363.3 54.8 364.3 55.6 364.1 56.4 363.4 56.7 362.7 56.9 361.4 57.1 360.9 57.6 360.5 58.1 360.5 58.6 361.0 58.8 361.7 58.5 363.7 58.8 364.9 59.2 365.7 60.5 366.7 60.8 367.2 60.8 367.9 59.7 370.9 59.7 371.4 59.8 371.8 60.8 372.9 60.9 374.2 60.5 375.7 59.6 377.0 59.1 377.3 56.8 378.0Z" fill="rgba(0,0,0,0.008)" stroke="#7d7d7d" stroke-width="0.62"/>
<path d="M38.6 359.2 38.3 359.4 37.9 359.2 37.7 358.7 37.8 358.3 38.1 358.2 38.5 358.4 38.7 358.9 38.6 359.2Z" fill="rgba(0,0,0,0.008)" stroke="#7d7d7d" stroke-width="0.62"/>
<path d="M54.1 362.2 53.8 362.3 53.6 362.2 53.4 361.7 53.6 361.4 54.1 361.4 54.3 361.7 54.1 362.2Z" fill="rgba(0,0,0,0.008)" stroke="#7d7d7d" stroke-width="0.62"/>
<path d="M39.6 366.4 40.6 365.2 40.6 364.9 40.5 364.7 39.8 364.7 39.1 365.2 39.0 365.7 39.1 366.1 39.3 366.5 39.6 366.4Z" fill="rgba(0,0,0,0.008)" stroke="#7d7d7d" stroke-width="0.62"/>
<path d="M55.9 367.9 55.6 367.6 54.8 367.4 54.1 367.7 54.0 367.9 54.8 368.2 55.6 368.1 55.9 367.9Z" fill="rgba(0,0,0,0.008)" stroke="#7d7d7d" stroke-width="0.62"/>
<path d="M40.0 369.4 40.3 369.2 40.6 368.7 40.3 368.2 39.6 367.7 39.3 368.2 39.2 369.2 39.3 369.5 39.6 369.6 40.0 369.4Z" fill="rgba(0,0,0,0.008)" stroke="#7d7d7d" stroke-width="0.62"/>
<path d="M48.4 373.9 50.3 372.1 51.1 372.2 52.8 372.8 53.1 372.5 53.0 371.9 52.6 371.3 51.8 370.9 51.1 370.9 50.1 371.2 47.6 371.5 45.8 370.4 45.3 370.3 44.8 370.5 44.6 370.9 44.6 371.7 44.7 372.2 45.0 372.7 46.3 373.3 47.3 374.0 47.8 374.1 48.4 373.9Z" fill="rgba(0,0,0,0.008)" stroke="#7d7d7d" stroke-width="0.62"/>
<path d="M56.8 377.5 55.8 377.4 55.0 376.7 54.5 375.4 54.2 373.2 53.9 372.2 53.1 371.1 52.5 370.7 51.8 370.5 51.1 370.5 47.8 371.1 47.3 370.9 45.3 369.9 44.6 370.0 44.3 370.7 44.2 372.9 44.6 373.3 46.1 374.1 46.5 374.7 46.5 374.9 45.8 375.5 43.8 375.8 41.8 376.5 39.6 376.9 38.8 376.9 38.3 376.7 36.8 375.5 33.9 374.7 33.4 374.2 33.2 372.9 32.7 371.9 32.1 371.1 31.0 370.2 30.6 369.4 30.6 368.9 30.8 368.4 31.8 367.2 32.2 366.4 32.3 365.7 32.1 364.2 32.3 363.7 32.8 363.2 34.8 362.7 37.1 361.6 39.3 361.6 40.1 361.4 41.9 359.2 42.6 358.0 43.3 357.7 44.3 357.9 45.8 358.6 46.5 359.2 46.9 359.9 46.6 360.7 45.0 361.9 44.3 362.9 44.0 363.7 44.0 364.2 44.1 364.4 44.6 364.6 45.3 364.6 48.1 364.1 48.6 363.8 49.0 363.2 49.8 359.4 50.3 358.9 50.8 358.9 51.3 359.2 51.7 359.7 51.8 360.2 51.7 360.9 51.0 362.4 51.2 363.2 51.6 363.4 53.3 363.9 54.6 364.7 55.3 364.7 56.3 363.9 57.3 362.9 57.6 361.7 57.8 361.5 58.1 361.6 58.2 362.2 58.2 363.4 58.6 364.9 59.1 365.8 60.2 366.9 60.4 367.4 60.0 369.2 59.3 371.4 59.4 371.9 60.4 373.2 60.5 374.2 60.2 375.4 59.3 376.6 58.6 377.0 56.8 377.5Z" fill="rgba(0,0,0,0.008)" stroke="#777777" stroke-width="0.64"/>
<path d="M39.7 370.4 41.0 369.2 41.3 368.7 41.1 368.2 40.4 367.4 40.2 366.9 40.3 366.4 41.4 364.9 42.0 363.2 42.1 362.9 41.8 362.8 41.4 362.9 40.8 363.7 38.9 364.7 38.5 365.2 38.5 365.7 38.8 367.7 38.7 370.2 39.1 370.6 39.3 370.6 39.7 370.4Z" fill="rgba(0,0,0,0.008)" stroke="#777777" stroke-width="0.64"/>
<path d="M56.4 368.4 56.6 368.2 56.5 367.7 55.8 367.2 55.1 366.9 54.4 366.9 53.7 367.2 53.3 367.5 53.1 367.9 53.3 368.4 53.8 368.6 55.6 368.6 56.4 368.4Z" fill="rgba(0,0,0,0.008)" stroke="#777777" stroke-width="0.64"/>
<path d="M49.3 375.2 48.8 375.2 48.6 374.9 50.0 372.9 50.3 372.7 50.8 372.6 51.6 372.9 51.9 373.4 51.6 374.2 50.8 374.7 49.3 375.2Z" fill="rgba(0,0,0,0.008)" stroke="#777777" stroke-width="0.64"/>
<path d="M44.8 361.2 44.1 361.3 43.6 361.0 43.1 360.4 43.0 359.9 43.0 359.4 43.2 358.9 43.6 358.6 44.1 358.4 44.8 358.5 45.6 358.9 46.2 359.4 46.3 359.9 46.1 360.4 44.8 361.2Z" fill="rgba(0,0,0,0.008)" stroke="#717171" stroke-width="0.66"/>
<path d="M40.1 376.2 39.3 376.2 38.8 376.1 37.3 375.1 35.5 374.4 34.6 373.9 34.1 373.4 32.8 371.4 31.4 369.9 31.2 369.4 31.3 368.7 32.3 367.4 32.7 366.4 32.9 365.7 32.8 364.4 33.0 363.9 33.6 363.6 35.1 363.1 37.1 362.2 38.1 362.2 39.6 362.4 40.0 362.7 40.1 362.9 39.9 363.4 38.3 364.4 37.9 364.9 37.9 365.4 38.3 367.9 38.3 368.7 38.1 369.5 37.6 370.2 36.6 370.0 35.9 370.2 35.6 370.7 35.7 371.4 35.8 371.9 36.1 372.0 37.3 370.8 37.8 370.7 39.9 371.7 40.8 372.7 42.0 373.7 42.7 374.7 42.5 375.2 41.8 375.7 40.1 376.2Z" fill="rgba(0,0,0,0.008)" stroke="#717171" stroke-width="0.66"/>
<path d="M57.6 376.7 56.3 376.9 55.8 376.7 55.3 376.2 55.1 375.7 55.0 374.9 55.3 373.4 55.3 372.9 53.8 371.0 52.6 370.1 51.3 370.0 47.8 370.7 47.1 370.5 45.1 369.5 44.3 369.3 44.0 369.4 43.8 369.7 43.7 371.2 43.3 372.0 42.6 372.2 40.8 371.4 40.5 370.9 40.6 370.4 41.1 369.9 42.3 368.9 42.4 368.7 42.1 367.9 41.0 367.2 40.9 366.9 41.1 366.4 41.6 365.9 42.1 365.7 46.3 364.7 47.3 364.6 48.8 364.9 49.6 363.7 50.1 363.3 51.1 363.7 53.1 364.3 54.8 365.3 55.3 365.2 57.1 363.8 57.6 363.7 58.0 364.2 58.7 365.7 59.8 367.4 59.6 369.2 58.9 370.9 58.8 371.7 59.0 372.2 59.9 373.4 60.0 374.2 59.8 375.1 59.3 375.8 58.6 376.4 57.6 376.7Z" fill="rgba(0,0,0,0.008)" stroke="#717171" stroke-width="0.66"/>
<path d="M49.8 367.2 50.1 366.9 50.1 366.7 49.9 366.2 49.3 365.5 49.1 365.4 48.8 365.4 48.7 366.2 48.8 366.8 49.3 367.2 49.8 367.2Z" fill="rgba(0,0,0,0.008)" stroke="#717171" stroke-width="0.66"/>
<path d="M54.2 369.2 56.8 368.8 57.2 368.4 57.2 367.9 56.8 367.4 55.3 366.4 54.8 366.3 54.3 366.4 52.9 367.2 52.6 367.4 52.4 367.9 52.6 368.5 53.1 369.1 53.6 369.2 54.2 369.2Z" fill="rgba(0,0,0,0.008)" stroke="#717171" stroke-width="0.66"/>
<path d="M50.6 374.0 50.3 373.9 50.3 373.7 50.4 373.4 50.8 373.4 51.0 373.7 50.6 374.0Z" fill="rgba(0,0,0,0.008)" stroke="#717171" stroke-width="0.66"/>
<path d="M45.1 360.2 44.6 360.2 44.3 360.0 44.2 359.7 44.3 359.4 44.8 359.2 45.3 359.5 45.4 359.9 45.1 360.2Z" fill="rgba(0,0,0,0.008)" stroke="#6b6b6b" stroke-width="0.67"/>
<path d="M34.6 372.3 34.1 372.2 33.6 371.8 32.0 369.9 31.8 369.2 32.0 368.7 32.8 367.6 33.5 366.2 33.8 364.4 34.6 364.0 35.6 363.9 36.2 364.2 37.3 365.9 37.7 366.9 37.8 368.2 37.7 368.7 37.4 369.2 35.8 369.5 35.2 369.9 35.0 370.4 34.8 371.9 34.6 372.3Z" fill="rgba(0,0,0,0.008)" stroke="#6b6b6b" stroke-width="0.67"/>
<path d="M51.8 367.0 51.3 366.9 50.4 365.7 50.2 364.9 50.5 364.4 51.3 364.3 52.6 364.5 53.4 364.9 53.8 365.4 53.8 365.9 53.6 366.2 52.8 366.6 51.8 367.0Z" fill="rgba(0,0,0,0.008)" stroke="#6b6b6b" stroke-width="0.67"/>
<path d="M57.1 376.0 56.6 376.1 56.1 375.9 55.9 375.7 55.8 375.2 56.1 374.8 56.3 374.6 57.6 374.6 57.7 374.2 57.4 372.9 56.8 372.3 55.1 371.3 54.5 370.7 54.4 370.2 54.5 369.9 55.1 369.6 57.1 369.3 57.8 368.7 57.9 368.2 57.8 367.7 56.1 366.4 55.8 365.9 55.9 365.4 56.3 364.9 56.8 364.5 57.3 364.3 57.6 364.4 58.0 364.9 59.2 367.7 59.1 369.3 58.4 370.9 58.2 371.9 58.4 372.7 59.1 373.7 59.2 374.2 58.8 374.8 58.1 375.2 57.6 375.7 57.1 376.0Z" fill="rgba(0,0,0,0.008)" stroke="#6b6b6b" stroke-width="0.67"/>
<path d="M48.3 370.2 47.1 370.1 43.6 368.4 43.1 367.9 42.9 367.4 43.0 366.7 43.8 365.9 45.1 365.3 46.6 365.0 47.6 365.2 47.9 365.7 48.3 366.8 48.8 367.5 49.6 367.9 51.1 367.9 51.3 368.2 51.5 368.7 51.4 368.9 51.2 369.2 48.3 370.2Z" fill="rgba(0,0,0,0.008)" stroke="#6b6b6b" stroke-width="0.67"/>
<path d="M42.6 370.8 42.1 370.7 42.1 370.4 42.6 370.4 42.7 370.7 42.6 370.8Z" fill="rgba(0,0,0,0.008)" stroke="#6b6b6b" stroke-width="0.67"/>
<path d="M40.3 375.5 39.6 375.5 39.1 375.4 37.0 373.9 36.8 373.7 36.8 373.2 37.0 372.4 37.3 371.9 38.1 371.6 39.0 371.9 39.6 372.3 41.1 373.9 41.3 374.4 41.2 374.9 40.3 375.5Z" fill="rgba(0,0,0,0.008)" stroke="#6b6b6b" stroke-width="0.67"/>
<path d="M52.6 366.2 52.1 366.3 51.6 366.1 51.2 365.7 51.1 365.2 51.3 364.9 51.8 364.8 52.3 364.9 52.8 365.1 53.1 365.4 53.1 365.7 52.6 366.2Z" fill="rgba(0,0,0,0.008)" stroke="#656565" stroke-width="0.68"/>
<path d="M57.8 366.7 57.3 366.7 56.8 366.4 56.4 365.9 56.4 365.4 56.8 365.0 57.3 364.9 57.7 365.2 58.0 366.2 57.8 366.7Z" fill="rgba(0,0,0,0.008)" stroke="#656565" stroke-width="0.68"/>
<path d="M48.6 369.7 47.8 369.9 47.1 369.8 44.3 368.3 43.6 367.7 43.5 367.2 43.7 366.7 44.3 366.0 45.1 365.6 46.3 365.4 47.1 365.5 47.6 365.9 48.2 367.2 49.3 368.7 49.3 369.2 48.6 369.7Z" fill="rgba(0,0,0,0.008)" stroke="#656565" stroke-width="0.68"/>
<path d="M34.1 370.9 33.6 370.8 32.9 370.2 32.6 369.7 32.6 369.1 33.3 368.2 33.8 367.1 34.3 366.5 35.1 366.2 36.1 366.2 36.6 366.4 37.0 366.7 37.2 367.2 37.2 368.2 36.8 368.6 35.6 368.9 34.8 369.3 34.1 370.9Z" fill="rgba(0,0,0,0.008)" stroke="#656565" stroke-width="0.68"/>
<path d="M57.3 370.8 56.7 370.7 56.8 370.4 57.3 370.4 57.4 370.4 57.3 370.8Z" fill="rgba(0,0,0,0.008)" stroke="#656565" stroke-width="0.68"/>
<path d="M40.1 374.4 39.8 374.6 39.3 374.6 38.1 373.7 37.7 373.2 37.8 372.5 38.3 372.3 39.1 372.6 40.0 373.9 40.1 374.4Z" fill="rgba(0,0,0,0.008)" stroke="#656565" stroke-width="0.68"/>
<path d="M48.1 369.5 47.6 369.6 46.8 369.4 44.6 368.1 44.0 367.4 44.2 366.7 44.7 366.2 45.6 365.8 46.5 365.7 47.1 365.9 48.6 368.7 48.5 369.2 48.1 369.5Z" fill="rgba(0,0,0,0.008)" stroke="#606060" stroke-width="0.7"/>
</g>
<clipPath id="e0b"><rect x="31.2" y="327.3" width="47.0" height="51.69999999999999"/></clipPath>
<g clip-path="url(#e0b)">
<path d="M37.6 350.2 35.6 349.7 34.3 349.7 31.6 349.4 29.7 348.4 28.8 348.2 28.7 345.7 28.9 344.4 28.6 342.4 28.8 338.0 30.3 337.2 32.8 337.5 33.9 336.9 35.3 336.8 36.8 336.3 37.8 336.1 39.3 336.1 40.6 336.7 42.3 336.4 45.6 336.7 47.6 336.5 48.8 336.9 50.2 337.9 51.3 337.9 51.8 338.1 52.2 338.4 52.5 339.2 52.8 339.5 53.3 339.6 54.6 339.5 55.1 339.6 55.4 339.9 56.1 341.0 56.7 341.4 56.1 341.8 55.8 342.1 55.6 342.9 55.9 343.4 56.8 343.9 57.0 344.4 56.8 345.0 56.2 345.7 54.6 346.4 54.3 346.7 54.1 347.7 53.1 348.2 52.1 349.0 49.8 349.3 47.1 349.3 44.8 350.0 39.3 349.8 37.6 350.2Z" fill="none" stroke="#b0b0b0" stroke-width="0.5"/>
<path d="M39.5 340.7 39.5 340.4 39.1 340.3 39.1 340.7 39.3 340.8 39.5 340.7Z" fill="none" stroke="#b0b0b0" stroke-width="0.5"/>
<path d="M44.8 349.5 43.1 349.6 41.6 349.3 39.6 349.2 37.8 349.6 37.1 349.6 34.1 349.1 32.8 348.6 32.1 348.8 31.6 348.8 30.8 348.5 29.3 347.6 29.0 347.2 28.8 346.8 28.8 345.3 29.1 345.1 29.2 344.7 28.7 342.9 28.8 339.1 30.8 338.0 31.6 337.9 33.1 338.2 34.8 337.3 36.8 337.0 38.1 336.6 39.1 336.7 40.3 337.2 41.8 337.1 42.3 337.1 43.6 338.0 44.2 338.2 46.3 337.3 47.3 337.2 47.8 337.3 48.6 337.6 49.8 338.9 51.3 339.0 52.6 340.1 54.0 340.7 54.3 340.9 54.6 341.7 54.5 342.4 54.3 342.9 53.3 343.5 53.1 343.8 53.1 344.4 53.3 345.2 53.2 345.7 52.6 347.1 52.1 347.7 51.3 348.2 49.8 348.6 46.6 348.6 44.8 349.5Z" fill="none" stroke="#a1a1a1" stroke-width="0.53"/>
<path d="M39.6 340.9 39.7 340.4 39.6 340.2 39.1 339.9 38.8 340.0 38.8 340.4 39.0 340.9 39.3 341.0 39.6 340.9Z" fill="none" stroke="#a1a1a1" stroke-width="0.53"/>
<path d="M43.6 349.2 42.8 349.2 41.6 348.9 39.6 348.9 37.8 349.2 37.1 349.2 34.3 348.8 32.8 347.9 32.3 347.9 31.6 348.2 30.8 347.9 29.8 346.9 29.8 346.4 30.3 346.2 30.4 345.9 29.8 345.1 28.8 343.2 28.8 341.6 29.5 340.7 29.5 339.7 29.8 339.4 31.3 338.6 33.1 338.6 35.1 337.7 35.8 337.5 37.1 337.6 38.1 337.2 38.6 337.1 39.1 337.2 40.1 337.7 41.8 337.6 42.8 338.4 44.1 338.6 44.8 338.6 46.6 337.9 47.6 337.9 48.6 338.4 49.8 339.9 50.1 340.0 50.6 339.8 51.1 339.8 52.2 340.7 52.5 341.4 51.9 343.4 52.2 345.2 52.1 345.7 51.8 346.2 51.1 346.7 50.5 347.7 50.1 348.0 49.3 348.2 47.6 348.1 46.6 347.9 45.1 348.9 43.6 349.2Z" fill="none" stroke="#939393" stroke-width="0.55"/>
<path d="M39.5 341.2 40.0 340.7 39.9 340.2 39.3 339.8 38.6 339.5 38.4 339.7 38.4 339.9 38.8 340.9 39.1 341.2 39.5 341.2Z" fill="none" stroke="#939393" stroke-width="0.55"/>
<path d="M50.5 342.9 50.8 342.7 50.9 342.4 50.6 340.9 50.1 340.4 49.8 340.5 49.7 340.9 49.8 341.9 49.7 342.7 49.9 342.9 50.5 342.9Z" fill="none" stroke="#939393" stroke-width="0.55"/>
<path d="M37.8 348.9 34.6 348.6 32.8 347.6 31.4 347.2 31.1 345.8 30.0 344.7 29.0 342.9 28.9 342.4 29.1 341.9 29.3 341.6 30.3 341.1 31.0 340.2 31.8 339.5 33.1 339.1 34.8 338.1 35.6 337.9 36.6 338.0 37.5 338.4 37.8 338.7 37.7 339.2 37.9 339.7 38.8 341.3 39.1 341.5 39.6 341.4 40.0 340.9 40.2 340.4 40.2 340.2 39.3 339.3 37.7 338.4 38.0 337.9 38.3 337.7 38.8 337.7 40.1 338.4 41.3 338.2 41.6 338.3 42.3 339.0 43.3 338.9 44.6 339.0 47.1 338.4 47.8 338.6 48.6 339.2 49.0 339.9 49.4 341.7 49.2 342.9 49.5 343.2 50.7 343.4 51.1 343.6 51.5 344.7 51.6 345.2 51.4 345.7 50.7 346.4 50.0 347.4 49.6 347.7 48.8 347.8 47.8 347.8 46.6 347.5 45.1 348.5 43.8 348.8 43.1 348.8 41.6 348.5 39.6 348.6 37.8 348.9Z" fill="none" stroke="#858585" stroke-width="0.57"/>
<path d="M43.6 348.5 42.8 348.4 41.6 348.1 39.6 348.2 38.3 348.6 37.6 348.7 36.1 348.5 34.3 348.1 31.9 346.7 31.3 345.4 30.3 344.5 29.8 343.9 29.4 342.9 29.4 342.4 29.6 342.1 30.6 341.5 31.3 340.6 31.8 340.2 33.1 339.7 34.8 338.6 35.6 338.4 36.3 338.5 36.8 338.9 38.1 340.4 38.7 341.7 39.1 341.9 39.6 341.6 40.3 340.9 40.6 340.2 40.5 339.4 40.8 339.2 41.3 339.3 42.3 339.7 43.6 339.2 44.6 339.3 46.1 339.0 47.3 339.3 48.1 339.9 49.0 341.9 48.6 343.0 48.3 343.2 47.6 343.4 47.4 343.7 47.4 344.2 47.8 344.3 48.6 343.6 48.8 343.5 50.1 343.7 50.8 344.2 50.9 344.7 50.9 345.2 49.3 347.2 48.1 347.4 46.6 347.1 44.8 348.2 43.6 348.5Z" fill="none" stroke="#777777" stroke-width="0.6"/>
</g>
<path d="M35 340.6 C38 340 41 341.2 44.6 340.4 L44.6 344.6 C41 345.6 38 344.6 35 345.4 Z" fill="#a4a4a4" stroke="#1a1a1a" stroke-width="1.1"/>
<path d="M36.5 342.8 L43.5 342.6" stroke="#d4d4d4" stroke-width="0.9"/>
<path d="M35.6 338.9 C32.6 338.9 31.5 341 31.6 343 C31.7 345.4 33 347.5 36 347.3" fill="none" stroke="#111" stroke-width="1.6"/>
<circle cx="47.3" cy="342.2" r="2.9" fill="#dadada" stroke="#111" stroke-width="1.4"/>
<circle cx="43.0" cy="364.2" r="3.0" fill="#cfcfcf" stroke="#1a1a1a" stroke-width="1.6"/>
<path d="M52.8 362.2 C54 359.6 57 359 59 360.6 C61 362.2 61.2 365.6 60.8 368.2 C60.4 371.2 60.6 374.4 62.4 378.2" fill="none" stroke="#111" stroke-width="1.6"/>
<path d="M52.8 362.2 C51.6 366 53 370 52.6 374" fill="none" stroke="#444" stroke-width="1.0"/>
<path d="M31.5 376.8 L45 377.4 M50.5 377.6 L62.5 377.8" stroke="#1a1a1a" stroke-width="1.5"/>
<clipPath id="e1a"><rect x="92.4" y="327.4" width="46.79999999999998" height="51.60000000000002"/></clipPath>
<g clip-path="url(#e1a)">
<path d="M110.5 381.3 107.8 381.3 107.3 380.6 106.6 381.3 105.5 381.4 94.5 381.4 93.4 381.3 92.9 380.8 92.0 380.4 90.0 380.2 89.8 377.8 89.8 365.3 90.0 363.6 90.4 363.5 90.5 363.3 90.0 362.4 90.0 361.0 90.0 360.4 90.9 359.5 91.2 358.8 90.9 358.0 90.0 357.4 90.0 356.2 91.5 355.6 93.8 353.9 94.8 353.6 95.8 353.6 96.3 353.8 96.5 354.3 96.0 355.8 96.0 356.5 96.5 357.2 97.3 357.4 97.5 357.3 97.7 357.0 97.9 354.8 98.3 353.9 98.8 353.7 101.5 353.5 102.2 353.3 103.5 352.3 104.5 352.0 105.5 352.3 106.8 353.2 107.3 353.3 108.3 353.0 109.8 352.1 110.5 352.1 112.0 353.2 114.7 355.8 115.0 356.5 115.2 358.5 116.1 359.8 117.1 362.5 117.5 364.8 117.4 365.5 117.1 366.8 117.4 368.0 117.4 369.0 117.1 369.8 115.5 370.5 114.9 371.3 113.2 374.8 113.2 375.5 113.6 377.0 113.5 377.8 112.5 379.5 110.8 381.3 110.5 381.3Z" fill="none" stroke="#8e8e8e" stroke-width="0.55"/>
<path d="M107.4 380.3 107.6 379.5 107.3 378.6 106.8 378.0 106.3 378.0 106.1 378.5 106.5 379.7 107.0 380.5 107.3 380.5 107.4 380.3Z" fill="none" stroke="#8e8e8e" stroke-width="0.55"/>
<path d="M100.8 381.3 94.5 381.3 93.8 380.5 92.9 380.0 91.5 379.5 90.0 379.3 89.9 375.0 89.9 365.0 90.0 364.5 91.1 364.5 91.5 364.3 91.7 364.0 91.6 363.5 90.9 362.0 90.8 361.3 92.2 359.3 92.4 357.5 92.6 356.8 93.0 356.1 93.8 355.6 94.5 355.6 95.4 357.0 96.0 357.5 96.8 357.9 97.5 358.0 98.0 357.8 98.2 357.5 98.4 356.0 98.6 355.3 99.1 354.8 99.8 354.4 103.0 354.2 104.8 353.7 106.8 354.2 109.5 353.7 110.8 353.8 111.5 354.2 112.4 355.0 113.5 356.5 113.8 357.5 113.3 359.3 113.1 360.3 112.9 360.8 112.3 361.1 111.8 361.2 110.5 360.8 110.3 360.9 110.2 361.3 111.8 362.8 112.3 363.0 114.0 363.2 114.7 363.5 115.3 364.2 115.5 365.0 115.4 365.8 114.8 367.3 114.6 368.8 113.5 372.0 112.5 374.2 112.4 376.8 112.2 377.5 111.6 378.5 111.0 379.2 110.3 379.7 109.8 379.8 109.0 379.4 107.2 377.5 106.5 377.2 106.0 377.2 105.8 377.3 105.5 377.8 105.3 379.3 105.0 379.9 104.3 380.5 103.8 380.4 103.0 379.3 102.5 378.8 101.5 378.4 100.5 378.4 100.1 378.8 100.0 379.5 100.3 380.4 100.9 381.3 100.8 381.3Z" fill="none" stroke="#878787" stroke-width="0.56"/>
<path d="M106.6 363.5 106.9 363.0 107.0 362.3 106.8 362.0 106.3 361.9 105.8 362.3 105.4 363.0 105.5 363.3 105.8 363.5 106.3 363.6 106.6 363.5Z" fill="none" stroke="#878787" stroke-width="0.56"/>
<path d="M102.8 364.8 103.5 364.3 103.7 364.0 103.5 363.7 102.8 363.5 102.3 363.9 102.1 364.3 102.3 364.8 102.8 364.8Z" fill="none" stroke="#878787" stroke-width="0.56"/>
<path d="M98.8 380.3 98.3 380.3 97.7 380.0 97.3 379.5 97.1 378.8 96.5 378.4 95.8 378.5 94.8 379.5 94.0 379.6 92.8 379.3 90.0 377.9 89.9 374.5 90.0 365.5 90.0 365.2 91.0 365.3 91.5 365.1 92.0 364.8 92.3 364.3 92.4 363.8 91.6 362.0 91.7 361.3 92.9 359.5 93.5 357.8 93.8 357.4 94.3 357.3 96.8 358.4 97.5 358.5 98.0 358.4 98.5 358.1 98.7 357.8 98.8 356.3 99.0 355.8 99.4 355.3 100.0 354.9 100.8 354.8 101.5 354.8 105.5 355.7 106.0 355.6 107.5 354.8 108.5 354.5 109.8 354.4 110.8 354.7 111.5 355.3 112.1 356.0 112.6 357.0 112.7 357.8 112.0 359.8 111.5 360.1 110.5 359.9 110.0 360.0 109.5 360.6 109.5 361.3 109.9 361.8 111.5 363.2 113.5 364.1 114.0 364.5 114.2 365.3 114.2 365.8 113.6 367.3 112.9 369.8 112.3 370.6 111.5 371.3 112.0 372.3 112.0 372.8 111.7 375.8 111.4 376.8 110.5 378.0 109.8 378.3 109.0 378.2 107.0 376.9 106.3 376.7 105.8 376.7 105.2 377.0 104.5 378.3 104.0 378.7 100.6 377.5 99.5 376.9 99.3 376.9 99.0 377.2 98.8 377.8 99.0 379.5 98.8 380.3Z" fill="none" stroke="#808080" stroke-width="0.58"/>
<path d="M106.6 357.5 106.5 357.2 106.3 357.1 106.2 357.3 106.2 357.5 106.6 357.5Z" fill="none" stroke="#808080" stroke-width="0.58"/>
<path d="M103.3 360.0 103.6 359.8 103.6 359.5 103.4 359.3 102.8 359.1 102.4 359.3 102.3 359.8 102.5 360.0 102.8 360.1 103.3 360.0Z" fill="none" stroke="#808080" stroke-width="0.58"/>
<path d="M102.9 365.3 104.8 364.0 106.3 364.1 106.8 364.0 107.0 363.8 107.3 363.0 107.4 362.3 107.3 361.7 106.8 361.3 106.0 361.4 105.4 361.8 104.5 362.9 104.0 363.0 102.5 363.0 101.9 363.3 101.5 364.0 101.3 365.0 101.8 365.5 102.3 365.5 102.9 365.3Z" fill="none" stroke="#808080" stroke-width="0.58"/>
<path d="M94.0 378.9 93.3 378.9 92.5 378.5 90.0 376.3 90.0 372.0 90.2 370.5 90.0 369.9 90.0 368.0 90.0 366.0 91.0 366.0 91.5 365.8 92.5 365.0 93.0 364.3 93.0 363.8 92.3 362.5 92.2 361.8 92.3 361.3 93.3 360.0 94.0 358.7 94.3 358.4 94.8 358.3 97.3 358.9 98.3 358.8 99.0 358.3 99.3 357.8 99.3 356.5 99.6 355.8 100.3 355.3 101.3 355.3 103.9 356.5 104.4 357.0 104.6 357.8 104.5 358.1 104.3 358.2 103.3 358.0 102.3 357.7 101.8 357.7 101.5 357.9 101.4 358.3 101.4 360.5 101.5 361.0 102.0 361.2 104.3 360.9 104.5 360.7 104.8 358.6 105.0 358.5 106.5 358.6 107.2 358.3 107.6 357.8 107.6 357.3 107.3 356.0 107.5 355.5 108.3 355.1 109.0 355.0 110.0 355.1 110.8 355.5 111.3 356.0 111.7 356.8 111.8 357.5 111.7 358.0 111.2 358.8 110.0 359.3 109.5 359.8 109.0 360.8 109.0 361.3 109.4 361.8 111.3 363.4 113.1 364.5 113.4 365.0 113.4 365.5 112.8 367.3 112.5 369.0 112.2 369.5 111.8 370.0 111.0 370.2 110.3 370.2 110.0 370.0 109.6 368.8 109.3 368.2 108.8 368.1 108.5 368.5 108.5 369.0 108.8 369.6 109.9 370.3 110.3 371.3 111.2 372.5 111.4 373.0 111.4 373.8 111.3 374.8 110.7 376.3 109.8 377.1 109.0 377.3 106.8 376.4 105.3 376.3 104.8 376.5 104.0 377.5 103.5 377.7 101.5 377.2 100.8 376.8 100.0 375.9 99.3 375.8 98.8 376.0 97.8 377.3 97.3 377.6 95.5 377.8 94.0 378.9Z" fill="none" stroke="#797979" stroke-width="0.59"/>
<path d="M102.6 365.8 104.8 364.4 105.3 364.4 106.5 364.5 107.1 364.3 107.4 363.8 107.8 362.3 107.8 361.8 107.6 361.3 106.8 360.9 105.2 361.0 104.8 361.2 104.3 362.0 104.0 362.3 103.5 362.4 102.0 362.4 101.5 362.6 100.7 364.0 100.6 364.8 100.7 365.3 101.0 365.8 101.3 366.0 101.8 366.0 102.6 365.8Z" fill="none" stroke="#797979" stroke-width="0.59"/>
<path d="M108.3 360.7 107.8 360.7 106.0 360.2 105.6 360.0 105.6 359.8 105.8 359.5 107.3 358.8 108.4 357.8 108.5 357.3 108.1 356.3 108.3 355.8 108.8 355.6 109.5 355.6 110.0 355.8 110.6 356.3 110.8 356.8 110.8 357.3 110.5 357.8 109.8 358.5 108.8 360.2 108.3 360.7Z" fill="none" stroke="#737373" stroke-width="0.6"/>
<path d="M100.5 357.3 100.3 357.3 100.0 357.1 99.9 356.5 100.1 356.0 100.8 355.9 101.2 356.0 101.5 356.5 101.3 356.8 100.5 357.3Z" fill="none" stroke="#737373" stroke-width="0.6"/>
<path d="M93.8 378.3 93.1 378.3 92.5 377.9 90.7 375.8 90.3 375.0 90.2 372.3 90.9 370.3 90.8 369.7 90.1 368.5 90.0 367.7 90.3 367.2 91.5 366.5 93.6 364.8 94.0 364.3 94.2 363.8 94.1 363.3 93.0 362.6 92.8 362.3 92.8 361.8 93.0 361.3 93.8 360.5 94.8 359.2 95.5 359.1 97.8 359.4 98.5 359.2 100.0 358.1 100.3 358.1 100.5 358.4 100.8 359.0 100.9 359.5 100.4 362.3 100.0 362.8 98.8 363.3 98.4 363.8 98.3 364.3 98.5 364.6 99.5 364.8 99.8 365.0 100.4 366.0 101.0 366.4 101.5 366.5 102.3 366.2 105.0 364.7 106.5 364.9 107.0 364.8 107.5 364.3 108.1 362.5 108.5 361.9 109.0 362.0 109.8 362.4 112.5 364.8 112.7 365.3 112.7 365.8 112.3 367.0 112.0 368.8 111.5 369.4 111.0 369.5 110.5 369.3 109.6 368.0 109.3 367.7 108.8 367.7 108.5 367.8 108.3 368.3 108.3 369.0 108.5 369.8 110.6 372.5 110.9 373.3 111.0 374.0 110.8 374.9 110.4 375.5 109.8 376.2 109.2 376.5 108.5 376.6 104.5 375.5 104.0 375.7 103.3 376.7 102.5 376.8 101.7 376.5 100.5 375.4 100.0 375.2 99.3 375.3 98.5 375.5 97.8 376.6 97.3 377.0 95.4 377.3 93.8 378.3Z" fill="none" stroke="#737373" stroke-width="0.6"/>
<path d="M95.2 362.5 95.5 362.3 95.8 361.8 95.6 361.3 95.3 361.1 95.0 361.1 94.8 361.4 94.6 362.3 94.8 362.7 95.2 362.5Z" fill="none" stroke="#737373" stroke-width="0.6"/>
<path d="M107.8 372.5 107.9 372.3 107.8 372.1 107.5 372.1 107.3 372.3 107.3 372.6 107.5 372.7 107.8 372.5Z" fill="none" stroke="#737373" stroke-width="0.6"/>
<path d="M99.3 361.1 98.5 361.0 98.2 360.8 98.2 360.5 99.3 359.4 99.8 359.2 100.0 359.3 100.2 359.8 100.0 360.3 99.8 360.7 99.3 361.1Z" fill="none" stroke="#6c6c6c" stroke-width="0.61"/>
<path d="M108.0 359.8 107.8 359.8 107.7 359.5 107.9 359.3 108.3 359.1 108.4 359.3 108.4 359.5 108.0 359.8Z" fill="none" stroke="#6c6c6c" stroke-width="0.61"/>
<path d="M93.8 377.6 93.1 377.5 92.6 377.0 91.4 374.5 91.0 373.2 91.0 372.3 91.7 369.8 91.8 367.8 92.2 366.8 92.8 366.1 93.3 365.8 94.8 365.5 95.5 363.8 96.8 362.4 97.3 362.1 97.5 362.2 97.7 362.5 97.6 363.3 97.1 364.8 97.2 365.3 97.8 365.7 99.0 366.2 99.5 366.8 100.0 367.0 101.0 367.0 101.8 366.9 104.8 365.2 105.5 365.1 106.5 365.4 107.3 365.2 107.8 364.5 108.3 363.0 108.8 362.5 109.3 362.6 109.8 362.8 111.7 364.8 112.0 365.5 111.3 368.3 111.0 368.5 110.8 368.5 109.8 367.5 109.3 367.3 108.8 367.2 108.3 367.5 108.0 368.0 108.0 368.8 108.4 370.5 108.4 371.0 107.0 371.8 106.6 372.5 106.8 373.1 107.3 373.3 108.0 373.1 109.0 372.2 109.5 372.3 110.0 372.7 110.4 373.3 110.5 374.0 110.2 374.8 109.5 375.5 108.8 375.9 108.3 375.9 105.9 375.3 104.8 374.4 103.8 374.0 103.5 373.7 102.8 372.3 102.0 371.9 101.8 372.0 101.5 372.5 101.4 374.0 101.3 374.3 100.8 374.5 98.3 374.9 97.8 375.3 97.5 376.0 97.0 376.5 95.0 376.7 93.8 377.6Z" fill="none" stroke="#6c6c6c" stroke-width="0.61"/>
<path d="M108.3 375.3 107.5 375.3 106.5 374.9 105.7 374.0 104.1 373.3 102.5 371.6 101.8 371.3 101.2 371.8 100.6 373.5 100.0 374.0 99.3 374.1 98.3 373.9 97.8 374.0 97.1 374.5 96.5 375.3 96.3 375.5 95.3 375.3 93.8 375.2 92.4 373.8 91.9 373.0 91.7 372.5 91.7 371.8 92.5 369.5 92.4 367.8 92.6 367.0 93.3 366.4 95.0 366.4 96.0 366.1 96.5 366.0 97.7 366.5 99.0 367.7 99.5 367.8 101.0 367.5 101.8 367.3 103.8 366.0 104.8 365.6 105.3 365.6 106.5 366.1 107.3 366.0 107.8 365.6 108.0 365.2 108.6 363.3 109.0 363.0 109.5 363.1 110.3 363.8 111.0 364.8 111.2 365.3 111.1 366.0 110.7 366.8 110.3 367.0 108.8 366.7 108.3 366.8 108.0 367.0 107.8 368.0 107.9 370.5 107.8 370.8 106.5 371.8 106.2 372.3 106.1 373.0 106.3 373.7 106.8 373.9 107.8 373.7 109.0 373.0 109.5 373.0 109.8 373.3 109.9 373.8 109.7 374.5 109.0 375.1 108.3 375.3Z" fill="none" stroke="#656565" stroke-width="0.62"/>
<path d="M110.0 366.0 109.3 366.2 108.7 365.8 108.8 364.3 109.0 363.7 109.5 363.7 110.3 364.5 110.4 365.3 110.0 366.0Z" fill="none" stroke="#5e5e5e" stroke-width="0.64"/>
<path d="M95.8 374.3 94.5 374.4 93.8 374.2 93.0 373.5 92.3 372.5 92.3 371.5 93.0 369.8 92.8 367.8 93.0 367.3 93.3 367.0 93.8 366.8 96.8 366.7 97.5 367.1 98.6 368.0 99.5 368.3 101.5 367.9 103.5 366.4 104.5 366.0 105.0 366.0 106.0 366.7 107.0 366.9 107.3 367.0 107.5 367.9 107.6 370.3 107.3 370.8 106.3 371.7 105.3 373.0 104.8 373.1 104.3 372.8 102.5 371.1 102.0 370.8 101.5 370.7 101.0 371.0 100.3 372.8 100.0 373.2 99.8 373.3 99.3 373.3 98.5 372.7 98.3 372.7 96.8 373.9 95.8 374.3Z" fill="none" stroke="#5e5e5e" stroke-width="0.64"/>
<path d="M105.0 372.3 104.5 372.3 103.8 371.8 102.5 370.5 101.5 369.3 101.6 368.8 102.7 367.5 103.5 366.8 104.3 366.5 104.8 366.6 105.8 367.2 106.8 367.5 107.1 367.8 107.3 368.5 107.3 369.5 107.1 370.3 105.5 372.0 105.0 372.3Z" fill="none" stroke="#585858" stroke-width="0.65"/>
<path d="M95.5 373.8 94.8 373.8 94.0 373.7 93.5 373.3 93.0 372.5 92.9 371.8 93.3 371.1 93.8 370.9 95.0 370.7 95.4 370.5 95.6 370.0 95.4 369.8 94.3 369.7 93.7 369.3 93.3 368.3 93.4 367.8 93.6 367.5 94.3 367.3 96.8 367.5 98.5 368.6 100.4 369.3 100.4 369.5 99.9 370.0 98.5 370.5 98.0 370.9 97.7 371.3 97.4 372.5 96.8 373.3 96.3 373.6 95.5 373.8Z" fill="none" stroke="#585858" stroke-width="0.65"/>
</g>
<clipPath id="e1c"><rect x="92.4" y="327.4" width="46.79999999999998" height="51.60000000000002"/></clipPath>
<g clip-path="url(#e1c)">
<path d="M102.3 349.6 99.0 349.5 95.8 348.4 94.8 347.7 93.5 348.1 93.0 348.1 92.6 347.8 92.2 347.0 91.9 346.8 91.3 346.6 90.0 346.4 89.9 344.8 90.0 339.5 90.8 339.3 91.5 338.8 92.3 337.2 92.8 337.1 94.0 337.2 95.0 336.7 96.3 335.9 97.8 335.7 98.8 335.8 100.0 336.6 101.8 335.9 103.3 335.7 105.8 336.1 108.8 337.2 109.8 336.6 110.8 336.5 111.5 336.9 112.3 337.8 112.5 337.9 114.0 337.7 114.5 337.8 115.0 338.1 115.8 339.0 117.3 339.2 119.0 340.4 119.0 340.8 118.0 341.3 117.8 341.8 118.0 342.2 118.9 343.0 119.1 343.8 119.0 344.3 118.5 344.7 117.4 345.3 115.4 346.8 113.8 347.1 112.3 348.1 109.5 348.2 107.8 348.9 105.8 349.0 105.3 348.7 104.3 347.8 103.8 347.7 103.4 348.0 102.8 349.3 102.3 349.6Z" fill="none" stroke="#b0b0b0" stroke-width="0.5"/>
<path d="M102.0 348.5 100.8 348.2 99.3 348.5 98.3 348.4 97.2 347.8 95.3 346.1 92.8 345.8 91.8 345.3 90.8 345.5 90.0 345.4 90.0 342.0 90.5 340.8 90.9 340.3 91.8 339.6 93.4 339.0 95.0 337.8 95.8 337.6 97.0 337.5 98.0 336.8 98.5 336.8 99.0 337.3 99.0 337.8 98.5 338.8 98.8 339.1 99.9 338.8 100.2 338.5 100.4 337.5 100.8 337.1 101.3 336.8 102.0 336.8 102.5 337.0 102.7 337.5 102.4 338.3 102.8 338.4 103.1 338.3 103.3 337.3 103.5 337.0 104.3 336.7 105.3 336.7 107.0 337.2 108.5 338.3 109.2 338.5 109.5 338.5 109.8 338.3 110.0 337.7 110.3 337.4 110.5 337.3 111.0 337.5 112.0 338.5 113.5 338.9 114.0 339.2 115.3 341.2 116.3 341.9 116.7 342.5 116.8 343.0 116.7 343.3 116.3 343.5 115.8 343.6 114.5 343.1 114.0 342.8 113.5 342.2 113.3 342.3 114.1 344.5 114.1 345.3 113.8 345.7 112.0 346.9 106.0 348.2 105.3 347.9 104.3 347.1 103.8 347.1 103.0 347.3 102.4 348.3 102.0 348.5Z" fill="none" stroke="#9c9c9c" stroke-width="0.55"/>
<path d="M91.8 345.0 92.0 344.5 91.8 344.3 91.5 344.5 91.8 345.0Z" fill="none" stroke="#9c9c9c" stroke-width="0.55"/>
<path d="M99.4 345.0 99.1 345.0 99.3 345.2 99.4 345.0Z" fill="none" stroke="#9c9c9c" stroke-width="0.55"/>
<path d="M106.8 347.3 106.0 347.5 105.5 347.4 104.9 347.0 104.3 346.1 103.3 346.6 102.3 346.4 101.5 347.1 101.3 347.2 99.8 347.2 98.5 347.5 98.0 347.3 95.5 345.5 93.5 344.8 93.2 344.5 92.4 342.8 91.8 342.0 91.7 341.3 91.9 340.5 92.5 340.0 93.8 339.6 94.8 338.7 95.3 338.5 96.0 338.5 97.3 338.9 97.6 339.3 97.8 339.9 98.0 340.0 100.0 339.1 102.0 339.1 103.2 338.8 104.3 337.5 105.0 337.3 106.3 337.5 108.6 338.8 109.8 339.0 111.3 338.9 112.8 339.5 113.2 340.0 113.3 340.5 112.7 341.0 112.5 341.8 113.4 344.3 113.5 344.8 113.4 345.0 113.0 345.3 110.9 345.8 110.0 346.6 109.5 346.8 109.0 346.7 108.5 346.3 108.3 346.3 107.4 347.0 106.8 347.3Z" fill="none" stroke="#888888" stroke-width="0.6"/>
<path d="M94.4 342.8 95.3 342.3 95.4 342.0 94.5 341.6 94.0 341.8 93.6 342.3 93.6 342.5 94.0 342.8 94.4 342.8Z" fill="none" stroke="#888888" stroke-width="0.6"/>
<path d="M99.3 346.0 99.8 345.6 99.9 345.0 99.5 344.6 99.0 344.5 98.7 344.8 98.5 345.3 98.8 345.9 99.0 346.0 99.3 346.0Z" fill="none" stroke="#888888" stroke-width="0.6"/>
</g>
<path d="M107.3 366.7 L113 362 L118.1 359.6 L121 361.5 L122.6 365.3 L123.3 372 L124.2 378.8 L108.5 378.8 Z" fill="#8e8e8e" stroke="#222" stroke-width="1.0"/>
<path d="M118.1 359.8 L122.4 365.3 M117.3 362 L117.6 378.5 M112 377.6 L123 377.6" fill="none" stroke="#1a1a1a" stroke-width="1.2"/>
<path d="M110 370 L115 365 M120 368 L121.5 376" fill="none" stroke="#666" stroke-width="0.7"/>
<path d="M94.5 339 C100 338.3 108 338.6 113.3 339.6 L113.6 345.2 C108 346.3 100 346.2 94.5 345.6 Z" fill="#7a7a7a" stroke="#111" stroke-width="1.2"/>
<path d="M97 342.3 L109 342.1" stroke="#e4e4e4" stroke-width="1.2"/>
<path d="M95.2 339.2 C93.2 339.6 92.8 341.5 92.9 342.5 C93 343.8 93.5 345.2 95.2 345.5" fill="none" stroke="#111" stroke-width="1.5"/>
<clipPath id="e2a"><rect x="152.4" y="327.4" width="46.599999999999994" height="51.200000000000045"/></clipPath>
<g clip-path="url(#e2a)">
<path d="M170.5 381.0 168.3 381.0 167.4 380.5 166.8 380.4 164.8 380.9 162.8 380.8 162.1 381.0 160.5 381.2 156.5 381.2 154.3 381.1 154.0 381.0 153.7 380.3 153.3 379.7 151.5 378.6 150.9 378.0 150.5 377.3 150.3 376.5 150.6 374.0 150.0 372.3 150.0 370.0 150.0 369.2 151.1 367.5 151.2 366.8 151.0 366.0 150.0 364.7 150.0 355.8 153.0 353.9 154.0 353.5 154.8 353.5 156.0 354.3 156.8 354.1 157.5 353.5 158.0 352.1 158.8 351.6 161.8 350.9 166.9 350.3 169.0 349.3 169.8 349.1 170.8 349.3 172.3 350.1 174.0 350.9 176.3 352.6 177.1 352.8 177.5 352.5 178.0 351.5 178.7 349.3 179.4 346.0 179.8 345.3 180.0 345.1 180.5 344.9 181.0 345.2 181.3 345.5 181.7 346.8 181.5 347.8 180.7 349.3 180.8 350.5 181.2 351.5 182.5 353.3 182.8 354.3 183.0 355.3 182.9 358.3 182.1 365.3 181.5 366.5 180.8 367.2 180.0 367.4 178.5 367.2 178.3 367.3 177.8 367.8 176.7 369.3 176.4 370.0 176.5 370.8 177.0 372.5 176.9 373.3 176.8 373.8 175.9 375.0 175.1 376.8 174.6 377.5 172.1 379.3 170.5 381.0Z" fill="none" stroke="#8a8a8a" stroke-width="0.5"/>
<path d="M177.8 364.3 178.2 363.0 178.3 361.5 178.0 360.5 177.8 360.0 177.5 359.9 177.1 360.3 176.8 361.0 176.5 363.0 176.7 363.8 177.0 364.2 177.5 364.4 177.8 364.3Z" fill="none" stroke="#8a8a8a" stroke-width="0.5"/>
<path d="M166.8 376.3 168.2 375.3 168.4 374.8 168.4 374.5 167.8 374.0 166.5 373.7 166.0 373.9 165.6 374.3 165.3 375.3 165.4 375.8 165.8 376.2 166.3 376.4 166.8 376.3Z" fill="none" stroke="#8a8a8a" stroke-width="0.5"/>
<path d="M160.8 381.0 157.8 381.2 154.9 381.0 154.0 379.3 152.3 377.9 151.6 377.0 151.5 376.0 151.8 373.8 151.0 371.5 150.9 370.5 151.2 369.5 152.0 368.0 152.3 367.0 152.1 366.3 151.1 364.3 150.9 363.0 151.1 361.8 151.7 360.3 152.2 359.3 152.8 358.5 155.0 357.0 156.3 355.8 158.0 354.4 159.5 352.6 160.8 352.0 163.3 351.5 165.0 351.5 167.3 351.7 169.3 351.3 170.0 351.5 171.3 352.2 173.0 352.2 173.8 352.4 174.5 352.9 176.6 354.8 177.0 355.3 177.2 355.8 175.1 362.5 175.1 363.8 175.9 366.0 176.0 366.8 175.7 367.8 174.7 369.8 174.7 370.5 175.0 372.3 174.8 373.3 172.8 376.5 169.8 378.8 168.8 379.1 166.8 378.9 164.8 379.6 162.5 379.7 161.8 380.1 160.8 381.0Z" fill="none" stroke="#828282" stroke-width="0.51"/>
<path d="M180.5 365.3 180.0 365.3 179.8 365.2 179.4 364.5 179.3 361.3 178.3 357.3 177.6 355.5 177.7 354.8 178.6 352.5 179.0 351.8 179.5 351.4 180.0 351.7 181.6 353.3 182.1 354.3 182.3 355.3 182.3 357.8 182.1 359.8 181.3 364.2 181.0 364.8 180.5 365.3Z" fill="none" stroke="#828282" stroke-width="0.51"/>
<path d="M167.0 377.0 169.3 375.3 169.6 374.8 169.6 374.5 169.0 374.0 168.5 373.8 167.3 373.5 166.3 373.4 165.6 373.8 165.2 374.3 164.9 375.0 164.9 375.8 165.3 376.6 165.8 377.1 166.5 377.2 167.0 377.0Z" fill="none" stroke="#828282" stroke-width="0.51"/>
<path d="M159.8 381.0 155.9 381.0 154.6 379.0 152.9 377.5 152.4 376.8 152.2 375.8 152.6 373.3 151.9 371.5 151.8 370.5 152.0 369.8 152.9 367.8 153.1 366.8 152.9 366.0 152.2 364.5 152.1 363.5 153.2 360.3 153.8 359.5 155.5 358.1 156.9 356.3 158.5 354.8 159.8 353.3 160.5 352.8 161.3 352.5 163.0 352.2 165.0 352.2 169.0 352.9 171.0 353.8 173.0 353.6 173.8 353.8 174.5 354.3 175.4 355.3 175.7 356.0 175.8 356.8 175.6 358.3 174.4 362.5 174.4 363.8 174.9 365.8 174.9 366.8 174.7 367.8 173.8 369.8 173.9 372.0 173.7 373.0 173.0 373.9 172.5 374.2 172.0 374.3 171.3 374.2 169.3 373.5 167.3 373.1 166.3 373.1 165.7 373.3 165.0 373.9 164.6 375.0 164.5 376.0 164.7 377.8 164.5 378.2 164.0 378.5 162.8 378.6 162.3 378.8 161.3 379.6 160.0 381.0 159.8 381.0Z" fill="none" stroke="#7b7b7b" stroke-width="0.52"/>
<path d="M180.8 361.1 180.5 361.1 180.3 361.0 179.6 359.8 179.1 357.0 178.7 355.3 178.7 354.5 179.0 353.6 179.3 353.3 179.8 353.1 180.3 353.2 181.0 353.8 181.5 354.5 181.7 355.3 181.6 359.3 181.3 360.4 180.8 361.1Z" fill="none" stroke="#7b7b7b" stroke-width="0.52"/>
<path d="M158.5 380.9 157.5 380.8 156.8 380.4 155.0 378.5 153.5 377.2 153.0 376.3 153.1 375.0 153.6 373.5 154.0 372.9 155.0 372.2 155.3 371.8 155.2 371.5 154.8 371.3 153.5 371.2 153.3 370.9 153.1 370.5 153.3 369.5 154.5 365.8 154.8 365.5 155.3 365.3 155.6 365.0 155.5 364.6 155.3 364.5 154.5 365.0 154.3 365.0 153.8 364.3 153.7 363.3 154.3 361.8 154.8 361.3 156.0 360.8 156.8 360.2 157.2 359.5 157.2 357.8 157.6 356.8 160.0 354.0 161.3 353.2 162.8 352.9 164.5 353.0 168.5 353.8 170.8 354.7 172.8 354.7 173.8 355.0 174.3 355.4 174.7 356.0 175.0 356.8 175.0 357.5 173.8 362.8 173.8 363.8 174.2 365.8 174.2 366.8 173.9 367.8 173.0 369.8 173.0 371.8 172.7 372.5 172.3 373.0 171.5 373.2 166.5 372.6 165.5 372.9 165.0 373.3 164.5 374.0 163.7 376.3 163.4 376.8 162.0 377.7 159.5 380.3 158.5 380.9Z" fill="none" stroke="#747474" stroke-width="0.53"/>
<path d="M158.3 379.8 157.8 379.7 157.0 379.4 154.5 377.4 153.8 376.6 153.6 375.8 153.7 375.0 154.1 374.0 154.8 373.4 155.8 372.7 156.2 372.0 156.3 371.5 156.2 371.0 155.8 370.5 154.9 369.8 154.6 369.3 154.6 368.8 155.2 367.3 156.3 365.9 156.6 365.3 156.7 364.5 156.2 362.5 156.5 361.8 158.0 360.3 158.3 359.8 158.4 359.3 158.3 357.5 158.6 356.5 159.4 355.5 160.5 354.3 161.3 353.8 162.3 353.6 163.5 353.7 165.5 354.1 168.0 354.4 170.3 355.2 172.5 355.3 173.5 355.6 174.2 356.5 174.4 357.5 174.2 359.0 173.3 362.8 173.3 363.8 173.7 366.5 173.3 367.8 172.3 369.5 172.2 371.5 172.0 372.0 171.5 372.4 170.8 372.6 168.5 372.5 166.3 372.2 165.3 372.5 164.5 373.3 163.0 375.8 161.8 376.9 160.5 378.5 159.3 379.5 158.3 379.8Z" fill="none" stroke="#6d6d6d" stroke-width="0.54"/>
<path d="M161.4 365.3 161.7 364.8 161.8 364.5 161.5 364.3 161.3 364.3 160.9 364.8 161.0 365.4 161.4 365.3Z" fill="none" stroke="#6d6d6d" stroke-width="0.54"/>
<path d="M159.0 378.8 157.8 378.9 156.3 378.2 154.5 376.8 154.2 376.3 154.1 375.5 154.3 374.8 154.6 374.3 156.3 372.9 156.7 372.0 156.8 371.3 156.7 370.5 155.8 369.2 155.6 368.8 155.6 368.3 155.9 367.5 156.9 366.0 157.2 365.3 157.3 364.5 157.0 363.0 157.1 362.3 157.5 361.7 158.9 360.5 159.3 360.0 159.3 359.3 159.0 357.5 159.5 356.3 160.8 354.8 161.5 354.4 162.3 354.3 163.3 354.4 165.3 355.1 167.8 355.0 170.0 355.7 172.3 355.8 173.0 356.0 173.7 356.8 173.9 357.8 173.7 359.0 172.8 363.0 173.2 366.5 172.8 367.8 171.5 369.5 171.4 370.0 171.4 371.0 171.2 371.5 170.5 371.9 169.5 372.1 168.1 372.0 166.3 371.6 165.3 371.9 164.4 372.8 163.0 374.7 161.8 376.0 160.3 378.0 159.8 378.4 159.0 378.8Z" fill="none" stroke="#666666" stroke-width="0.55"/>
<path d="M165.0 360.5 165.5 360.3 165.8 360.0 166.0 359.5 166.0 358.8 165.8 358.4 165.3 358.1 164.3 358.0 163.5 358.5 163.2 359.0 163.3 359.5 163.6 360.0 164.0 360.3 165.0 360.5Z" fill="none" stroke="#666666" stroke-width="0.55"/>
<path d="M160.7 367.5 162.3 365.2 162.6 364.5 162.5 364.2 162.3 363.8 161.5 363.4 161.0 363.4 160.6 363.8 160.2 364.8 159.8 367.5 160.0 367.8 160.7 367.5Z" fill="none" stroke="#666666" stroke-width="0.55"/>
<path d="M167.7 369.5 167.9 369.3 167.6 369.0 167.3 369.0 167.1 369.3 167.3 369.5 167.7 369.5Z" fill="none" stroke="#666666" stroke-width="0.55"/>
</g>
<path d="M172.5 378.6 L172.8 357 C174 352 177 351 179.5 352 C182 353 183 356 183.2 360 L183.5 378.6 Z" fill="#e2e2e2" stroke="#888" stroke-width="0.6"/>
<path d="M174.8 378.6 L174.8 364 C175 361.5 176.2 360.6 177.4 360.6 C178.8 360.6 179.9 361.6 180 364 L180.2 378.6 Z" fill="#7a7a7a" stroke="#1a1a1a" stroke-width="1.1"/>
<path d="M177.3 364 L177.4 377" stroke="#bbb" stroke-width="0.7"/>
<path d="M179.5 352 L180 345.5 L181.5 346 L182 352" fill="none" stroke="#aaa" stroke-width="0.5"/>
<circle cx="157" cy="347" r="0.45" fill="#888"/>
<circle cx="160" cy="346.5" r="0.45" fill="#888"/>
<circle cx="163" cy="348" r="0.45" fill="#888"/>
<circle cx="167" cy="345.5" r="0.45" fill="#888"/>
<circle cx="169" cy="347.5" r="0.45" fill="#888"/>
<circle cx="171" cy="346" r="0.45" fill="#888"/>
<circle cx="159" cy="349" r="0.45" fill="#888"/>
<circle cx="165" cy="349.2" r="0.45" fill="#888"/>
<clipPath id="e3a"><rect x="213.3" y="327.4" width="47.0" height="51.200000000000045"/></clipPath>
<g clip-path="url(#e3a)">
<path d="M230.9 381.0 228.4 381.2 213.2 381.2 211.3 381.0 210.9 380.5 210.7 378.0 210.8 373.8 210.9 372.6 211.3 372.0 211.4 371.5 211.3 371.0 210.9 370.4 210.8 368.5 210.9 354.5 212.7 353.8 213.4 353.1 214.0 352.0 214.2 350.3 214.4 349.8 215.4 348.7 216.5 347.3 217.7 346.5 218.7 346.3 221.2 346.4 225.2 346.1 229.7 346.5 230.4 346.9 233.4 349.0 234.6 350.5 235.4 352.0 235.4 353.0 234.7 354.8 234.4 356.3 234.4 357.0 234.9 358.3 235.0 359.0 234.7 359.8 233.7 361.3 233.4 362.0 233.6 362.5 233.9 362.9 234.7 363.4 236.2 364.0 236.5 364.3 236.6 364.8 236.6 368.0 235.9 371.0 236.3 373.0 236.3 374.0 235.7 375.3 234.2 377.0 233.2 378.7 232.7 379.1 231.3 379.8 231.2 380.0 231.0 381.0 230.9 381.0Z" fill="none" stroke="#8a8a8a" stroke-width="0.5"/>
<path d="M223.4 381.0 219.9 381.2 212.4 381.1 212.0 381.0 211.5 380.0 210.9 379.3 210.8 377.0 210.9 373.9 211.9 372.5 212.2 371.5 211.9 370.5 210.9 369.4 210.8 368.3 210.9 361.7 211.3 360.3 211.4 356.8 211.7 356.0 212.1 355.5 213.7 353.9 214.9 352.3 215.4 351.9 216.7 351.3 217.4 350.8 217.7 350.3 218.1 348.8 218.7 348.3 219.4 348.1 222.4 348.1 225.2 347.8 229.2 347.9 230.4 348.4 232.4 349.9 233.4 351.0 233.9 352.3 234.0 353.3 233.3 357.0 233.4 357.8 233.8 358.8 233.8 359.5 233.0 361.5 232.9 362.0 233.4 363.0 234.9 364.8 235.3 366.0 235.4 367.8 234.5 370.0 234.4 370.8 234.4 371.5 234.9 373.0 235.0 373.8 234.8 374.3 234.4 375.0 232.2 377.6 231.4 377.9 229.4 378.2 227.7 379.2 226.4 378.7 225.4 378.8 224.2 379.5 223.9 380.0 223.6 381.0 223.4 381.0Z" fill="none" stroke="#828282" stroke-width="0.51"/>
<path d="M218.0 376.3 218.5 376.0 218.8 375.5 218.2 375.4 217.6 375.8 217.4 376.0 217.6 376.3 218.0 376.3Z" fill="none" stroke="#828282" stroke-width="0.51"/>
<path d="M228.9 381.0 226.9 381.0 226.9 380.5 227.2 380.0 227.7 379.6 228.2 379.9 228.7 380.4 228.9 380.8 228.9 381.0Z" fill="none" stroke="#828282" stroke-width="0.51"/>
<path d="M222.4 381.0 214.9 381.2 212.6 381.0 212.0 379.5 210.9 378.1 210.9 375.6 212.5 372.8 212.8 371.5 212.8 371.0 212.4 370.3 210.9 368.5 210.9 363.7 211.8 362.5 212.2 361.5 213.1 356.0 213.8 354.8 215.4 352.8 217.8 351.5 218.3 351.0 219.2 349.8 220.2 349.3 224.7 348.8 226.7 348.8 228.9 348.7 230.2 349.2 231.7 350.4 232.6 351.5 233.0 352.5 233.1 354.8 232.6 357.3 233.2 359.5 233.1 360.0 232.5 361.3 232.5 362.0 232.8 362.8 234.3 365.0 234.6 366.5 234.5 367.5 233.8 369.5 233.6 370.5 233.5 371.5 233.8 373.8 233.2 375.0 231.7 376.7 231.2 376.9 228.2 377.7 225.9 377.8 224.9 378.1 223.9 378.7 223.3 379.3 222.9 379.8 222.4 381.0Z" fill="none" stroke="#7b7b7b" stroke-width="0.52"/>
<path d="M222.4 363.0 222.9 362.7 223.1 362.0 222.9 361.5 222.2 361.3 221.5 361.8 221.4 362.5 221.9 363.0 222.4 363.0Z" fill="none" stroke="#7b7b7b" stroke-width="0.52"/>
<path d="M218.1 376.8 219.1 376.3 219.6 375.8 219.8 375.3 219.8 375.0 219.5 374.8 218.9 374.7 218.2 374.9 217.4 375.3 216.9 375.8 216.7 376.3 216.9 376.8 217.4 376.9 218.1 376.8Z" fill="none" stroke="#7b7b7b" stroke-width="0.52"/>
<path d="M221.2 381.0 213.2 381.0 211.9 376.8 212.2 375.0 213.4 372.0 213.5 370.8 213.1 369.8 211.2 367.3 211.0 366.5 211.1 365.8 211.7 364.7 212.4 364.1 212.9 364.0 213.2 364.1 213.4 364.5 213.7 366.3 214.2 367.2 214.7 367.5 214.9 367.4 215.2 367.0 215.5 365.3 215.4 363.2 214.8 360.3 214.1 356.5 214.2 355.8 214.5 355.0 215.7 353.5 216.4 352.9 218.5 352.0 219.9 350.6 220.9 350.1 224.2 349.7 226.7 350.0 228.2 349.6 228.9 349.7 230.0 350.3 231.1 351.5 231.9 352.9 232.3 354.3 232.3 355.3 231.8 357.5 232.4 359.8 231.9 361.3 231.9 361.8 232.2 362.5 233.6 364.8 233.9 366.3 233.8 367.3 233.0 369.5 232.7 373.8 232.0 375.0 230.9 375.9 227.9 376.8 225.4 377.1 223.9 377.9 222.5 379.0 221.4 381.0 221.2 381.0Z" fill="none" stroke="#747474" stroke-width="0.53"/>
<path d="M226.7 354.5 227.7 354.1 228.0 353.5 228.0 353.0 227.4 352.4 226.7 352.1 226.2 352.2 224.9 352.7 224.3 353.3 224.2 353.8 224.7 354.3 225.7 354.6 226.7 354.5Z" fill="none" stroke="#747474" stroke-width="0.53"/>
<path d="M222.7 363.5 223.1 363.3 223.4 362.9 223.6 361.8 223.2 361.0 222.7 360.8 222.2 360.8 221.6 361.0 221.1 361.5 220.8 362.3 220.9 363.0 221.2 363.5 221.4 363.6 222.7 363.5Z" fill="none" stroke="#747474" stroke-width="0.53"/>
<path d="M224.2 374.0 224.5 373.8 224.7 373.3 224.4 372.8 223.9 372.6 223.4 373.0 223.2 373.8 223.4 374.0 223.7 374.1 224.2 374.0Z" fill="none" stroke="#747474" stroke-width="0.53"/>
<path d="M217.6 377.5 219.4 376.7 220.4 376.0 220.8 375.3 220.8 374.8 220.6 374.5 219.9 374.1 219.2 374.1 217.6 374.8 216.5 375.5 216.1 376.3 216.2 377.0 216.7 377.5 217.6 377.5Z" fill="none" stroke="#747474" stroke-width="0.53"/>
<path d="M220.2 381.0 218.5 381.0 216.9 380.1 216.4 380.3 215.8 381.0 214.1 381.0 213.7 380.0 213.5 377.8 213.1 375.8 213.2 374.5 214.0 371.5 214.4 369.5 215.4 368.5 215.8 367.8 216.3 364.8 216.2 362.0 215.9 359.8 215.1 357.0 215.0 356.0 215.2 355.3 215.6 354.5 216.6 353.5 219.2 352.6 220.6 351.3 221.2 351.0 222.4 350.7 223.9 350.6 224.6 350.8 224.9 351.3 224.7 351.8 223.5 353.0 223.3 353.5 223.7 354.3 224.4 354.8 225.9 355.1 227.4 354.9 228.2 354.5 229.4 353.5 229.9 353.2 230.7 353.4 231.4 354.2 231.7 355.3 231.3 357.8 231.6 359.8 231.5 361.5 231.8 362.5 233.1 364.8 233.4 365.8 233.4 366.5 232.5 369.0 232.0 373.3 231.7 374.0 231.4 374.5 230.9 374.9 230.2 375.3 225.4 376.3 224.4 376.7 222.2 378.3 220.9 380.3 220.2 381.0Z" fill="none" stroke="#6d6d6d" stroke-width="0.54"/>
<path d="M220.1 365.8 221.0 364.5 223.2 363.8 223.7 363.3 223.9 362.6 224.0 361.8 223.8 361.0 223.4 360.7 222.7 360.4 221.9 360.4 221.2 360.8 220.8 361.3 220.4 362.3 220.1 364.0 219.2 365.3 219.2 365.5 219.4 365.9 219.7 365.9 220.1 365.8Z" fill="none" stroke="#6d6d6d" stroke-width="0.54"/>
<path d="M217.1 378.5 218.7 377.6 220.7 376.7 222.2 375.3 224.2 375.1 224.9 374.7 225.3 374.3 225.5 373.5 225.3 372.8 225.0 372.3 224.4 371.8 223.9 371.8 223.2 372.3 221.9 373.7 221.4 373.8 220.2 373.5 219.4 373.5 216.2 375.3 215.7 375.8 215.5 376.3 215.5 377.3 216.2 378.4 216.7 378.6 217.1 378.5Z" fill="none" stroke="#6d6d6d" stroke-width="0.54"/>
<path d="M214.9 375.5 214.4 375.6 214.0 375.0 213.8 374.3 214.0 373.3 214.9 370.2 216.2 368.5 216.4 368.0 217.1 365.0 216.5 359.0 215.7 356.3 215.8 355.5 216.2 354.7 216.7 354.2 217.2 353.9 219.7 353.5 221.4 352.8 221.9 353.0 222.7 354.0 223.4 354.6 224.2 355.1 225.2 355.3 226.2 355.4 227.4 355.3 229.9 354.4 230.7 354.6 231.0 355.0 231.1 355.5 230.8 357.8 231.1 361.5 231.4 362.5 232.7 364.5 233.0 365.8 232.8 366.8 232.0 368.8 231.5 372.8 230.9 374.0 230.2 374.5 229.4 374.7 227.9 374.8 226.9 374.6 226.6 374.3 225.3 371.8 224.9 371.4 224.2 371.2 223.2 371.6 221.7 372.9 221.2 373.1 219.7 372.9 219.2 373.1 217.4 374.2 214.9 375.5Z" fill="none" stroke="#666666" stroke-width="0.55"/>
<path d="M220.0 366.5 220.7 366.1 221.7 364.9 223.4 364.3 223.9 363.8 224.2 362.8 224.3 361.5 224.1 360.8 223.6 360.3 222.7 360.0 221.7 360.1 220.9 360.5 220.4 361.2 219.6 363.5 218.3 365.0 218.2 365.5 218.3 366.0 218.9 366.5 219.4 366.7 220.0 366.5Z" fill="none" stroke="#666666" stroke-width="0.55"/>
<path d="M219.9 380.1 219.4 380.2 218.7 380.0 218.2 379.5 218.1 379.0 218.3 378.5 218.9 378.1 219.7 377.8 220.4 377.8 220.8 378.0 220.9 378.5 220.5 379.5 219.9 380.1Z" fill="none" stroke="#666666" stroke-width="0.55"/>
</g>
<path d="M233.7 378.6 L233.9 347.5 C237 346 240.5 344.6 243.9 344.3 L244.3 378.6 Z" fill="#c2c2c2" stroke="#888" stroke-width="0.6"/>
<path d="M235.3 347.2 L235.60000000000002 378.6" stroke="#999" stroke-width="0.7"/>
<path d="M236.8 346.6 L237.10000000000002 378.6" stroke="#8a8a8a" stroke-width="0.7"/>
<path d="M238.3 346.0 L238.60000000000002 378.6" stroke="#888" stroke-width="0.7"/>
<path d="M239.8 345.4 L240.10000000000002 378.6" stroke="#7a7a7a" stroke-width="0.7"/>
<path d="M241.3 345.0 L241.60000000000002 378.6" stroke="#808080" stroke-width="0.7"/>
<path d="M242.7 344.7 L243.0 378.6" stroke="#909090" stroke-width="0.7"/>
<path d="M238.5 378.6 L238.8 362 C239.5 360 241 360 241.8 362 L242.2 378.6 Z" fill="#777" stroke="#333" stroke-width="0.7"/>
<ellipse cx="237.7" cy="377.4" rx="1.9" ry="1.2" fill="#ddd" stroke="#111" stroke-width="0.9"/>
<rect x="31.4" y="335.1" width="20.0" height="15.3" fill="none" stroke="#5a5a5a" stroke-width="0.75"/>
<rect x="31.2" y="327.3" width="47.0" height="51.69999999999999" fill="none" stroke="#777" stroke-width="0.8"/>
<line x1="31.2" y1="327.0" x2="31.2" y2="380.5" stroke="#333" stroke-width="1.0"/>
<line x1="29.7" y1="379.0" x2="78.2" y2="379.0" stroke="#333" stroke-width="1.0"/>
<line x1="29.8" y1="333.1421" x2="31.2" y2="333.1421" stroke="#444" stroke-width="0.6"/>
<text x="23.50" y="334.44" font-size="3.6" fill="#333" stroke="#333" stroke-width="0.12" textLength="6.2" lengthAdjust="spacingAndGlyphs">10⁵</text>
<line x1="29.8" y1="344.9814" x2="31.2" y2="344.9814" stroke="#444" stroke-width="0.6"/>
<text x="22.70" y="346.28" font-size="3.6" fill="#333" stroke="#333" stroke-width="0.12" textLength="7.0" lengthAdjust="spacingAndGlyphs">10⁴</text>
<line x1="29.8" y1="357.0792" x2="31.2" y2="357.0792" stroke="#444" stroke-width="0.6"/>
<text x="22.70" y="358.38" font-size="3.6" fill="#333" stroke="#333" stroke-width="0.12" textLength="7.0" lengthAdjust="spacingAndGlyphs">10³</text>
<line x1="29.8" y1="369.1253" x2="31.2" y2="369.1253" stroke="#444" stroke-width="0.6"/>
<text x="25.70" y="370.43" font-size="3.6" fill="#333" stroke="#333" stroke-width="0.12" textLength="4.0" lengthAdjust="spacingAndGlyphs">10²</text>
<line x1="29.8" y1="374.03679999999997" x2="31.2" y2="374.03679999999997" stroke="#444" stroke-width="0.6"/>
<text x="27.70" y="375.34" font-size="3.6" fill="#333" stroke="#333" stroke-width="0.12" textLength="2.0" lengthAdjust="spacingAndGlyphs">0</text>
<text x="33.78" y="385.00" font-size="3.4" fill="#333" stroke="#333" stroke-width="0.12" textLength="8.0" lengthAdjust="spacingAndGlyphs">0 100</text>
<text x="50.61" y="385.00" font-size="3.4" fill="#333" stroke="#333" stroke-width="0.12" textLength="4.8" lengthAdjust="spacingAndGlyphs">1000</text>
<text x="59.53" y="385.00" font-size="3.4" fill="#333" stroke="#333" stroke-width="0.12" textLength="8.2" lengthAdjust="spacingAndGlyphs">10000</text>
<text x="70.70" y="385.00" font-size="3.4" fill="#333" stroke="#333" stroke-width="0.12" textLength="5.6" lengthAdjust="spacingAndGlyphs">10⁵</text>
<rect x="92.60000000000001" y="335.2" width="20.0" height="15.3" fill="none" stroke="#5a5a5a" stroke-width="0.75"/>
<rect x="92.4" y="327.4" width="46.79999999999998" height="51.60000000000002" fill="none" stroke="#777" stroke-width="0.8"/>
<line x1="92.4" y1="327.09999999999997" x2="92.4" y2="380.5" stroke="#333" stroke-width="1.0"/>
<line x1="90.9" y1="379.0" x2="139.2" y2="379.0" stroke="#333" stroke-width="1.0"/>
<line x1="91.0" y1="333.2308" x2="92.4" y2="333.2308" stroke="#444" stroke-width="0.6"/>
<text x="84.70" y="334.53" font-size="3.6" fill="#333" stroke="#333" stroke-width="0.12" textLength="6.2" lengthAdjust="spacingAndGlyphs">10⁵</text>
<line x1="91.0" y1="345.0472" x2="92.4" y2="345.0472" stroke="#444" stroke-width="0.6"/>
<text x="83.90" y="346.35" font-size="3.6" fill="#333" stroke="#333" stroke-width="0.12" textLength="7.0" lengthAdjust="spacingAndGlyphs">10⁴</text>
<line x1="91.0" y1="357.1216" x2="92.4" y2="357.1216" stroke="#444" stroke-width="0.6"/>
<text x="83.90" y="358.42" font-size="3.6" fill="#333" stroke="#333" stroke-width="0.12" textLength="7.0" lengthAdjust="spacingAndGlyphs">10³</text>
<line x1="91.0" y1="369.1444" x2="92.4" y2="369.1444" stroke="#444" stroke-width="0.6"/>
<text x="86.90" y="370.44" font-size="3.6" fill="#333" stroke="#333" stroke-width="0.12" textLength="4.0" lengthAdjust="spacingAndGlyphs">10²</text>
<line x1="91.0" y1="374.0464" x2="92.4" y2="374.0464" stroke="#444" stroke-width="0.6"/>
<text x="88.90" y="375.35" font-size="3.6" fill="#333" stroke="#333" stroke-width="0.12" textLength="2.0" lengthAdjust="spacingAndGlyphs">0</text>
<text x="94.95" y="385.00" font-size="3.4" fill="#333" stroke="#333" stroke-width="0.12" textLength="8.0" lengthAdjust="spacingAndGlyphs">0 100</text>
<text x="111.72" y="385.00" font-size="3.4" fill="#333" stroke="#333" stroke-width="0.12" textLength="4.8" lengthAdjust="spacingAndGlyphs">1000</text>
<text x="120.59" y="385.00" font-size="3.4" fill="#333" stroke="#333" stroke-width="0.12" textLength="8.2" lengthAdjust="spacingAndGlyphs">10000</text>
<text x="131.72" y="385.00" font-size="3.4" fill="#333" stroke="#333" stroke-width="0.12" textLength="5.6" lengthAdjust="spacingAndGlyphs">10⁵</text>
<rect x="152.6" y="335.2" width="20.0" height="15.3" fill="none" stroke="#5a5a5a" stroke-width="0.75"/>
<rect x="152.4" y="327.4" width="46.599999999999994" height="51.200000000000045" fill="none" stroke="#777" stroke-width="0.8"/>
<line x1="152.4" y1="327.09999999999997" x2="152.4" y2="380.1" stroke="#333" stroke-width="1.0"/>
<line x1="150.9" y1="378.6" x2="199.0" y2="378.6" stroke="#333" stroke-width="1.0"/>
<line x1="151.0" y1="333.18559999999997" x2="152.4" y2="333.18559999999997" stroke="#444" stroke-width="0.6"/>
<text x="144.70" y="334.49" font-size="3.6" fill="#333" stroke="#333" stroke-width="0.12" textLength="6.2" lengthAdjust="spacingAndGlyphs">10⁵</text>
<line x1="151.0" y1="344.9104" x2="152.4" y2="344.9104" stroke="#444" stroke-width="0.6"/>
<text x="143.90" y="346.21" font-size="3.6" fill="#333" stroke="#333" stroke-width="0.12" textLength="7.0" lengthAdjust="spacingAndGlyphs">10⁴</text>
<line x1="151.0" y1="356.8912" x2="152.4" y2="356.8912" stroke="#444" stroke-width="0.6"/>
<text x="143.90" y="358.19" font-size="3.6" fill="#333" stroke="#333" stroke-width="0.12" textLength="7.0" lengthAdjust="spacingAndGlyphs">10³</text>
<line x1="151.0" y1="368.8208" x2="152.4" y2="368.8208" stroke="#444" stroke-width="0.6"/>
<text x="146.90" y="370.12" font-size="3.6" fill="#333" stroke="#333" stroke-width="0.12" textLength="4.0" lengthAdjust="spacingAndGlyphs">10²</text>
<line x1="151.0" y1="373.6848" x2="152.4" y2="373.6848" stroke="#444" stroke-width="0.6"/>
<text x="148.90" y="374.98" font-size="3.6" fill="#333" stroke="#333" stroke-width="0.12" textLength="2.0" lengthAdjust="spacingAndGlyphs">0</text>
<text x="154.92" y="384.60" font-size="3.4" fill="#333" stroke="#333" stroke-width="0.12" textLength="8.0" lengthAdjust="spacingAndGlyphs">0 100</text>
<text x="171.62" y="384.60" font-size="3.4" fill="#333" stroke="#333" stroke-width="0.12" textLength="4.8" lengthAdjust="spacingAndGlyphs">1000</text>
<text x="180.45" y="384.60" font-size="3.4" fill="#333" stroke="#333" stroke-width="0.12" textLength="8.2" lengthAdjust="spacingAndGlyphs">10000</text>
<text x="191.54" y="384.60" font-size="3.4" fill="#333" stroke="#333" stroke-width="0.12" textLength="5.6" lengthAdjust="spacingAndGlyphs">10⁵</text>
<rect x="213.5" y="335.2" width="20.0" height="15.3" fill="none" stroke="#5a5a5a" stroke-width="0.75"/>
<rect x="213.3" y="327.4" width="47.0" height="51.200000000000045" fill="none" stroke="#777" stroke-width="0.8"/>
<line x1="213.3" y1="327.09999999999997" x2="213.3" y2="380.1" stroke="#333" stroke-width="1.0"/>
<line x1="211.8" y1="378.6" x2="260.3" y2="378.6" stroke="#333" stroke-width="1.0"/>
<line x1="211.9" y1="333.18559999999997" x2="213.3" y2="333.18559999999997" stroke="#444" stroke-width="0.6"/>
<text x="205.60" y="334.49" font-size="3.6" fill="#333" stroke="#333" stroke-width="0.12" textLength="6.2" lengthAdjust="spacingAndGlyphs">10⁵</text>
<line x1="211.9" y1="344.9104" x2="213.3" y2="344.9104" stroke="#444" stroke-width="0.6"/>
<text x="204.80" y="346.21" font-size="3.6" fill="#333" stroke="#333" stroke-width="0.12" textLength="7.0" lengthAdjust="spacingAndGlyphs">10⁴</text>
<line x1="211.9" y1="356.8912" x2="213.3" y2="356.8912" stroke="#444" stroke-width="0.6"/>
<text x="204.80" y="358.19" font-size="3.6" fill="#333" stroke="#333" stroke-width="0.12" textLength="7.0" lengthAdjust="spacingAndGlyphs">10³</text>
<line x1="211.9" y1="368.8208" x2="213.3" y2="368.8208" stroke="#444" stroke-width="0.6"/>
<text x="207.80" y="370.12" font-size="3.6" fill="#333" stroke="#333" stroke-width="0.12" textLength="4.0" lengthAdjust="spacingAndGlyphs">10²</text>
<line x1="211.9" y1="373.6848" x2="213.3" y2="373.6848" stroke="#444" stroke-width="0.6"/>
<text x="209.80" y="374.98" font-size="3.6" fill="#333" stroke="#333" stroke-width="0.12" textLength="2.0" lengthAdjust="spacingAndGlyphs">0</text>
<text x="215.88" y="384.60" font-size="3.4" fill="#333" stroke="#333" stroke-width="0.12" textLength="8.0" lengthAdjust="spacingAndGlyphs">0 100</text>
<text x="232.71" y="384.60" font-size="3.4" fill="#333" stroke="#333" stroke-width="0.12" textLength="4.8" lengthAdjust="spacingAndGlyphs">1000</text>
<text x="241.63" y="384.60" font-size="3.4" fill="#333" stroke="#333" stroke-width="0.12" textLength="8.2" lengthAdjust="spacingAndGlyphs">10000</text>
<text x="252.80" y="384.60" font-size="3.4" fill="#333" stroke="#333" stroke-width="0.12" textLength="5.6" lengthAdjust="spacingAndGlyphs">10⁵</text>
<text x="63.59" y="270.1" font-size="9.3" text-anchor="start" fill="#111" stroke="#111" stroke-width="0.25" textLength="10.54" lengthAdjust="spacingAndGlyphs">34</text>
<text x="125.06" y="270.1" font-size="9.3" text-anchor="start" fill="#111" stroke="#111" stroke-width="0.25" textLength="9.63" lengthAdjust="spacingAndGlyphs">41</text>
<text x="181.57" y="269.1" font-size="9.3" text-anchor="start" fill="#111" stroke="#111" stroke-width="0.25" textLength="12.61" lengthAdjust="spacingAndGlyphs">1.1</text>
<text x="242.53" y="270.3" font-size="9.3" text-anchor="start" fill="#111" stroke="#111" stroke-width="0.25" textLength="14.67" lengthAdjust="spacingAndGlyphs">0.8</text>
<text x="63.47" y="338.7" font-size="9.3" text-anchor="start" fill="#111" stroke="#111" stroke-width="0.25" textLength="10.71" lengthAdjust="spacingAndGlyphs">26</text>
<text x="124.77" y="338.9" font-size="9.3" text-anchor="start" fill="#111" stroke="#111" stroke-width="0.25" textLength="10.69" lengthAdjust="spacingAndGlyphs">25</text>
<text x="181.14" y="338.6" font-size="9.3" text-anchor="start" fill="#111" stroke="#111" stroke-width="0.25" textLength="14.33" lengthAdjust="spacingAndGlyphs">0.5</text>
<text x="243.19" y="338.6" font-size="9.3" text-anchor="start" fill="#111" stroke="#111" stroke-width="0.25" textLength="14.07" lengthAdjust="spacingAndGlyphs">1.7</text>
</svg>
</body></html>
